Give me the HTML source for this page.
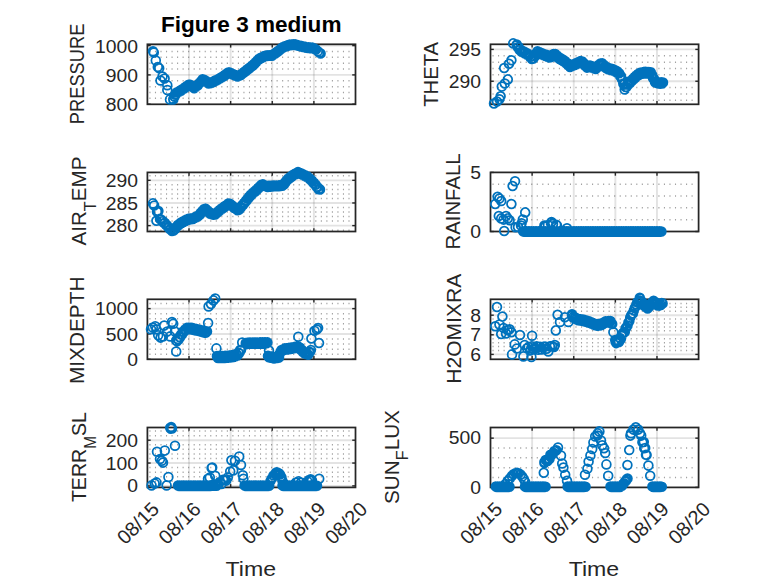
<!DOCTYPE html>
<html><head><meta charset="utf-8"><style>
html,body{margin:0;padding:0;background:#fff;}
body{width:778px;height:583px;overflow:hidden;}
svg{display:block;font-family:"Liberation Sans",sans-serif;}
</style></head><body>
<svg width="778" height="583" viewBox="0 0 778 583">
<rect width="778" height="583" fill="#fff"/>
<line x1="149.40" y1="98.35" x2="352.00" y2="98.35" stroke="#a2a2a2" stroke-width="1.5" stroke-dasharray="1.1 4.429"/>
<line x1="149.40" y1="92.49" x2="352.00" y2="92.49" stroke="#a2a2a2" stroke-width="1.5" stroke-dasharray="1.1 4.429"/>
<line x1="149.40" y1="86.63" x2="352.00" y2="86.63" stroke="#a2a2a2" stroke-width="1.5" stroke-dasharray="1.1 4.429"/>
<line x1="149.40" y1="80.76" x2="352.00" y2="80.76" stroke="#a2a2a2" stroke-width="1.5" stroke-dasharray="1.1 4.429"/>
<line x1="149.40" y1="69.04" x2="352.00" y2="69.04" stroke="#a2a2a2" stroke-width="1.5" stroke-dasharray="1.1 4.429"/>
<line x1="149.40" y1="63.18" x2="352.00" y2="63.18" stroke="#a2a2a2" stroke-width="1.5" stroke-dasharray="1.1 4.429"/>
<line x1="149.40" y1="57.31" x2="352.00" y2="57.31" stroke="#a2a2a2" stroke-width="1.5" stroke-dasharray="1.1 4.429"/>
<line x1="149.40" y1="51.45" x2="352.00" y2="51.45" stroke="#a2a2a2" stroke-width="1.5" stroke-dasharray="1.1 4.429"/>
<line x1="147.40" y1="74.90" x2="355.50" y2="74.90" stroke="#262626" stroke-opacity="0.13" stroke-width="1.9"/>
<line x1="147.40" y1="45.59" x2="355.50" y2="45.59" stroke="#262626" stroke-opacity="0.13" stroke-width="1.9"/>
<line x1="189.02" y1="44.30" x2="189.02" y2="104.30" stroke="#262626" stroke-opacity="0.13" stroke-width="1.9"/>
<line x1="230.64" y1="44.30" x2="230.64" y2="104.30" stroke="#262626" stroke-opacity="0.13" stroke-width="1.9"/>
<line x1="272.26" y1="44.30" x2="272.26" y2="104.30" stroke="#262626" stroke-opacity="0.13" stroke-width="1.9"/>
<line x1="313.88" y1="44.30" x2="313.88" y2="104.30" stroke="#262626" stroke-opacity="0.13" stroke-width="1.9"/>
<line x1="492.50" y1="100.35" x2="695.10" y2="100.35" stroke="#a2a2a2" stroke-width="1.5" stroke-dasharray="1.1 4.429"/>
<line x1="492.50" y1="93.98" x2="695.10" y2="93.98" stroke="#a2a2a2" stroke-width="1.5" stroke-dasharray="1.1 4.429"/>
<line x1="492.50" y1="87.61" x2="695.10" y2="87.61" stroke="#a2a2a2" stroke-width="1.5" stroke-dasharray="1.1 4.429"/>
<line x1="492.50" y1="74.87" x2="695.10" y2="74.87" stroke="#a2a2a2" stroke-width="1.5" stroke-dasharray="1.1 4.429"/>
<line x1="492.50" y1="68.50" x2="695.10" y2="68.50" stroke="#a2a2a2" stroke-width="1.5" stroke-dasharray="1.1 4.429"/>
<line x1="492.50" y1="62.13" x2="695.10" y2="62.13" stroke="#a2a2a2" stroke-width="1.5" stroke-dasharray="1.1 4.429"/>
<line x1="492.50" y1="55.76" x2="695.10" y2="55.76" stroke="#a2a2a2" stroke-width="1.5" stroke-dasharray="1.1 4.429"/>
<line x1="490.50" y1="81.24" x2="698.60" y2="81.24" stroke="#262626" stroke-opacity="0.13" stroke-width="1.9"/>
<line x1="490.50" y1="49.40" x2="698.60" y2="49.40" stroke="#262626" stroke-opacity="0.13" stroke-width="1.9"/>
<line x1="532.12" y1="44.30" x2="532.12" y2="104.30" stroke="#262626" stroke-opacity="0.13" stroke-width="1.9"/>
<line x1="573.74" y1="44.30" x2="573.74" y2="104.30" stroke="#262626" stroke-opacity="0.13" stroke-width="1.9"/>
<line x1="615.36" y1="44.30" x2="615.36" y2="104.30" stroke="#262626" stroke-opacity="0.13" stroke-width="1.9"/>
<line x1="656.98" y1="44.30" x2="656.98" y2="104.30" stroke="#262626" stroke-opacity="0.13" stroke-width="1.9"/>
<line x1="149.40" y1="230.14" x2="352.00" y2="230.14" stroke="#a2a2a2" stroke-width="1.5" stroke-dasharray="1.1 4.429"/>
<line x1="149.40" y1="221.08" x2="352.00" y2="221.08" stroke="#a2a2a2" stroke-width="1.5" stroke-dasharray="1.1 4.429"/>
<line x1="149.40" y1="216.56" x2="352.00" y2="216.56" stroke="#a2a2a2" stroke-width="1.5" stroke-dasharray="1.1 4.429"/>
<line x1="149.40" y1="212.03" x2="352.00" y2="212.03" stroke="#a2a2a2" stroke-width="1.5" stroke-dasharray="1.1 4.429"/>
<line x1="149.40" y1="207.50" x2="352.00" y2="207.50" stroke="#a2a2a2" stroke-width="1.5" stroke-dasharray="1.1 4.429"/>
<line x1="149.40" y1="198.44" x2="352.00" y2="198.44" stroke="#a2a2a2" stroke-width="1.5" stroke-dasharray="1.1 4.429"/>
<line x1="149.40" y1="193.91" x2="352.00" y2="193.91" stroke="#a2a2a2" stroke-width="1.5" stroke-dasharray="1.1 4.429"/>
<line x1="149.40" y1="189.38" x2="352.00" y2="189.38" stroke="#a2a2a2" stroke-width="1.5" stroke-dasharray="1.1 4.429"/>
<line x1="149.40" y1="184.85" x2="352.00" y2="184.85" stroke="#a2a2a2" stroke-width="1.5" stroke-dasharray="1.1 4.429"/>
<line x1="149.40" y1="175.80" x2="352.00" y2="175.80" stroke="#a2a2a2" stroke-width="1.5" stroke-dasharray="1.1 4.429"/>
<line x1="147.40" y1="225.61" x2="355.50" y2="225.61" stroke="#262626" stroke-opacity="0.13" stroke-width="1.9"/>
<line x1="147.40" y1="202.97" x2="355.50" y2="202.97" stroke="#262626" stroke-opacity="0.13" stroke-width="1.9"/>
<line x1="147.40" y1="180.33" x2="355.50" y2="180.33" stroke="#262626" stroke-opacity="0.13" stroke-width="1.9"/>
<line x1="189.02" y1="172.40" x2="189.02" y2="231.50" stroke="#262626" stroke-opacity="0.13" stroke-width="1.9"/>
<line x1="230.64" y1="172.40" x2="230.64" y2="231.50" stroke="#262626" stroke-opacity="0.13" stroke-width="1.9"/>
<line x1="272.26" y1="172.40" x2="272.26" y2="231.50" stroke="#262626" stroke-opacity="0.13" stroke-width="1.9"/>
<line x1="313.88" y1="172.40" x2="313.88" y2="231.50" stroke="#262626" stroke-opacity="0.13" stroke-width="1.9"/>
<line x1="492.50" y1="219.68" x2="695.10" y2="219.68" stroke="#a2a2a2" stroke-width="1.5" stroke-dasharray="1.1 4.429"/>
<line x1="492.50" y1="207.86" x2="695.10" y2="207.86" stroke="#a2a2a2" stroke-width="1.5" stroke-dasharray="1.1 4.429"/>
<line x1="492.50" y1="196.04" x2="695.10" y2="196.04" stroke="#a2a2a2" stroke-width="1.5" stroke-dasharray="1.1 4.429"/>
<line x1="492.50" y1="184.22" x2="695.10" y2="184.22" stroke="#a2a2a2" stroke-width="1.5" stroke-dasharray="1.1 4.429"/>
<line x1="532.12" y1="172.40" x2="532.12" y2="231.50" stroke="#262626" stroke-opacity="0.13" stroke-width="1.9"/>
<line x1="573.74" y1="172.40" x2="573.74" y2="231.50" stroke="#262626" stroke-opacity="0.13" stroke-width="1.9"/>
<line x1="615.36" y1="172.40" x2="615.36" y2="231.50" stroke="#262626" stroke-opacity="0.13" stroke-width="1.9"/>
<line x1="656.98" y1="172.40" x2="656.98" y2="231.50" stroke="#262626" stroke-opacity="0.13" stroke-width="1.9"/>
<line x1="149.40" y1="354.23" x2="352.00" y2="354.23" stroke="#a2a2a2" stroke-width="1.5" stroke-dasharray="1.1 4.429"/>
<line x1="149.40" y1="349.16" x2="352.00" y2="349.16" stroke="#a2a2a2" stroke-width="1.5" stroke-dasharray="1.1 4.429"/>
<line x1="149.40" y1="344.10" x2="352.00" y2="344.10" stroke="#a2a2a2" stroke-width="1.5" stroke-dasharray="1.1 4.429"/>
<line x1="149.40" y1="339.03" x2="352.00" y2="339.03" stroke="#a2a2a2" stroke-width="1.5" stroke-dasharray="1.1 4.429"/>
<line x1="149.40" y1="328.89" x2="352.00" y2="328.89" stroke="#a2a2a2" stroke-width="1.5" stroke-dasharray="1.1 4.429"/>
<line x1="149.40" y1="323.83" x2="352.00" y2="323.83" stroke="#a2a2a2" stroke-width="1.5" stroke-dasharray="1.1 4.429"/>
<line x1="149.40" y1="318.76" x2="352.00" y2="318.76" stroke="#a2a2a2" stroke-width="1.5" stroke-dasharray="1.1 4.429"/>
<line x1="149.40" y1="313.69" x2="352.00" y2="313.69" stroke="#a2a2a2" stroke-width="1.5" stroke-dasharray="1.1 4.429"/>
<line x1="149.40" y1="303.56" x2="352.00" y2="303.56" stroke="#a2a2a2" stroke-width="1.5" stroke-dasharray="1.1 4.429"/>
<line x1="147.40" y1="333.96" x2="355.50" y2="333.96" stroke="#262626" stroke-opacity="0.13" stroke-width="1.9"/>
<line x1="147.40" y1="308.62" x2="355.50" y2="308.62" stroke="#262626" stroke-opacity="0.13" stroke-width="1.9"/>
<line x1="189.02" y1="299.30" x2="189.02" y2="359.30" stroke="#262626" stroke-opacity="0.13" stroke-width="1.9"/>
<line x1="230.64" y1="299.30" x2="230.64" y2="359.30" stroke="#262626" stroke-opacity="0.13" stroke-width="1.9"/>
<line x1="272.26" y1="299.30" x2="272.26" y2="359.30" stroke="#262626" stroke-opacity="0.13" stroke-width="1.9"/>
<line x1="313.88" y1="299.30" x2="313.88" y2="359.30" stroke="#262626" stroke-opacity="0.13" stroke-width="1.9"/>
<line x1="492.50" y1="350.48" x2="695.10" y2="350.48" stroke="#a2a2a2" stroke-width="1.5" stroke-dasharray="1.1 4.429"/>
<line x1="492.50" y1="346.55" x2="695.10" y2="346.55" stroke="#a2a2a2" stroke-width="1.5" stroke-dasharray="1.1 4.429"/>
<line x1="492.50" y1="342.63" x2="695.10" y2="342.63" stroke="#a2a2a2" stroke-width="1.5" stroke-dasharray="1.1 4.429"/>
<line x1="492.50" y1="338.71" x2="695.10" y2="338.71" stroke="#a2a2a2" stroke-width="1.5" stroke-dasharray="1.1 4.429"/>
<line x1="492.50" y1="330.87" x2="695.10" y2="330.87" stroke="#a2a2a2" stroke-width="1.5" stroke-dasharray="1.1 4.429"/>
<line x1="492.50" y1="326.95" x2="695.10" y2="326.95" stroke="#a2a2a2" stroke-width="1.5" stroke-dasharray="1.1 4.429"/>
<line x1="492.50" y1="323.03" x2="695.10" y2="323.03" stroke="#a2a2a2" stroke-width="1.5" stroke-dasharray="1.1 4.429"/>
<line x1="492.50" y1="319.10" x2="695.10" y2="319.10" stroke="#a2a2a2" stroke-width="1.5" stroke-dasharray="1.1 4.429"/>
<line x1="492.50" y1="311.26" x2="695.10" y2="311.26" stroke="#a2a2a2" stroke-width="1.5" stroke-dasharray="1.1 4.429"/>
<line x1="492.50" y1="307.34" x2="695.10" y2="307.34" stroke="#a2a2a2" stroke-width="1.5" stroke-dasharray="1.1 4.429"/>
<line x1="492.50" y1="303.42" x2="695.10" y2="303.42" stroke="#a2a2a2" stroke-width="1.5" stroke-dasharray="1.1 4.429"/>
<line x1="490.50" y1="354.40" x2="698.60" y2="354.40" stroke="#262626" stroke-opacity="0.13" stroke-width="1.9"/>
<line x1="490.50" y1="334.79" x2="698.60" y2="334.79" stroke="#262626" stroke-opacity="0.13" stroke-width="1.9"/>
<line x1="490.50" y1="315.18" x2="698.60" y2="315.18" stroke="#262626" stroke-opacity="0.13" stroke-width="1.9"/>
<line x1="532.12" y1="299.30" x2="532.12" y2="359.30" stroke="#262626" stroke-opacity="0.13" stroke-width="1.9"/>
<line x1="573.74" y1="299.30" x2="573.74" y2="359.30" stroke="#262626" stroke-opacity="0.13" stroke-width="1.9"/>
<line x1="615.36" y1="299.30" x2="615.36" y2="359.30" stroke="#262626" stroke-opacity="0.13" stroke-width="1.9"/>
<line x1="656.98" y1="299.30" x2="656.98" y2="359.30" stroke="#262626" stroke-opacity="0.13" stroke-width="1.9"/>
<line x1="149.40" y1="481.32" x2="352.00" y2="481.32" stroke="#a2a2a2" stroke-width="1.5" stroke-dasharray="1.1 4.429"/>
<line x1="149.40" y1="476.75" x2="352.00" y2="476.75" stroke="#a2a2a2" stroke-width="1.5" stroke-dasharray="1.1 4.429"/>
<line x1="149.40" y1="472.19" x2="352.00" y2="472.19" stroke="#a2a2a2" stroke-width="1.5" stroke-dasharray="1.1 4.429"/>
<line x1="149.40" y1="467.62" x2="352.00" y2="467.62" stroke="#a2a2a2" stroke-width="1.5" stroke-dasharray="1.1 4.429"/>
<line x1="149.40" y1="458.48" x2="352.00" y2="458.48" stroke="#a2a2a2" stroke-width="1.5" stroke-dasharray="1.1 4.429"/>
<line x1="149.40" y1="453.91" x2="352.00" y2="453.91" stroke="#a2a2a2" stroke-width="1.5" stroke-dasharray="1.1 4.429"/>
<line x1="149.40" y1="449.34" x2="352.00" y2="449.34" stroke="#a2a2a2" stroke-width="1.5" stroke-dasharray="1.1 4.429"/>
<line x1="149.40" y1="444.77" x2="352.00" y2="444.77" stroke="#a2a2a2" stroke-width="1.5" stroke-dasharray="1.1 4.429"/>
<line x1="149.40" y1="435.63" x2="352.00" y2="435.63" stroke="#a2a2a2" stroke-width="1.5" stroke-dasharray="1.1 4.429"/>
<line x1="149.40" y1="431.06" x2="352.00" y2="431.06" stroke="#a2a2a2" stroke-width="1.5" stroke-dasharray="1.1 4.429"/>
<line x1="147.40" y1="485.89" x2="355.50" y2="485.89" stroke="#262626" stroke-opacity="0.13" stroke-width="1.9"/>
<line x1="147.40" y1="463.05" x2="355.50" y2="463.05" stroke="#262626" stroke-opacity="0.13" stroke-width="1.9"/>
<line x1="147.40" y1="440.20" x2="355.50" y2="440.20" stroke="#262626" stroke-opacity="0.13" stroke-width="1.9"/>
<line x1="189.02" y1="427.50" x2="189.02" y2="487.40" stroke="#262626" stroke-opacity="0.13" stroke-width="1.9"/>
<line x1="230.64" y1="427.50" x2="230.64" y2="487.40" stroke="#262626" stroke-opacity="0.13" stroke-width="1.9"/>
<line x1="272.26" y1="427.50" x2="272.26" y2="487.40" stroke="#262626" stroke-opacity="0.13" stroke-width="1.9"/>
<line x1="313.88" y1="427.50" x2="313.88" y2="487.40" stroke="#262626" stroke-opacity="0.13" stroke-width="1.9"/>
<line x1="492.50" y1="477.55" x2="695.10" y2="477.55" stroke="#a2a2a2" stroke-width="1.5" stroke-dasharray="1.1 4.429"/>
<line x1="492.50" y1="467.70" x2="695.10" y2="467.70" stroke="#a2a2a2" stroke-width="1.5" stroke-dasharray="1.1 4.429"/>
<line x1="492.50" y1="457.84" x2="695.10" y2="457.84" stroke="#a2a2a2" stroke-width="1.5" stroke-dasharray="1.1 4.429"/>
<line x1="492.50" y1="447.99" x2="695.10" y2="447.99" stroke="#a2a2a2" stroke-width="1.5" stroke-dasharray="1.1 4.429"/>
<line x1="490.50" y1="438.14" x2="698.60" y2="438.14" stroke="#262626" stroke-opacity="0.13" stroke-width="1.9"/>
<line x1="532.12" y1="427.50" x2="532.12" y2="487.40" stroke="#262626" stroke-opacity="0.13" stroke-width="1.9"/>
<line x1="573.74" y1="427.50" x2="573.74" y2="487.40" stroke="#262626" stroke-opacity="0.13" stroke-width="1.9"/>
<line x1="615.36" y1="427.50" x2="615.36" y2="487.40" stroke="#262626" stroke-opacity="0.13" stroke-width="1.9"/>
<line x1="656.98" y1="427.50" x2="656.98" y2="487.40" stroke="#262626" stroke-opacity="0.13" stroke-width="1.9"/>
<rect x="147.40" y="44.30" width="208.10" height="60.00" fill="none" stroke="#262626" stroke-width="1.75"/>
<line x1="147.40" y1="104.21" x2="150.70" y2="104.21" stroke="#262626" stroke-width="1.4"/>
<line x1="355.50" y1="104.21" x2="352.20" y2="104.21" stroke="#262626" stroke-width="1.4"/>
<line x1="147.40" y1="74.90" x2="150.70" y2="74.90" stroke="#262626" stroke-width="1.4"/>
<line x1="355.50" y1="74.90" x2="352.20" y2="74.90" stroke="#262626" stroke-width="1.4"/>
<line x1="147.40" y1="45.59" x2="150.70" y2="45.59" stroke="#262626" stroke-width="1.4"/>
<line x1="355.50" y1="45.59" x2="352.20" y2="45.59" stroke="#262626" stroke-width="1.4"/>
<line x1="189.02" y1="44.30" x2="189.02" y2="47.60" stroke="#262626" stroke-width="1.4"/>
<line x1="189.02" y1="104.30" x2="189.02" y2="101.00" stroke="#262626" stroke-width="1.4"/>
<line x1="230.64" y1="44.30" x2="230.64" y2="47.60" stroke="#262626" stroke-width="1.4"/>
<line x1="230.64" y1="104.30" x2="230.64" y2="101.00" stroke="#262626" stroke-width="1.4"/>
<line x1="272.26" y1="44.30" x2="272.26" y2="47.60" stroke="#262626" stroke-width="1.4"/>
<line x1="272.26" y1="104.30" x2="272.26" y2="101.00" stroke="#262626" stroke-width="1.4"/>
<line x1="313.88" y1="44.30" x2="313.88" y2="47.60" stroke="#262626" stroke-width="1.4"/>
<line x1="313.88" y1="104.30" x2="313.88" y2="101.00" stroke="#262626" stroke-width="1.4"/>
<rect x="490.50" y="44.30" width="208.10" height="60.00" fill="none" stroke="#262626" stroke-width="1.75"/>
<line x1="490.50" y1="81.24" x2="493.80" y2="81.24" stroke="#262626" stroke-width="1.4"/>
<line x1="698.60" y1="81.24" x2="695.30" y2="81.24" stroke="#262626" stroke-width="1.4"/>
<line x1="490.50" y1="49.40" x2="493.80" y2="49.40" stroke="#262626" stroke-width="1.4"/>
<line x1="698.60" y1="49.40" x2="695.30" y2="49.40" stroke="#262626" stroke-width="1.4"/>
<line x1="532.12" y1="44.30" x2="532.12" y2="47.60" stroke="#262626" stroke-width="1.4"/>
<line x1="532.12" y1="104.30" x2="532.12" y2="101.00" stroke="#262626" stroke-width="1.4"/>
<line x1="573.74" y1="44.30" x2="573.74" y2="47.60" stroke="#262626" stroke-width="1.4"/>
<line x1="573.74" y1="104.30" x2="573.74" y2="101.00" stroke="#262626" stroke-width="1.4"/>
<line x1="615.36" y1="44.30" x2="615.36" y2="47.60" stroke="#262626" stroke-width="1.4"/>
<line x1="615.36" y1="104.30" x2="615.36" y2="101.00" stroke="#262626" stroke-width="1.4"/>
<line x1="656.98" y1="44.30" x2="656.98" y2="47.60" stroke="#262626" stroke-width="1.4"/>
<line x1="656.98" y1="104.30" x2="656.98" y2="101.00" stroke="#262626" stroke-width="1.4"/>
<rect x="147.40" y="172.40" width="208.10" height="59.10" fill="none" stroke="#262626" stroke-width="1.75"/>
<line x1="147.40" y1="225.61" x2="150.70" y2="225.61" stroke="#262626" stroke-width="1.4"/>
<line x1="355.50" y1="225.61" x2="352.20" y2="225.61" stroke="#262626" stroke-width="1.4"/>
<line x1="147.40" y1="202.97" x2="150.70" y2="202.97" stroke="#262626" stroke-width="1.4"/>
<line x1="355.50" y1="202.97" x2="352.20" y2="202.97" stroke="#262626" stroke-width="1.4"/>
<line x1="147.40" y1="180.33" x2="150.70" y2="180.33" stroke="#262626" stroke-width="1.4"/>
<line x1="355.50" y1="180.33" x2="352.20" y2="180.33" stroke="#262626" stroke-width="1.4"/>
<line x1="189.02" y1="172.40" x2="189.02" y2="175.70" stroke="#262626" stroke-width="1.4"/>
<line x1="189.02" y1="231.50" x2="189.02" y2="228.20" stroke="#262626" stroke-width="1.4"/>
<line x1="230.64" y1="172.40" x2="230.64" y2="175.70" stroke="#262626" stroke-width="1.4"/>
<line x1="230.64" y1="231.50" x2="230.64" y2="228.20" stroke="#262626" stroke-width="1.4"/>
<line x1="272.26" y1="172.40" x2="272.26" y2="175.70" stroke="#262626" stroke-width="1.4"/>
<line x1="272.26" y1="231.50" x2="272.26" y2="228.20" stroke="#262626" stroke-width="1.4"/>
<line x1="313.88" y1="172.40" x2="313.88" y2="175.70" stroke="#262626" stroke-width="1.4"/>
<line x1="313.88" y1="231.50" x2="313.88" y2="228.20" stroke="#262626" stroke-width="1.4"/>
<rect x="490.50" y="172.40" width="208.10" height="59.10" fill="none" stroke="#262626" stroke-width="1.75"/>
<line x1="490.50" y1="231.50" x2="493.80" y2="231.50" stroke="#262626" stroke-width="1.4"/>
<line x1="698.60" y1="231.50" x2="695.30" y2="231.50" stroke="#262626" stroke-width="1.4"/>
<line x1="490.50" y1="172.40" x2="493.80" y2="172.40" stroke="#262626" stroke-width="1.4"/>
<line x1="698.60" y1="172.40" x2="695.30" y2="172.40" stroke="#262626" stroke-width="1.4"/>
<line x1="532.12" y1="172.40" x2="532.12" y2="175.70" stroke="#262626" stroke-width="1.4"/>
<line x1="532.12" y1="231.50" x2="532.12" y2="228.20" stroke="#262626" stroke-width="1.4"/>
<line x1="573.74" y1="172.40" x2="573.74" y2="175.70" stroke="#262626" stroke-width="1.4"/>
<line x1="573.74" y1="231.50" x2="573.74" y2="228.20" stroke="#262626" stroke-width="1.4"/>
<line x1="615.36" y1="172.40" x2="615.36" y2="175.70" stroke="#262626" stroke-width="1.4"/>
<line x1="615.36" y1="231.50" x2="615.36" y2="228.20" stroke="#262626" stroke-width="1.4"/>
<line x1="656.98" y1="172.40" x2="656.98" y2="175.70" stroke="#262626" stroke-width="1.4"/>
<line x1="656.98" y1="231.50" x2="656.98" y2="228.20" stroke="#262626" stroke-width="1.4"/>
<rect x="147.40" y="299.30" width="208.10" height="60.00" fill="none" stroke="#262626" stroke-width="1.75"/>
<line x1="147.40" y1="359.30" x2="150.70" y2="359.30" stroke="#262626" stroke-width="1.4"/>
<line x1="355.50" y1="359.30" x2="352.20" y2="359.30" stroke="#262626" stroke-width="1.4"/>
<line x1="147.40" y1="333.96" x2="150.70" y2="333.96" stroke="#262626" stroke-width="1.4"/>
<line x1="355.50" y1="333.96" x2="352.20" y2="333.96" stroke="#262626" stroke-width="1.4"/>
<line x1="147.40" y1="308.62" x2="150.70" y2="308.62" stroke="#262626" stroke-width="1.4"/>
<line x1="355.50" y1="308.62" x2="352.20" y2="308.62" stroke="#262626" stroke-width="1.4"/>
<line x1="189.02" y1="299.30" x2="189.02" y2="302.60" stroke="#262626" stroke-width="1.4"/>
<line x1="189.02" y1="359.30" x2="189.02" y2="356.00" stroke="#262626" stroke-width="1.4"/>
<line x1="230.64" y1="299.30" x2="230.64" y2="302.60" stroke="#262626" stroke-width="1.4"/>
<line x1="230.64" y1="359.30" x2="230.64" y2="356.00" stroke="#262626" stroke-width="1.4"/>
<line x1="272.26" y1="299.30" x2="272.26" y2="302.60" stroke="#262626" stroke-width="1.4"/>
<line x1="272.26" y1="359.30" x2="272.26" y2="356.00" stroke="#262626" stroke-width="1.4"/>
<line x1="313.88" y1="299.30" x2="313.88" y2="302.60" stroke="#262626" stroke-width="1.4"/>
<line x1="313.88" y1="359.30" x2="313.88" y2="356.00" stroke="#262626" stroke-width="1.4"/>
<rect x="490.50" y="299.30" width="208.10" height="60.00" fill="none" stroke="#262626" stroke-width="1.75"/>
<line x1="490.50" y1="354.40" x2="493.80" y2="354.40" stroke="#262626" stroke-width="1.4"/>
<line x1="698.60" y1="354.40" x2="695.30" y2="354.40" stroke="#262626" stroke-width="1.4"/>
<line x1="490.50" y1="334.79" x2="493.80" y2="334.79" stroke="#262626" stroke-width="1.4"/>
<line x1="698.60" y1="334.79" x2="695.30" y2="334.79" stroke="#262626" stroke-width="1.4"/>
<line x1="490.50" y1="315.18" x2="493.80" y2="315.18" stroke="#262626" stroke-width="1.4"/>
<line x1="698.60" y1="315.18" x2="695.30" y2="315.18" stroke="#262626" stroke-width="1.4"/>
<line x1="532.12" y1="299.30" x2="532.12" y2="302.60" stroke="#262626" stroke-width="1.4"/>
<line x1="532.12" y1="359.30" x2="532.12" y2="356.00" stroke="#262626" stroke-width="1.4"/>
<line x1="573.74" y1="299.30" x2="573.74" y2="302.60" stroke="#262626" stroke-width="1.4"/>
<line x1="573.74" y1="359.30" x2="573.74" y2="356.00" stroke="#262626" stroke-width="1.4"/>
<line x1="615.36" y1="299.30" x2="615.36" y2="302.60" stroke="#262626" stroke-width="1.4"/>
<line x1="615.36" y1="359.30" x2="615.36" y2="356.00" stroke="#262626" stroke-width="1.4"/>
<line x1="656.98" y1="299.30" x2="656.98" y2="302.60" stroke="#262626" stroke-width="1.4"/>
<line x1="656.98" y1="359.30" x2="656.98" y2="356.00" stroke="#262626" stroke-width="1.4"/>
<rect x="147.40" y="427.50" width="208.10" height="59.90" fill="none" stroke="#262626" stroke-width="1.75"/>
<line x1="147.40" y1="485.89" x2="150.70" y2="485.89" stroke="#262626" stroke-width="1.4"/>
<line x1="355.50" y1="485.89" x2="352.20" y2="485.89" stroke="#262626" stroke-width="1.4"/>
<line x1="147.40" y1="463.05" x2="150.70" y2="463.05" stroke="#262626" stroke-width="1.4"/>
<line x1="355.50" y1="463.05" x2="352.20" y2="463.05" stroke="#262626" stroke-width="1.4"/>
<line x1="147.40" y1="440.20" x2="150.70" y2="440.20" stroke="#262626" stroke-width="1.4"/>
<line x1="355.50" y1="440.20" x2="352.20" y2="440.20" stroke="#262626" stroke-width="1.4"/>
<line x1="189.02" y1="427.50" x2="189.02" y2="430.80" stroke="#262626" stroke-width="1.4"/>
<line x1="189.02" y1="487.40" x2="189.02" y2="484.10" stroke="#262626" stroke-width="1.4"/>
<line x1="230.64" y1="427.50" x2="230.64" y2="430.80" stroke="#262626" stroke-width="1.4"/>
<line x1="230.64" y1="487.40" x2="230.64" y2="484.10" stroke="#262626" stroke-width="1.4"/>
<line x1="272.26" y1="427.50" x2="272.26" y2="430.80" stroke="#262626" stroke-width="1.4"/>
<line x1="272.26" y1="487.40" x2="272.26" y2="484.10" stroke="#262626" stroke-width="1.4"/>
<line x1="313.88" y1="427.50" x2="313.88" y2="430.80" stroke="#262626" stroke-width="1.4"/>
<line x1="313.88" y1="487.40" x2="313.88" y2="484.10" stroke="#262626" stroke-width="1.4"/>
<rect x="490.50" y="427.50" width="208.10" height="59.90" fill="none" stroke="#262626" stroke-width="1.75"/>
<line x1="490.50" y1="487.40" x2="493.80" y2="487.40" stroke="#262626" stroke-width="1.4"/>
<line x1="698.60" y1="487.40" x2="695.30" y2="487.40" stroke="#262626" stroke-width="1.4"/>
<line x1="490.50" y1="438.14" x2="493.80" y2="438.14" stroke="#262626" stroke-width="1.4"/>
<line x1="698.60" y1="438.14" x2="695.30" y2="438.14" stroke="#262626" stroke-width="1.4"/>
<line x1="532.12" y1="427.50" x2="532.12" y2="430.80" stroke="#262626" stroke-width="1.4"/>
<line x1="532.12" y1="487.40" x2="532.12" y2="484.10" stroke="#262626" stroke-width="1.4"/>
<line x1="573.74" y1="427.50" x2="573.74" y2="430.80" stroke="#262626" stroke-width="1.4"/>
<line x1="573.74" y1="487.40" x2="573.74" y2="484.10" stroke="#262626" stroke-width="1.4"/>
<line x1="615.36" y1="427.50" x2="615.36" y2="430.80" stroke="#262626" stroke-width="1.4"/>
<line x1="615.36" y1="487.40" x2="615.36" y2="484.10" stroke="#262626" stroke-width="1.4"/>
<line x1="656.98" y1="427.50" x2="656.98" y2="430.80" stroke="#262626" stroke-width="1.4"/>
<line x1="656.98" y1="487.40" x2="656.98" y2="484.10" stroke="#262626" stroke-width="1.4"/>
<g id="data" fill="none" stroke="#0072bd" stroke-width="1.75">
<path d="M157.4 51.2a4.4 4.4 0 1 0 -8.8 0a4.4 4.4 0 1 0 8.8 0M158.2 52.6a4.4 4.4 0 1 0 -8.8 0a4.4 4.4 0 1 0 8.8 0M160.2 60.5a4.4 4.4 0 1 0 -8.8 0a4.4 4.4 0 1 0 8.8 0M162.2 67.0a4.4 4.4 0 1 0 -8.8 0a4.4 4.4 0 1 0 8.8 0M163.6 68.3a4.4 4.4 0 1 0 -8.8 0a4.4 4.4 0 1 0 8.8 0M166.9 76.4a4.4 4.4 0 1 0 -8.8 0a4.4 4.4 0 1 0 8.8 0M164.9 80.5a4.4 4.4 0 1 0 -8.8 0a4.4 4.4 0 1 0 8.8 0M169.0 78.5a4.4 4.4 0 1 0 -8.8 0a4.4 4.4 0 1 0 8.8 0M171.7 85.2a4.4 4.4 0 1 0 -8.8 0a4.4 4.4 0 1 0 8.8 0M171.7 90.0a4.4 4.4 0 1 0 -8.8 0a4.4 4.4 0 1 0 8.8 0M174.4 99.4a4.4 4.4 0 1 0 -8.8 0a4.4 4.4 0 1 0 8.8 0M177.7 99.4a4.4 4.4 0 1 0 -8.8 0a4.4 4.4 0 1 0 8.8 0M177.7 99.1a4.4 4.4 0 1 0 -8.8 0a4.4 4.4 0 1 0 8.8 0M178.9 96.7a4.4 4.4 0 1 0 -8.8 0a4.4 4.4 0 1 0 8.8 0M179.7 94.8a4.4 4.4 0 1 0 -8.8 0a4.4 4.4 0 1 0 8.8 0M180.6 94.1a4.4 4.4 0 1 0 -8.8 0a4.4 4.4 0 1 0 8.8 0M181.4 92.2a4.4 4.4 0 1 0 -8.8 0a4.4 4.4 0 1 0 8.8 0M182.2 92.4a4.4 4.4 0 1 0 -8.8 0a4.4 4.4 0 1 0 8.8 0M183.0 91.4a4.4 4.4 0 1 0 -8.8 0a4.4 4.4 0 1 0 8.8 0M183.8 91.5a4.4 4.4 0 1 0 -8.8 0a4.4 4.4 0 1 0 8.8 0M184.6 90.5a4.4 4.4 0 1 0 -8.8 0a4.4 4.4 0 1 0 8.8 0M185.4 90.7a4.4 4.4 0 1 0 -8.8 0a4.4 4.4 0 1 0 8.8 0M186.2 89.5a4.4 4.4 0 1 0 -8.8 0a4.4 4.4 0 1 0 8.8 0M187.0 89.5a4.4 4.4 0 1 0 -8.8 0a4.4 4.4 0 1 0 8.8 0M187.8 88.4a4.4 4.4 0 1 0 -8.8 0a4.4 4.4 0 1 0 8.8 0M188.6 88.4a4.4 4.4 0 1 0 -8.8 0a4.4 4.4 0 1 0 8.8 0M189.4 87.2a4.4 4.4 0 1 0 -8.8 0a4.4 4.4 0 1 0 8.8 0M190.3 87.2a4.4 4.4 0 1 0 -8.8 0a4.4 4.4 0 1 0 8.8 0M191.2 86.0a4.4 4.4 0 1 0 -8.8 0a4.4 4.4 0 1 0 8.8 0M192.0 85.9a4.4 4.4 0 1 0 -8.8 0a4.4 4.4 0 1 0 8.8 0M192.9 84.7a4.4 4.4 0 1 0 -8.8 0a4.4 4.4 0 1 0 8.8 0M193.8 84.7a4.4 4.4 0 1 0 -8.8 0a4.4 4.4 0 1 0 8.8 0M194.6 84.7a4.4 4.4 0 1 0 -8.8 0a4.4 4.4 0 1 0 8.8 0M195.4 85.9a4.4 4.4 0 1 0 -8.8 0a4.4 4.4 0 1 0 8.8 0M196.2 85.9a4.4 4.4 0 1 0 -8.8 0a4.4 4.4 0 1 0 8.8 0M197.0 87.1a4.4 4.4 0 1 0 -8.8 0a4.4 4.4 0 1 0 8.8 0M197.8 87.1a4.4 4.4 0 1 0 -8.8 0a4.4 4.4 0 1 0 8.8 0M198.6 88.3a4.4 4.4 0 1 0 -8.8 0a4.4 4.4 0 1 0 8.8 0M199.5 87.0a4.4 4.4 0 1 0 -8.8 0a4.4 4.4 0 1 0 8.8 0M200.5 86.8a4.4 4.4 0 1 0 -8.8 0a4.4 4.4 0 1 0 8.8 0M201.5 85.5a4.4 4.4 0 1 0 -8.8 0a4.4 4.4 0 1 0 8.8 0M202.4 85.3a4.4 4.4 0 1 0 -8.8 0a4.4 4.4 0 1 0 8.8 0M203.3 83.6a4.4 4.4 0 1 0 -8.8 0a4.4 4.4 0 1 0 8.8 0M204.2 83.1a4.4 4.4 0 1 0 -8.8 0a4.4 4.4 0 1 0 8.8 0M205.2 81.5a4.4 4.4 0 1 0 -8.8 0a4.4 4.4 0 1 0 8.8 0M206.1 81.0a4.4 4.4 0 1 0 -8.8 0a4.4 4.4 0 1 0 8.8 0M207.0 79.3a4.4 4.4 0 1 0 -8.8 0a4.4 4.4 0 1 0 8.8 0M207.8 80.2a4.4 4.4 0 1 0 -8.8 0a4.4 4.4 0 1 0 8.8 0M208.6 79.8a4.4 4.4 0 1 0 -8.8 0a4.4 4.4 0 1 0 8.8 0M209.4 80.7a4.4 4.4 0 1 0 -8.8 0a4.4 4.4 0 1 0 8.8 0M210.3 80.8a4.4 4.4 0 1 0 -8.8 0a4.4 4.4 0 1 0 8.8 0M211.2 82.1a4.4 4.4 0 1 0 -8.8 0a4.4 4.4 0 1 0 8.8 0M212.1 82.2a4.4 4.4 0 1 0 -8.8 0a4.4 4.4 0 1 0 8.8 0M213.0 83.5a4.4 4.4 0 1 0 -8.8 0a4.4 4.4 0 1 0 8.8 0M213.8 82.8a4.4 4.4 0 1 0 -8.8 0a4.4 4.4 0 1 0 8.8 0M214.6 83.2a4.4 4.4 0 1 0 -8.8 0a4.4 4.4 0 1 0 8.8 0M215.4 82.5a4.4 4.4 0 1 0 -8.8 0a4.4 4.4 0 1 0 8.8 0M216.3 82.7a4.4 4.4 0 1 0 -8.8 0a4.4 4.4 0 1 0 8.8 0M217.1 81.7a4.4 4.4 0 1 0 -8.8 0a4.4 4.4 0 1 0 8.8 0M218.0 81.9a4.4 4.4 0 1 0 -8.8 0a4.4 4.4 0 1 0 8.8 0M218.8 80.9a4.4 4.4 0 1 0 -8.8 0a4.4 4.4 0 1 0 8.8 0M219.7 81.1a4.4 4.4 0 1 0 -8.8 0a4.4 4.4 0 1 0 8.8 0M220.5 80.1a4.4 4.4 0 1 0 -8.8 0a4.4 4.4 0 1 0 8.8 0M221.4 80.3a4.4 4.4 0 1 0 -8.8 0a4.4 4.4 0 1 0 8.8 0M222.3 79.2a4.4 4.4 0 1 0 -8.8 0a4.4 4.4 0 1 0 8.8 0M223.1 79.3a4.4 4.4 0 1 0 -8.8 0a4.4 4.4 0 1 0 8.8 0M224.0 78.2a4.4 4.4 0 1 0 -8.8 0a4.4 4.4 0 1 0 8.8 0M224.8 78.3a4.4 4.4 0 1 0 -8.8 0a4.4 4.4 0 1 0 8.8 0M225.7 77.2a4.4 4.4 0 1 0 -8.8 0a4.4 4.4 0 1 0 8.8 0M226.5 77.3a4.4 4.4 0 1 0 -8.8 0a4.4 4.4 0 1 0 8.8 0M227.4 76.2a4.4 4.4 0 1 0 -8.8 0a4.4 4.4 0 1 0 8.8 0M228.3 76.2a4.4 4.4 0 1 0 -8.8 0a4.4 4.4 0 1 0 8.8 0M229.1 75.0a4.4 4.4 0 1 0 -8.8 0a4.4 4.4 0 1 0 8.8 0M230.0 75.0a4.4 4.4 0 1 0 -8.8 0a4.4 4.4 0 1 0 8.8 0M230.8 73.8a4.4 4.4 0 1 0 -8.8 0a4.4 4.4 0 1 0 8.8 0M231.7 73.8a4.4 4.4 0 1 0 -8.8 0a4.4 4.4 0 1 0 8.8 0M232.5 72.6a4.4 4.4 0 1 0 -8.8 0a4.4 4.4 0 1 0 8.8 0M233.4 72.6a4.4 4.4 0 1 0 -8.8 0a4.4 4.4 0 1 0 8.8 0M234.2 72.4a4.4 4.4 0 1 0 -8.8 0a4.4 4.4 0 1 0 8.8 0M235.0 73.4a4.4 4.4 0 1 0 -8.8 0a4.4 4.4 0 1 0 8.8 0M235.8 73.2a4.4 4.4 0 1 0 -8.8 0a4.4 4.4 0 1 0 8.8 0M236.6 74.2a4.4 4.4 0 1 0 -8.8 0a4.4 4.4 0 1 0 8.8 0M237.4 74.0a4.4 4.4 0 1 0 -8.8 0a4.4 4.4 0 1 0 8.8 0M238.2 75.0a4.4 4.4 0 1 0 -8.8 0a4.4 4.4 0 1 0 8.8 0M239.1 74.8a4.4 4.4 0 1 0 -8.8 0a4.4 4.4 0 1 0 8.8 0M240.0 75.8a4.4 4.4 0 1 0 -8.8 0a4.4 4.4 0 1 0 8.8 0M240.9 75.5a4.4 4.4 0 1 0 -8.8 0a4.4 4.4 0 1 0 8.8 0M241.8 76.5a4.4 4.4 0 1 0 -8.8 0a4.4 4.4 0 1 0 8.8 0M242.7 75.5a4.4 4.4 0 1 0 -8.8 0a4.4 4.4 0 1 0 8.8 0M243.6 75.8a4.4 4.4 0 1 0 -8.8 0a4.4 4.4 0 1 0 8.8 0M244.5 74.8a4.4 4.4 0 1 0 -8.8 0a4.4 4.4 0 1 0 8.8 0M245.4 75.0a4.4 4.4 0 1 0 -8.8 0a4.4 4.4 0 1 0 8.8 0M246.3 73.7a4.4 4.4 0 1 0 -8.8 0a4.4 4.4 0 1 0 8.8 0M247.1 73.6a4.4 4.4 0 1 0 -8.8 0a4.4 4.4 0 1 0 8.8 0M248.0 72.3a4.4 4.4 0 1 0 -8.8 0a4.4 4.4 0 1 0 8.8 0M248.8 72.3a4.4 4.4 0 1 0 -8.8 0a4.4 4.4 0 1 0 8.8 0M249.7 71.0a4.4 4.4 0 1 0 -8.8 0a4.4 4.4 0 1 0 8.8 0M250.5 70.9a4.4 4.4 0 1 0 -8.8 0a4.4 4.4 0 1 0 8.8 0M251.4 69.6a4.4 4.4 0 1 0 -8.8 0a4.4 4.4 0 1 0 8.8 0M252.3 69.5a4.4 4.4 0 1 0 -8.8 0a4.4 4.4 0 1 0 8.8 0M253.1 68.3a4.4 4.4 0 1 0 -8.8 0a4.4 4.4 0 1 0 8.8 0M254.0 68.2a4.4 4.4 0 1 0 -8.8 0a4.4 4.4 0 1 0 8.8 0M254.8 66.9a4.4 4.4 0 1 0 -8.8 0a4.4 4.4 0 1 0 8.8 0M255.7 66.8a4.4 4.4 0 1 0 -8.8 0a4.4 4.4 0 1 0 8.8 0M256.5 65.6a4.4 4.4 0 1 0 -8.8 0a4.4 4.4 0 1 0 8.8 0M257.4 65.5a4.4 4.4 0 1 0 -8.8 0a4.4 4.4 0 1 0 8.8 0M258.3 64.0a4.4 4.4 0 1 0 -8.8 0a4.4 4.4 0 1 0 8.8 0M259.1 63.7a4.4 4.4 0 1 0 -8.8 0a4.4 4.4 0 1 0 8.8 0M260.0 62.2a4.4 4.4 0 1 0 -8.8 0a4.4 4.4 0 1 0 8.8 0M260.8 62.0a4.4 4.4 0 1 0 -8.8 0a4.4 4.4 0 1 0 8.8 0M261.7 60.5a4.4 4.4 0 1 0 -8.8 0a4.4 4.4 0 1 0 8.8 0M262.5 60.2a4.4 4.4 0 1 0 -8.8 0a4.4 4.4 0 1 0 8.8 0M263.4 58.7a4.4 4.4 0 1 0 -8.8 0a4.4 4.4 0 1 0 8.8 0M264.3 58.9a4.4 4.4 0 1 0 -8.8 0a4.4 4.4 0 1 0 8.8 0M265.1 57.8a4.4 4.4 0 1 0 -8.8 0a4.4 4.4 0 1 0 8.8 0M266.0 58.0a4.4 4.4 0 1 0 -8.8 0a4.4 4.4 0 1 0 8.8 0M266.8 57.0a4.4 4.4 0 1 0 -8.8 0a4.4 4.4 0 1 0 8.8 0M267.7 57.2a4.4 4.4 0 1 0 -8.8 0a4.4 4.4 0 1 0 8.8 0M268.5 56.1a4.4 4.4 0 1 0 -8.8 0a4.4 4.4 0 1 0 8.8 0M269.4 56.3a4.4 4.4 0 1 0 -8.8 0a4.4 4.4 0 1 0 8.8 0M270.4 55.5a4.4 4.4 0 1 0 -8.8 0a4.4 4.4 0 1 0 8.8 0M271.4 56.0a4.4 4.4 0 1 0 -8.8 0a4.4 4.4 0 1 0 8.8 0M272.4 55.2a4.4 4.4 0 1 0 -8.8 0a4.4 4.4 0 1 0 8.8 0M273.2 55.8a4.4 4.4 0 1 0 -8.8 0a4.4 4.4 0 1 0 8.8 0M274.0 55.2a4.4 4.4 0 1 0 -8.8 0a4.4 4.4 0 1 0 8.8 0M274.8 55.8a4.4 4.4 0 1 0 -8.8 0a4.4 4.4 0 1 0 8.8 0M275.6 55.2a4.4 4.4 0 1 0 -8.8 0a4.4 4.4 0 1 0 8.8 0M276.4 55.8a4.4 4.4 0 1 0 -8.8 0a4.4 4.4 0 1 0 8.8 0M277.2 54.6a4.4 4.4 0 1 0 -8.8 0a4.4 4.4 0 1 0 8.8 0M278.1 54.6a4.4 4.4 0 1 0 -8.8 0a4.4 4.4 0 1 0 8.8 0M278.9 53.5a4.4 4.4 0 1 0 -8.8 0a4.4 4.4 0 1 0 8.8 0M279.7 53.5a4.4 4.4 0 1 0 -8.8 0a4.4 4.4 0 1 0 8.8 0M280.6 52.3a4.4 4.4 0 1 0 -8.8 0a4.4 4.4 0 1 0 8.8 0M281.4 52.3a4.4 4.4 0 1 0 -8.8 0a4.4 4.4 0 1 0 8.8 0M282.3 51.0a4.4 4.4 0 1 0 -8.8 0a4.4 4.4 0 1 0 8.8 0M283.1 51.0a4.4 4.4 0 1 0 -8.8 0a4.4 4.4 0 1 0 8.8 0M284.0 49.7a4.4 4.4 0 1 0 -8.8 0a4.4 4.4 0 1 0 8.8 0M284.8 49.6a4.4 4.4 0 1 0 -8.8 0a4.4 4.4 0 1 0 8.8 0M285.7 48.3a4.4 4.4 0 1 0 -8.8 0a4.4 4.4 0 1 0 8.8 0M286.5 48.3a4.4 4.4 0 1 0 -8.8 0a4.4 4.4 0 1 0 8.8 0M287.4 47.0a4.4 4.4 0 1 0 -8.8 0a4.4 4.4 0 1 0 8.8 0M288.3 47.3a4.4 4.4 0 1 0 -8.8 0a4.4 4.4 0 1 0 8.8 0M289.1 46.3a4.4 4.4 0 1 0 -8.8 0a4.4 4.4 0 1 0 8.8 0M290.0 46.6a4.4 4.4 0 1 0 -8.8 0a4.4 4.4 0 1 0 8.8 0M290.8 45.7a4.4 4.4 0 1 0 -8.8 0a4.4 4.4 0 1 0 8.8 0M291.7 46.0a4.4 4.4 0 1 0 -8.8 0a4.4 4.4 0 1 0 8.8 0M292.5 45.0a4.4 4.4 0 1 0 -8.8 0a4.4 4.4 0 1 0 8.8 0M293.4 45.3a4.4 4.4 0 1 0 -8.8 0a4.4 4.4 0 1 0 8.8 0M294.3 44.6a4.4 4.4 0 1 0 -8.8 0a4.4 4.4 0 1 0 8.8 0M295.1 45.2a4.4 4.4 0 1 0 -8.8 0a4.4 4.4 0 1 0 8.8 0M296.0 44.5a4.4 4.4 0 1 0 -8.8 0a4.4 4.4 0 1 0 8.8 0M296.8 45.1a4.4 4.4 0 1 0 -8.8 0a4.4 4.4 0 1 0 8.8 0M297.7 44.4a4.4 4.4 0 1 0 -8.8 0a4.4 4.4 0 1 0 8.8 0M298.5 45.0a4.4 4.4 0 1 0 -8.8 0a4.4 4.4 0 1 0 8.8 0M299.4 44.3a4.4 4.4 0 1 0 -8.8 0a4.4 4.4 0 1 0 8.8 0M300.3 45.1a4.4 4.4 0 1 0 -8.8 0a4.4 4.4 0 1 0 8.8 0M301.1 44.8a4.4 4.4 0 1 0 -8.8 0a4.4 4.4 0 1 0 8.8 0M302.0 45.6a4.4 4.4 0 1 0 -8.8 0a4.4 4.4 0 1 0 8.8 0M302.8 45.2a4.4 4.4 0 1 0 -8.8 0a4.4 4.4 0 1 0 8.8 0M303.7 46.0a4.4 4.4 0 1 0 -8.8 0a4.4 4.4 0 1 0 8.8 0M304.5 45.7a4.4 4.4 0 1 0 -8.8 0a4.4 4.4 0 1 0 8.8 0M305.4 46.5a4.4 4.4 0 1 0 -8.8 0a4.4 4.4 0 1 0 8.8 0M306.3 46.1a4.4 4.4 0 1 0 -8.8 0a4.4 4.4 0 1 0 8.8 0M307.1 46.9a4.4 4.4 0 1 0 -8.8 0a4.4 4.4 0 1 0 8.8 0M308.0 46.5a4.4 4.4 0 1 0 -8.8 0a4.4 4.4 0 1 0 8.8 0M308.8 47.3a4.4 4.4 0 1 0 -8.8 0a4.4 4.4 0 1 0 8.8 0M309.7 46.9a4.4 4.4 0 1 0 -8.8 0a4.4 4.4 0 1 0 8.8 0M310.5 47.7a4.4 4.4 0 1 0 -8.8 0a4.4 4.4 0 1 0 8.8 0M311.4 47.3a4.4 4.4 0 1 0 -8.8 0a4.4 4.4 0 1 0 8.8 0M312.3 48.0a4.4 4.4 0 1 0 -8.8 0a4.4 4.4 0 1 0 8.8 0M313.1 47.4a4.4 4.4 0 1 0 -8.8 0a4.4 4.4 0 1 0 8.8 0M314.0 48.1a4.4 4.4 0 1 0 -8.8 0a4.4 4.4 0 1 0 8.8 0M314.8 47.5a4.4 4.4 0 1 0 -8.8 0a4.4 4.4 0 1 0 8.8 0M315.7 48.2a4.4 4.4 0 1 0 -8.8 0a4.4 4.4 0 1 0 8.8 0M316.5 47.6a4.4 4.4 0 1 0 -8.8 0a4.4 4.4 0 1 0 8.8 0M317.4 48.3a4.4 4.4 0 1 0 -8.8 0a4.4 4.4 0 1 0 8.8 0M318.4 48.2a4.4 4.4 0 1 0 -8.8 0a4.4 4.4 0 1 0 8.8 0M319.4 49.3a4.4 4.4 0 1 0 -8.8 0a4.4 4.4 0 1 0 8.8 0M320.4 49.5a4.4 4.4 0 1 0 -8.8 0a4.4 4.4 0 1 0 8.8 0M322.2 51.3a4.4 4.4 0 1 0 -8.8 0a4.4 4.4 0 1 0 8.8 0M323.6 52.4a4.4 4.4 0 1 0 -8.8 0a4.4 4.4 0 1 0 8.8 0M325.0 53.4a4.4 4.4 0 1 0 -8.8 0a4.4 4.4 0 1 0 8.8 0"/>
<path d="M498.4 103.4a4.4 4.4 0 1 0 -8.8 0a4.4 4.4 0 1 0 8.8 0M501.4 101.6a4.4 4.4 0 1 0 -8.8 0a4.4 4.4 0 1 0 8.8 0M503.8 99.2a4.4 4.4 0 1 0 -8.8 0a4.4 4.4 0 1 0 8.8 0M505.0 96.2a4.4 4.4 0 1 0 -8.8 0a4.4 4.4 0 1 0 8.8 0M506.2 86.6a4.4 4.4 0 1 0 -8.8 0a4.4 4.4 0 1 0 8.8 0M509.2 83.6a4.4 4.4 0 1 0 -8.8 0a4.4 4.4 0 1 0 8.8 0M512.2 79.4a4.4 4.4 0 1 0 -8.8 0a4.4 4.4 0 1 0 8.8 0M508.6 68.0a4.4 4.4 0 1 0 -8.8 0a4.4 4.4 0 1 0 8.8 0M513.4 63.8a4.4 4.4 0 1 0 -8.8 0a4.4 4.4 0 1 0 8.8 0M515.8 60.2a4.4 4.4 0 1 0 -8.8 0a4.4 4.4 0 1 0 8.8 0M517.6 43.4a4.4 4.4 0 1 0 -8.8 0a4.4 4.4 0 1 0 8.8 0M521.2 45.2a4.4 4.4 0 1 0 -8.8 0a4.4 4.4 0 1 0 8.8 0M521.2 44.5a4.4 4.4 0 1 0 -8.8 0a4.4 4.4 0 1 0 8.8 0M522.1 47.2a4.4 4.4 0 1 0 -8.8 0a4.4 4.4 0 1 0 8.8 0M523.0 47.1a4.4 4.4 0 1 0 -8.8 0a4.4 4.4 0 1 0 8.8 0M524.0 49.9a4.4 4.4 0 1 0 -8.8 0a4.4 4.4 0 1 0 8.8 0M524.9 49.8a4.4 4.4 0 1 0 -8.8 0a4.4 4.4 0 1 0 8.8 0M525.8 51.7a4.4 4.4 0 1 0 -8.8 0a4.4 4.4 0 1 0 8.8 0M526.7 50.7a4.4 4.4 0 1 0 -8.8 0a4.4 4.4 0 1 0 8.8 0M527.6 52.6a4.4 4.4 0 1 0 -8.8 0a4.4 4.4 0 1 0 8.8 0M528.4 51.6a4.4 4.4 0 1 0 -8.8 0a4.4 4.4 0 1 0 8.8 0M529.3 53.5a4.4 4.4 0 1 0 -8.8 0a4.4 4.4 0 1 0 8.8 0M530.2 52.5a4.4 4.4 0 1 0 -8.8 0a4.4 4.4 0 1 0 8.8 0M531.1 54.4a4.4 4.4 0 1 0 -8.8 0a4.4 4.4 0 1 0 8.8 0M532.0 53.4a4.4 4.4 0 1 0 -8.8 0a4.4 4.4 0 1 0 8.8 0M532.8 55.6a4.4 4.4 0 1 0 -8.8 0a4.4 4.4 0 1 0 8.8 0M533.7 55.1a4.4 4.4 0 1 0 -8.8 0a4.4 4.4 0 1 0 8.8 0M534.5 57.3a4.4 4.4 0 1 0 -8.8 0a4.4 4.4 0 1 0 8.8 0M535.3 56.7a4.4 4.4 0 1 0 -8.8 0a4.4 4.4 0 1 0 8.8 0M536.2 59.0a4.4 4.4 0 1 0 -8.8 0a4.4 4.4 0 1 0 8.8 0M537.0 58.4a4.4 4.4 0 1 0 -8.8 0a4.4 4.4 0 1 0 8.8 0M537.8 58.6a4.4 4.4 0 1 0 -8.8 0a4.4 4.4 0 1 0 8.8 0M538.6 56.0a4.4 4.4 0 1 0 -8.8 0a4.4 4.4 0 1 0 8.8 0M539.4 56.2a4.4 4.4 0 1 0 -8.8 0a4.4 4.4 0 1 0 8.8 0M540.3 53.7a4.4 4.4 0 1 0 -8.8 0a4.4 4.4 0 1 0 8.8 0M541.1 53.9a4.4 4.4 0 1 0 -8.8 0a4.4 4.4 0 1 0 8.8 0M541.9 51.3a4.4 4.4 0 1 0 -8.8 0a4.4 4.4 0 1 0 8.8 0M542.8 53.1a4.4 4.4 0 1 0 -8.8 0a4.4 4.4 0 1 0 8.8 0M543.7 52.0a4.4 4.4 0 1 0 -8.8 0a4.4 4.4 0 1 0 8.8 0M544.6 53.8a4.4 4.4 0 1 0 -8.8 0a4.4 4.4 0 1 0 8.8 0M545.4 52.8a4.4 4.4 0 1 0 -8.8 0a4.4 4.4 0 1 0 8.8 0M546.3 54.5a4.4 4.4 0 1 0 -8.8 0a4.4 4.4 0 1 0 8.8 0M547.2 53.5a4.4 4.4 0 1 0 -8.8 0a4.4 4.4 0 1 0 8.8 0M548.1 55.2a4.4 4.4 0 1 0 -8.8 0a4.4 4.4 0 1 0 8.8 0M549.0 54.2a4.4 4.4 0 1 0 -8.8 0a4.4 4.4 0 1 0 8.8 0M549.9 56.0a4.4 4.4 0 1 0 -8.8 0a4.4 4.4 0 1 0 8.8 0M550.9 54.9a4.4 4.4 0 1 0 -8.8 0a4.4 4.4 0 1 0 8.8 0M551.8 56.7a4.4 4.4 0 1 0 -8.8 0a4.4 4.4 0 1 0 8.8 0M552.7 55.6a4.4 4.4 0 1 0 -8.8 0a4.4 4.4 0 1 0 8.8 0M553.7 57.4a4.4 4.4 0 1 0 -8.8 0a4.4 4.4 0 1 0 8.8 0M554.6 56.3a4.4 4.4 0 1 0 -8.8 0a4.4 4.4 0 1 0 8.8 0M555.5 57.1a4.4 4.4 0 1 0 -8.8 0a4.4 4.4 0 1 0 8.8 0M556.3 55.1a4.4 4.4 0 1 0 -8.8 0a4.4 4.4 0 1 0 8.8 0M557.2 56.0a4.4 4.4 0 1 0 -8.8 0a4.4 4.4 0 1 0 8.8 0M558.0 54.0a4.4 4.4 0 1 0 -8.8 0a4.4 4.4 0 1 0 8.8 0M558.9 54.8a4.4 4.4 0 1 0 -8.8 0a4.4 4.4 0 1 0 8.8 0M559.7 54.1a4.4 4.4 0 1 0 -8.8 0a4.4 4.4 0 1 0 8.8 0M560.6 56.2a4.4 4.4 0 1 0 -8.8 0a4.4 4.4 0 1 0 8.8 0M561.4 55.6a4.4 4.4 0 1 0 -8.8 0a4.4 4.4 0 1 0 8.8 0M562.3 57.7a4.4 4.4 0 1 0 -8.8 0a4.4 4.4 0 1 0 8.8 0M563.1 57.0a4.4 4.4 0 1 0 -8.8 0a4.4 4.4 0 1 0 8.8 0M563.9 58.9a4.4 4.4 0 1 0 -8.8 0a4.4 4.4 0 1 0 8.8 0M564.7 58.0a4.4 4.4 0 1 0 -8.8 0a4.4 4.4 0 1 0 8.8 0M565.5 59.9a4.4 4.4 0 1 0 -8.8 0a4.4 4.4 0 1 0 8.8 0M566.4 59.0a4.4 4.4 0 1 0 -8.8 0a4.4 4.4 0 1 0 8.8 0M567.2 60.9a4.4 4.4 0 1 0 -8.8 0a4.4 4.4 0 1 0 8.8 0M568.0 60.0a4.4 4.4 0 1 0 -8.8 0a4.4 4.4 0 1 0 8.8 0M568.8 61.9a4.4 4.4 0 1 0 -8.8 0a4.4 4.4 0 1 0 8.8 0M569.7 61.3a4.4 4.4 0 1 0 -8.8 0a4.4 4.4 0 1 0 8.8 0M570.7 63.6a4.4 4.4 0 1 0 -8.8 0a4.4 4.4 0 1 0 8.8 0M571.6 63.0a4.4 4.4 0 1 0 -8.8 0a4.4 4.4 0 1 0 8.8 0M572.5 65.2a4.4 4.4 0 1 0 -8.8 0a4.4 4.4 0 1 0 8.8 0M573.5 64.7a4.4 4.4 0 1 0 -8.8 0a4.4 4.4 0 1 0 8.8 0M574.4 66.9a4.4 4.4 0 1 0 -8.8 0a4.4 4.4 0 1 0 8.8 0M575.2 65.2a4.4 4.4 0 1 0 -8.8 0a4.4 4.4 0 1 0 8.8 0M576.0 66.3a4.4 4.4 0 1 0 -8.8 0a4.4 4.4 0 1 0 8.8 0M576.8 64.6a4.4 4.4 0 1 0 -8.8 0a4.4 4.4 0 1 0 8.8 0M577.7 65.6a4.4 4.4 0 1 0 -8.8 0a4.4 4.4 0 1 0 8.8 0M578.5 63.9a4.4 4.4 0 1 0 -8.8 0a4.4 4.4 0 1 0 8.8 0M579.3 65.0a4.4 4.4 0 1 0 -8.8 0a4.4 4.4 0 1 0 8.8 0M580.1 63.3a4.4 4.4 0 1 0 -8.8 0a4.4 4.4 0 1 0 8.8 0M580.9 64.3a4.4 4.4 0 1 0 -8.8 0a4.4 4.4 0 1 0 8.8 0M581.7 62.5a4.4 4.4 0 1 0 -8.8 0a4.4 4.4 0 1 0 8.8 0M582.5 63.5a4.4 4.4 0 1 0 -8.8 0a4.4 4.4 0 1 0 8.8 0M583.4 61.7a4.4 4.4 0 1 0 -8.8 0a4.4 4.4 0 1 0 8.8 0M584.2 62.7a4.4 4.4 0 1 0 -8.8 0a4.4 4.4 0 1 0 8.8 0M585.0 60.9a4.4 4.4 0 1 0 -8.8 0a4.4 4.4 0 1 0 8.8 0M585.8 61.9a4.4 4.4 0 1 0 -8.8 0a4.4 4.4 0 1 0 8.8 0M586.7 61.5a4.4 4.4 0 1 0 -8.8 0a4.4 4.4 0 1 0 8.8 0M587.7 63.8a4.4 4.4 0 1 0 -8.8 0a4.4 4.4 0 1 0 8.8 0M588.6 63.4a4.4 4.4 0 1 0 -8.8 0a4.4 4.4 0 1 0 8.8 0M589.5 65.7a4.4 4.4 0 1 0 -8.8 0a4.4 4.4 0 1 0 8.8 0M590.5 65.2a4.4 4.4 0 1 0 -8.8 0a4.4 4.4 0 1 0 8.8 0M591.4 67.6a4.4 4.4 0 1 0 -8.8 0a4.4 4.4 0 1 0 8.8 0M592.4 66.0a4.4 4.4 0 1 0 -8.8 0a4.4 4.4 0 1 0 8.8 0M593.4 67.1a4.4 4.4 0 1 0 -8.8 0a4.4 4.4 0 1 0 8.8 0M594.4 65.5a4.4 4.4 0 1 0 -8.8 0a4.4 4.4 0 1 0 8.8 0M595.2 67.2a4.4 4.4 0 1 0 -8.8 0a4.4 4.4 0 1 0 8.8 0M596.0 66.1a4.4 4.4 0 1 0 -8.8 0a4.4 4.4 0 1 0 8.8 0M596.8 67.8a4.4 4.4 0 1 0 -8.8 0a4.4 4.4 0 1 0 8.8 0M597.7 66.7a4.4 4.4 0 1 0 -8.8 0a4.4 4.4 0 1 0 8.8 0M598.5 68.4a4.4 4.4 0 1 0 -8.8 0a4.4 4.4 0 1 0 8.8 0M599.3 67.3a4.4 4.4 0 1 0 -8.8 0a4.4 4.4 0 1 0 8.8 0M600.1 69.0a4.4 4.4 0 1 0 -8.8 0a4.4 4.4 0 1 0 8.8 0M601.0 66.8a4.4 4.4 0 1 0 -8.8 0a4.4 4.4 0 1 0 8.8 0M602.0 67.3a4.4 4.4 0 1 0 -8.8 0a4.4 4.4 0 1 0 8.8 0M602.9 65.1a4.4 4.4 0 1 0 -8.8 0a4.4 4.4 0 1 0 8.8 0M603.8 65.7a4.4 4.4 0 1 0 -8.8 0a4.4 4.4 0 1 0 8.8 0M604.8 63.4a4.4 4.4 0 1 0 -8.8 0a4.4 4.4 0 1 0 8.8 0M605.7 64.0a4.4 4.4 0 1 0 -8.8 0a4.4 4.4 0 1 0 8.8 0M606.5 63.3a4.4 4.4 0 1 0 -8.8 0a4.4 4.4 0 1 0 8.8 0M607.3 65.4a4.4 4.4 0 1 0 -8.8 0a4.4 4.4 0 1 0 8.8 0M608.1 64.7a4.4 4.4 0 1 0 -8.8 0a4.4 4.4 0 1 0 8.8 0M609.0 66.9a4.4 4.4 0 1 0 -8.8 0a4.4 4.4 0 1 0 8.8 0M609.8 66.2a4.4 4.4 0 1 0 -8.8 0a4.4 4.4 0 1 0 8.8 0M610.6 68.3a4.4 4.4 0 1 0 -8.8 0a4.4 4.4 0 1 0 8.8 0M611.4 67.6a4.4 4.4 0 1 0 -8.8 0a4.4 4.4 0 1 0 8.8 0M612.3 69.2a4.4 4.4 0 1 0 -8.8 0a4.4 4.4 0 1 0 8.8 0M613.3 68.1a4.4 4.4 0 1 0 -8.8 0a4.4 4.4 0 1 0 8.8 0M614.2 69.7a4.4 4.4 0 1 0 -8.8 0a4.4 4.4 0 1 0 8.8 0M615.1 68.5a4.4 4.4 0 1 0 -8.8 0a4.4 4.4 0 1 0 8.8 0M616.1 70.2a4.4 4.4 0 1 0 -8.8 0a4.4 4.4 0 1 0 8.8 0M617.0 69.0a4.4 4.4 0 1 0 -8.8 0a4.4 4.4 0 1 0 8.8 0M617.8 70.8a4.4 4.4 0 1 0 -8.8 0a4.4 4.4 0 1 0 8.8 0M618.6 69.8a4.4 4.4 0 1 0 -8.8 0a4.4 4.4 0 1 0 8.8 0M619.4 71.6a4.4 4.4 0 1 0 -8.8 0a4.4 4.4 0 1 0 8.8 0M620.3 70.6a4.4 4.4 0 1 0 -8.8 0a4.4 4.4 0 1 0 8.8 0M621.1 72.4a4.4 4.4 0 1 0 -8.8 0a4.4 4.4 0 1 0 8.8 0M621.9 71.4a4.4 4.4 0 1 0 -8.8 0a4.4 4.4 0 1 0 8.8 0M622.7 73.2a4.4 4.4 0 1 0 -8.8 0a4.4 4.4 0 1 0 8.8 0M623.6 73.2a4.4 4.4 0 1 0 -8.8 0a4.4 4.4 0 1 0 8.8 0M624.4 76.0a4.4 4.4 0 1 0 -8.8 0a4.4 4.4 0 1 0 8.8 0M625.3 76.1a4.4 4.4 0 1 0 -8.8 0a4.4 4.4 0 1 0 8.8 0M626.2 78.9a4.4 4.4 0 1 0 -8.8 0a4.4 4.4 0 1 0 8.8 0M626.9 79.9a4.4 4.4 0 1 0 -8.8 0a4.4 4.4 0 1 0 8.8 0M627.7 83.6a4.4 4.4 0 1 0 -8.8 0a4.4 4.4 0 1 0 8.8 0M628.4 84.6a4.4 4.4 0 1 0 -8.8 0a4.4 4.4 0 1 0 8.8 0M629.1 89.5a4.4 4.4 0 1 0 -8.8 0a4.4 4.4 0 1 0 8.8 0M630.0 86.9a4.4 4.4 0 1 0 -8.8 0a4.4 4.4 0 1 0 8.8 0M630.9 87.1a4.4 4.4 0 1 0 -8.8 0a4.4 4.4 0 1 0 8.8 0M631.7 84.5a4.4 4.4 0 1 0 -8.8 0a4.4 4.4 0 1 0 8.8 0M632.6 84.7a4.4 4.4 0 1 0 -8.8 0a4.4 4.4 0 1 0 8.8 0M633.5 82.4a4.4 4.4 0 1 0 -8.8 0a4.4 4.4 0 1 0 8.8 0M634.5 82.9a4.4 4.4 0 1 0 -8.8 0a4.4 4.4 0 1 0 8.8 0M635.4 80.5a4.4 4.4 0 1 0 -8.8 0a4.4 4.4 0 1 0 8.8 0M636.3 81.0a4.4 4.4 0 1 0 -8.8 0a4.4 4.4 0 1 0 8.8 0M637.3 78.7a4.4 4.4 0 1 0 -8.8 0a4.4 4.4 0 1 0 8.8 0M638.2 79.2a4.4 4.4 0 1 0 -8.8 0a4.4 4.4 0 1 0 8.8 0M639.0 77.0a4.4 4.4 0 1 0 -8.8 0a4.4 4.4 0 1 0 8.8 0M639.8 77.7a4.4 4.4 0 1 0 -8.8 0a4.4 4.4 0 1 0 8.8 0M640.6 75.5a4.4 4.4 0 1 0 -8.8 0a4.4 4.4 0 1 0 8.8 0M641.4 76.2a4.4 4.4 0 1 0 -8.8 0a4.4 4.4 0 1 0 8.8 0M642.4 74.1a4.4 4.4 0 1 0 -8.8 0a4.4 4.4 0 1 0 8.8 0M643.4 74.9a4.4 4.4 0 1 0 -8.8 0a4.4 4.4 0 1 0 8.8 0M644.4 72.8a4.4 4.4 0 1 0 -8.8 0a4.4 4.4 0 1 0 8.8 0M645.3 74.0a4.4 4.4 0 1 0 -8.8 0a4.4 4.4 0 1 0 8.8 0M646.1 72.5a4.4 4.4 0 1 0 -8.8 0a4.4 4.4 0 1 0 8.8 0M647.0 73.7a4.4 4.4 0 1 0 -8.8 0a4.4 4.4 0 1 0 8.8 0M647.9 72.1a4.4 4.4 0 1 0 -8.8 0a4.4 4.4 0 1 0 8.8 0M648.7 73.4a4.4 4.4 0 1 0 -8.8 0a4.4 4.4 0 1 0 8.8 0M649.6 71.8a4.4 4.4 0 1 0 -8.8 0a4.4 4.4 0 1 0 8.8 0M650.5 73.3a4.4 4.4 0 1 0 -8.8 0a4.4 4.4 0 1 0 8.8 0M651.5 72.0a4.4 4.4 0 1 0 -8.8 0a4.4 4.4 0 1 0 8.8 0M652.4 73.5a4.4 4.4 0 1 0 -8.8 0a4.4 4.4 0 1 0 8.8 0M653.3 72.1a4.4 4.4 0 1 0 -8.8 0a4.4 4.4 0 1 0 8.8 0M654.3 73.6a4.4 4.4 0 1 0 -8.8 0a4.4 4.4 0 1 0 8.8 0M655.2 72.3a4.4 4.4 0 1 0 -8.8 0a4.4 4.4 0 1 0 8.8 0M655.9 75.2a4.4 4.4 0 1 0 -8.8 0a4.4 4.4 0 1 0 8.8 0M656.7 75.3a4.4 4.4 0 1 0 -8.8 0a4.4 4.4 0 1 0 8.8 0M657.4 78.2a4.4 4.4 0 1 0 -8.8 0a4.4 4.4 0 1 0 8.8 0M658.4 78.8a4.4 4.4 0 1 0 -8.8 0a4.4 4.4 0 1 0 8.8 0M659.4 82.2a4.4 4.4 0 1 0 -8.8 0a4.4 4.4 0 1 0 8.8 0M660.3 81.2a4.4 4.4 0 1 0 -8.8 0a4.4 4.4 0 1 0 8.8 0M661.1 82.9a4.4 4.4 0 1 0 -8.8 0a4.4 4.4 0 1 0 8.8 0M662.0 81.9a4.4 4.4 0 1 0 -8.8 0a4.4 4.4 0 1 0 8.8 0M662.8 83.6a4.4 4.4 0 1 0 -8.8 0a4.4 4.4 0 1 0 8.8 0M663.7 82.6a4.4 4.4 0 1 0 -8.8 0a4.4 4.4 0 1 0 8.8 0M664.6 83.8a4.4 4.4 0 1 0 -8.8 0a4.4 4.4 0 1 0 8.8 0M665.5 82.2a4.4 4.4 0 1 0 -8.8 0a4.4 4.4 0 1 0 8.8 0M666.5 83.4a4.4 4.4 0 1 0 -8.8 0a4.4 4.4 0 1 0 8.8 0M667.4 82.5a4.4 4.4 0 1 0 -8.8 0a4.4 4.4 0 1 0 8.8 0"/>
<path d="M157.4 203.4a4.4 4.4 0 1 0 -8.8 0a4.4 4.4 0 1 0 8.8 0M158.6 205.5a4.4 4.4 0 1 0 -8.8 0a4.4 4.4 0 1 0 8.8 0M161.4 211.8a4.4 4.4 0 1 0 -8.8 0a4.4 4.4 0 1 0 8.8 0M162.8 211.1a4.4 4.4 0 1 0 -8.8 0a4.4 4.4 0 1 0 8.8 0M160.8 220.8a4.4 4.4 0 1 0 -8.8 0a4.4 4.4 0 1 0 8.8 0M164.4 218.9a4.4 4.4 0 1 0 -8.8 0a4.4 4.4 0 1 0 8.8 0M165.4 219.6a4.4 4.4 0 1 0 -8.8 0a4.4 4.4 0 1 0 8.8 0M166.4 221.2a4.4 4.4 0 1 0 -8.8 0a4.4 4.4 0 1 0 8.8 0M167.4 221.1a4.4 4.4 0 1 0 -8.8 0a4.4 4.4 0 1 0 8.8 0M168.4 222.9a4.4 4.4 0 1 0 -8.8 0a4.4 4.4 0 1 0 8.8 0M169.4 223.1a4.4 4.4 0 1 0 -8.8 0a4.4 4.4 0 1 0 8.8 0M170.4 224.9a4.4 4.4 0 1 0 -8.8 0a4.4 4.4 0 1 0 8.8 0M171.4 225.3a4.4 4.4 0 1 0 -8.8 0a4.4 4.4 0 1 0 8.8 0M172.4 227.2a4.4 4.4 0 1 0 -8.8 0a4.4 4.4 0 1 0 8.8 0M173.4 227.6a4.4 4.4 0 1 0 -8.8 0a4.4 4.4 0 1 0 8.8 0M174.4 229.2a4.4 4.4 0 1 0 -8.8 0a4.4 4.4 0 1 0 8.8 0M175.4 229.3a4.4 4.4 0 1 0 -8.8 0a4.4 4.4 0 1 0 8.8 0M176.4 230.9a4.4 4.4 0 1 0 -8.8 0a4.4 4.4 0 1 0 8.8 0M177.2 229.9a4.4 4.4 0 1 0 -8.8 0a4.4 4.4 0 1 0 8.8 0M178.1 230.6a4.4 4.4 0 1 0 -8.8 0a4.4 4.4 0 1 0 8.8 0M178.9 229.6a4.4 4.4 0 1 0 -8.8 0a4.4 4.4 0 1 0 8.8 0M179.7 229.1a4.4 4.4 0 1 0 -8.8 0a4.4 4.4 0 1 0 8.8 0M180.6 226.9a4.4 4.4 0 1 0 -8.8 0a4.4 4.4 0 1 0 8.8 0M181.4 226.4a4.4 4.4 0 1 0 -8.8 0a4.4 4.4 0 1 0 8.8 0M182.2 225.0a4.4 4.4 0 1 0 -8.8 0a4.4 4.4 0 1 0 8.8 0M183.0 225.2a4.4 4.4 0 1 0 -8.8 0a4.4 4.4 0 1 0 8.8 0M183.8 223.8a4.4 4.4 0 1 0 -8.8 0a4.4 4.4 0 1 0 8.8 0M184.6 224.0a4.4 4.4 0 1 0 -8.8 0a4.4 4.4 0 1 0 8.8 0M185.4 222.6a4.4 4.4 0 1 0 -8.8 0a4.4 4.4 0 1 0 8.8 0M186.3 222.9a4.4 4.4 0 1 0 -8.8 0a4.4 4.4 0 1 0 8.8 0M187.2 221.6a4.4 4.4 0 1 0 -8.8 0a4.4 4.4 0 1 0 8.8 0M188.1 221.9a4.4 4.4 0 1 0 -8.8 0a4.4 4.4 0 1 0 8.8 0M189.1 220.6a4.4 4.4 0 1 0 -8.8 0a4.4 4.4 0 1 0 8.8 0M190.0 220.9a4.4 4.4 0 1 0 -8.8 0a4.4 4.4 0 1 0 8.8 0M190.9 219.6a4.4 4.4 0 1 0 -8.8 0a4.4 4.4 0 1 0 8.8 0M191.8 219.9a4.4 4.4 0 1 0 -8.8 0a4.4 4.4 0 1 0 8.8 0M192.7 218.9a4.4 4.4 0 1 0 -8.8 0a4.4 4.4 0 1 0 8.8 0M193.7 219.6a4.4 4.4 0 1 0 -8.8 0a4.4 4.4 0 1 0 8.8 0M194.6 218.6a4.4 4.4 0 1 0 -8.8 0a4.4 4.4 0 1 0 8.8 0M195.5 219.2a4.4 4.4 0 1 0 -8.8 0a4.4 4.4 0 1 0 8.8 0M196.5 218.3a4.4 4.4 0 1 0 -8.8 0a4.4 4.4 0 1 0 8.8 0M197.4 218.9a4.4 4.4 0 1 0 -8.8 0a4.4 4.4 0 1 0 8.8 0M198.3 217.7a4.4 4.4 0 1 0 -8.8 0a4.4 4.4 0 1 0 8.8 0M199.1 218.0a4.4 4.4 0 1 0 -8.8 0a4.4 4.4 0 1 0 8.8 0M200.0 216.8a4.4 4.4 0 1 0 -8.8 0a4.4 4.4 0 1 0 8.8 0M200.8 217.2a4.4 4.4 0 1 0 -8.8 0a4.4 4.4 0 1 0 8.8 0M201.7 216.0a4.4 4.4 0 1 0 -8.8 0a4.4 4.4 0 1 0 8.8 0M202.5 216.3a4.4 4.4 0 1 0 -8.8 0a4.4 4.4 0 1 0 8.8 0M203.4 215.1a4.4 4.4 0 1 0 -8.8 0a4.4 4.4 0 1 0 8.8 0M204.3 214.7a4.4 4.4 0 1 0 -8.8 0a4.4 4.4 0 1 0 8.8 0M205.1 212.8a4.4 4.4 0 1 0 -8.8 0a4.4 4.4 0 1 0 8.8 0M206.0 212.4a4.4 4.4 0 1 0 -8.8 0a4.4 4.4 0 1 0 8.8 0M206.9 210.7a4.4 4.4 0 1 0 -8.8 0a4.4 4.4 0 1 0 8.8 0M207.8 210.7a4.4 4.4 0 1 0 -8.8 0a4.4 4.4 0 1 0 8.8 0M208.6 209.0a4.4 4.4 0 1 0 -8.8 0a4.4 4.4 0 1 0 8.8 0M209.5 208.9a4.4 4.4 0 1 0 -8.8 0a4.4 4.4 0 1 0 8.8 0M210.3 208.9a4.4 4.4 0 1 0 -8.8 0a4.4 4.4 0 1 0 8.8 0M211.2 210.5a4.4 4.4 0 1 0 -8.8 0a4.4 4.4 0 1 0 8.8 0M212.0 210.5a4.4 4.4 0 1 0 -8.8 0a4.4 4.4 0 1 0 8.8 0M212.8 212.1a4.4 4.4 0 1 0 -8.8 0a4.4 4.4 0 1 0 8.8 0M213.7 212.1a4.4 4.4 0 1 0 -8.8 0a4.4 4.4 0 1 0 8.8 0M214.5 213.7a4.4 4.4 0 1 0 -8.8 0a4.4 4.4 0 1 0 8.8 0M215.3 213.2a4.4 4.4 0 1 0 -8.8 0a4.4 4.4 0 1 0 8.8 0M216.2 214.3a4.4 4.4 0 1 0 -8.8 0a4.4 4.4 0 1 0 8.8 0M217.0 213.7a4.4 4.4 0 1 0 -8.8 0a4.4 4.4 0 1 0 8.8 0M217.9 214.8a4.4 4.4 0 1 0 -8.8 0a4.4 4.4 0 1 0 8.8 0M218.7 214.3a4.4 4.4 0 1 0 -8.8 0a4.4 4.4 0 1 0 8.8 0M219.6 214.4a4.4 4.4 0 1 0 -8.8 0a4.4 4.4 0 1 0 8.8 0M220.5 212.9a4.4 4.4 0 1 0 -8.8 0a4.4 4.4 0 1 0 8.8 0M221.4 213.0a4.4 4.4 0 1 0 -8.8 0a4.4 4.4 0 1 0 8.8 0M222.3 211.4a4.4 4.4 0 1 0 -8.8 0a4.4 4.4 0 1 0 8.8 0M223.1 211.5a4.4 4.4 0 1 0 -8.8 0a4.4 4.4 0 1 0 8.8 0M224.0 210.0a4.4 4.4 0 1 0 -8.8 0a4.4 4.4 0 1 0 8.8 0M224.9 210.1a4.4 4.4 0 1 0 -8.8 0a4.4 4.4 0 1 0 8.8 0M225.8 208.6a4.4 4.4 0 1 0 -8.8 0a4.4 4.4 0 1 0 8.8 0M226.7 208.8a4.4 4.4 0 1 0 -8.8 0a4.4 4.4 0 1 0 8.8 0M227.5 207.4a4.4 4.4 0 1 0 -8.8 0a4.4 4.4 0 1 0 8.8 0M228.4 207.5a4.4 4.4 0 1 0 -8.8 0a4.4 4.4 0 1 0 8.8 0M229.3 206.1a4.4 4.4 0 1 0 -8.8 0a4.4 4.4 0 1 0 8.8 0M230.1 206.3a4.4 4.4 0 1 0 -8.8 0a4.4 4.4 0 1 0 8.8 0M231.0 204.9a4.4 4.4 0 1 0 -8.8 0a4.4 4.4 0 1 0 8.8 0M231.9 205.0a4.4 4.4 0 1 0 -8.8 0a4.4 4.4 0 1 0 8.8 0M232.7 203.6a4.4 4.4 0 1 0 -8.8 0a4.4 4.4 0 1 0 8.8 0M233.6 203.8a4.4 4.4 0 1 0 -8.8 0a4.4 4.4 0 1 0 8.8 0M234.4 203.7a4.4 4.4 0 1 0 -8.8 0a4.4 4.4 0 1 0 8.8 0M235.2 205.2a4.4 4.4 0 1 0 -8.8 0a4.4 4.4 0 1 0 8.8 0M236.0 205.1a4.4 4.4 0 1 0 -8.8 0a4.4 4.4 0 1 0 8.8 0M236.9 206.6a4.4 4.4 0 1 0 -8.8 0a4.4 4.4 0 1 0 8.8 0M237.7 206.5a4.4 4.4 0 1 0 -8.8 0a4.4 4.4 0 1 0 8.8 0M238.5 208.0a4.4 4.4 0 1 0 -8.8 0a4.4 4.4 0 1 0 8.8 0M239.4 207.8a4.4 4.4 0 1 0 -8.8 0a4.4 4.4 0 1 0 8.8 0M240.2 209.1a4.4 4.4 0 1 0 -8.8 0a4.4 4.4 0 1 0 8.8 0M241.1 208.9a4.4 4.4 0 1 0 -8.8 0a4.4 4.4 0 1 0 8.8 0M241.9 210.2a4.4 4.4 0 1 0 -8.8 0a4.4 4.4 0 1 0 8.8 0M242.8 210.0a4.4 4.4 0 1 0 -8.8 0a4.4 4.4 0 1 0 8.8 0M243.7 209.6a4.4 4.4 0 1 0 -8.8 0a4.4 4.4 0 1 0 8.8 0M244.7 207.7a4.4 4.4 0 1 0 -8.8 0a4.4 4.4 0 1 0 8.8 0M245.6 207.3a4.4 4.4 0 1 0 -8.8 0a4.4 4.4 0 1 0 8.8 0M246.5 205.3a4.4 4.4 0 1 0 -8.8 0a4.4 4.4 0 1 0 8.8 0M247.5 205.0a4.4 4.4 0 1 0 -8.8 0a4.4 4.4 0 1 0 8.8 0M248.4 203.0a4.4 4.4 0 1 0 -8.8 0a4.4 4.4 0 1 0 8.8 0M249.2 202.8a4.4 4.4 0 1 0 -8.8 0a4.4 4.4 0 1 0 8.8 0M250.1 200.9a4.4 4.4 0 1 0 -8.8 0a4.4 4.4 0 1 0 8.8 0M250.9 200.7a4.4 4.4 0 1 0 -8.8 0a4.4 4.4 0 1 0 8.8 0M251.8 198.8a4.4 4.4 0 1 0 -8.8 0a4.4 4.4 0 1 0 8.8 0M252.6 198.6a4.4 4.4 0 1 0 -8.8 0a4.4 4.4 0 1 0 8.8 0M253.4 196.8a4.4 4.4 0 1 0 -8.8 0a4.4 4.4 0 1 0 8.8 0M254.3 196.5a4.4 4.4 0 1 0 -8.8 0a4.4 4.4 0 1 0 8.8 0M255.1 194.7a4.4 4.4 0 1 0 -8.8 0a4.4 4.4 0 1 0 8.8 0M256.0 194.7a4.4 4.4 0 1 0 -8.8 0a4.4 4.4 0 1 0 8.8 0M257.0 193.1a4.4 4.4 0 1 0 -8.8 0a4.4 4.4 0 1 0 8.8 0M257.9 193.0a4.4 4.4 0 1 0 -8.8 0a4.4 4.4 0 1 0 8.8 0M258.8 191.4a4.4 4.4 0 1 0 -8.8 0a4.4 4.4 0 1 0 8.8 0M259.8 191.4a4.4 4.4 0 1 0 -8.8 0a4.4 4.4 0 1 0 8.8 0M260.7 189.8a4.4 4.4 0 1 0 -8.8 0a4.4 4.4 0 1 0 8.8 0M261.5 189.8a4.4 4.4 0 1 0 -8.8 0a4.4 4.4 0 1 0 8.8 0M262.3 188.2a4.4 4.4 0 1 0 -8.8 0a4.4 4.4 0 1 0 8.8 0M263.1 188.2a4.4 4.4 0 1 0 -8.8 0a4.4 4.4 0 1 0 8.8 0M264.0 186.5a4.4 4.4 0 1 0 -8.8 0a4.4 4.4 0 1 0 8.8 0M264.8 186.5a4.4 4.4 0 1 0 -8.8 0a4.4 4.4 0 1 0 8.8 0M265.6 184.9a4.4 4.4 0 1 0 -8.8 0a4.4 4.4 0 1 0 8.8 0M266.4 184.9a4.4 4.4 0 1 0 -8.8 0a4.4 4.4 0 1 0 8.8 0M267.3 184.4a4.4 4.4 0 1 0 -8.8 0a4.4 4.4 0 1 0 8.8 0M268.3 185.6a4.4 4.4 0 1 0 -8.8 0a4.4 4.4 0 1 0 8.8 0M269.2 185.2a4.4 4.4 0 1 0 -8.8 0a4.4 4.4 0 1 0 8.8 0M270.1 186.3a4.4 4.4 0 1 0 -8.8 0a4.4 4.4 0 1 0 8.8 0M271.1 185.8a4.4 4.4 0 1 0 -8.8 0a4.4 4.4 0 1 0 8.8 0M272.0 187.0a4.4 4.4 0 1 0 -8.8 0a4.4 4.4 0 1 0 8.8 0M272.8 186.1a4.4 4.4 0 1 0 -8.8 0a4.4 4.4 0 1 0 8.8 0M273.6 186.8a4.4 4.4 0 1 0 -8.8 0a4.4 4.4 0 1 0 8.8 0M274.4 185.9a4.4 4.4 0 1 0 -8.8 0a4.4 4.4 0 1 0 8.8 0M275.3 186.6a4.4 4.4 0 1 0 -8.8 0a4.4 4.4 0 1 0 8.8 0M276.1 185.7a4.4 4.4 0 1 0 -8.8 0a4.4 4.4 0 1 0 8.8 0M276.9 186.4a4.4 4.4 0 1 0 -8.8 0a4.4 4.4 0 1 0 8.8 0M277.7 185.5a4.4 4.4 0 1 0 -8.8 0a4.4 4.4 0 1 0 8.8 0M278.5 186.3a4.4 4.4 0 1 0 -8.8 0a4.4 4.4 0 1 0 8.8 0M279.3 185.5a4.4 4.4 0 1 0 -8.8 0a4.4 4.4 0 1 0 8.8 0M280.1 186.3a4.4 4.4 0 1 0 -8.8 0a4.4 4.4 0 1 0 8.8 0M281.0 185.5a4.4 4.4 0 1 0 -8.8 0a4.4 4.4 0 1 0 8.8 0M281.8 186.3a4.4 4.4 0 1 0 -8.8 0a4.4 4.4 0 1 0 8.8 0M282.6 185.5a4.4 4.4 0 1 0 -8.8 0a4.4 4.4 0 1 0 8.8 0M283.4 186.3a4.4 4.4 0 1 0 -8.8 0a4.4 4.4 0 1 0 8.8 0M284.2 185.4a4.4 4.4 0 1 0 -8.8 0a4.4 4.4 0 1 0 8.8 0M285.1 186.0a4.4 4.4 0 1 0 -8.8 0a4.4 4.4 0 1 0 8.8 0M285.9 185.1a4.4 4.4 0 1 0 -8.8 0a4.4 4.4 0 1 0 8.8 0M286.8 185.7a4.4 4.4 0 1 0 -8.8 0a4.4 4.4 0 1 0 8.8 0M287.6 184.8a4.4 4.4 0 1 0 -8.8 0a4.4 4.4 0 1 0 8.8 0M288.4 184.5a4.4 4.4 0 1 0 -8.8 0a4.4 4.4 0 1 0 8.8 0M289.3 182.6a4.4 4.4 0 1 0 -8.8 0a4.4 4.4 0 1 0 8.8 0M290.1 182.2a4.4 4.4 0 1 0 -8.8 0a4.4 4.4 0 1 0 8.8 0M291.0 180.3a4.4 4.4 0 1 0 -8.8 0a4.4 4.4 0 1 0 8.8 0M291.8 180.0a4.4 4.4 0 1 0 -8.8 0a4.4 4.4 0 1 0 8.8 0M292.6 178.6a4.4 4.4 0 1 0 -8.8 0a4.4 4.4 0 1 0 8.8 0M293.4 178.7a4.4 4.4 0 1 0 -8.8 0a4.4 4.4 0 1 0 8.8 0M294.2 177.3a4.4 4.4 0 1 0 -8.8 0a4.4 4.4 0 1 0 8.8 0M295.1 177.5a4.4 4.4 0 1 0 -8.8 0a4.4 4.4 0 1 0 8.8 0M295.9 176.1a4.4 4.4 0 1 0 -8.8 0a4.4 4.4 0 1 0 8.8 0M296.7 176.2a4.4 4.4 0 1 0 -8.8 0a4.4 4.4 0 1 0 8.8 0M297.5 174.8a4.4 4.4 0 1 0 -8.8 0a4.4 4.4 0 1 0 8.8 0M298.3 175.1a4.4 4.4 0 1 0 -8.8 0a4.4 4.4 0 1 0 8.8 0M299.1 173.9a4.4 4.4 0 1 0 -8.8 0a4.4 4.4 0 1 0 8.8 0M299.9 174.2a4.4 4.4 0 1 0 -8.8 0a4.4 4.4 0 1 0 8.8 0M300.8 172.9a4.4 4.4 0 1 0 -8.8 0a4.4 4.4 0 1 0 8.8 0M301.6 173.3a4.4 4.4 0 1 0 -8.8 0a4.4 4.4 0 1 0 8.8 0M302.4 172.0a4.4 4.4 0 1 0 -8.8 0a4.4 4.4 0 1 0 8.8 0M303.3 173.2a4.4 4.4 0 1 0 -8.8 0a4.4 4.4 0 1 0 8.8 0M304.2 172.8a4.4 4.4 0 1 0 -8.8 0a4.4 4.4 0 1 0 8.8 0M305.1 174.0a4.4 4.4 0 1 0 -8.8 0a4.4 4.4 0 1 0 8.8 0M306.0 173.6a4.4 4.4 0 1 0 -8.8 0a4.4 4.4 0 1 0 8.8 0M306.9 174.8a4.4 4.4 0 1 0 -8.8 0a4.4 4.4 0 1 0 8.8 0M307.9 174.5a4.4 4.4 0 1 0 -8.8 0a4.4 4.4 0 1 0 8.8 0M308.8 175.8a4.4 4.4 0 1 0 -8.8 0a4.4 4.4 0 1 0 8.8 0M309.7 175.4a4.4 4.4 0 1 0 -8.8 0a4.4 4.4 0 1 0 8.8 0M310.7 176.7a4.4 4.4 0 1 0 -8.8 0a4.4 4.4 0 1 0 8.8 0M311.6 176.3a4.4 4.4 0 1 0 -8.8 0a4.4 4.4 0 1 0 8.8 0M312.5 177.8a4.4 4.4 0 1 0 -8.8 0a4.4 4.4 0 1 0 8.8 0M313.3 177.7a4.4 4.4 0 1 0 -8.8 0a4.4 4.4 0 1 0 8.8 0M314.2 179.3a4.4 4.4 0 1 0 -8.8 0a4.4 4.4 0 1 0 8.8 0M315.0 179.2a4.4 4.4 0 1 0 -8.8 0a4.4 4.4 0 1 0 8.8 0M315.9 180.7a4.4 4.4 0 1 0 -8.8 0a4.4 4.4 0 1 0 8.8 0M316.7 180.9a4.4 4.4 0 1 0 -8.8 0a4.4 4.4 0 1 0 8.8 0M317.6 182.7a4.4 4.4 0 1 0 -8.8 0a4.4 4.4 0 1 0 8.8 0M318.4 182.8a4.4 4.4 0 1 0 -8.8 0a4.4 4.4 0 1 0 8.8 0M319.3 184.6a4.4 4.4 0 1 0 -8.8 0a4.4 4.4 0 1 0 8.8 0M320.1 184.8a4.4 4.4 0 1 0 -8.8 0a4.4 4.4 0 1 0 8.8 0M321.0 186.8a4.4 4.4 0 1 0 -8.8 0a4.4 4.4 0 1 0 8.8 0M322.0 187.2a4.4 4.4 0 1 0 -8.8 0a4.4 4.4 0 1 0 8.8 0M322.9 189.2a4.4 4.4 0 1 0 -8.8 0a4.4 4.4 0 1 0 8.8 0M323.6 188.8a4.4 4.4 0 1 0 -8.8 0a4.4 4.4 0 1 0 8.8 0M324.4 189.5a4.4 4.4 0 1 0 -8.8 0a4.4 4.4 0 1 0 8.8 0"/>
<path d="M499.6 204.0a4.4 4.4 0 1 0 -8.8 0a4.4 4.4 0 1 0 8.8 0M502.0 196.8a4.4 4.4 0 1 0 -8.8 0a4.4 4.4 0 1 0 8.8 0M503.8 198.6a4.4 4.4 0 1 0 -8.8 0a4.4 4.4 0 1 0 8.8 0M505.6 201.0a4.4 4.4 0 1 0 -8.8 0a4.4 4.4 0 1 0 8.8 0M503.2 216.0a4.4 4.4 0 1 0 -8.8 0a4.4 4.4 0 1 0 8.8 0M505.6 218.4a4.4 4.4 0 1 0 -8.8 0a4.4 4.4 0 1 0 8.8 0M508.0 219.6a4.4 4.4 0 1 0 -8.8 0a4.4 4.4 0 1 0 8.8 0M510.4 216.0a4.4 4.4 0 1 0 -8.8 0a4.4 4.4 0 1 0 8.8 0M512.2 218.4a4.4 4.4 0 1 0 -8.8 0a4.4 4.4 0 1 0 8.8 0M514.0 220.2a4.4 4.4 0 1 0 -8.8 0a4.4 4.4 0 1 0 8.8 0M508.6 231.0a4.4 4.4 0 1 0 -8.8 0a4.4 4.4 0 1 0 8.8 0M515.8 204.0a4.4 4.4 0 1 0 -8.8 0a4.4 4.4 0 1 0 8.8 0M517.0 186.0a4.4 4.4 0 1 0 -8.8 0a4.4 4.4 0 1 0 8.8 0M519.4 181.2a4.4 4.4 0 1 0 -8.8 0a4.4 4.4 0 1 0 8.8 0M526.0 223.2a4.4 4.4 0 1 0 -8.8 0a4.4 4.4 0 1 0 8.8 0M527.2 219.6a4.4 4.4 0 1 0 -8.8 0a4.4 4.4 0 1 0 8.8 0M529.6 212.4a4.4 4.4 0 1 0 -8.8 0a4.4 4.4 0 1 0 8.8 0M549.8 226.5a4.4 4.4 0 1 0 -8.8 0a4.4 4.4 0 1 0 8.8 0M555.2 222.9a4.4 4.4 0 1 0 -8.8 0a4.4 4.4 0 1 0 8.8 0M560.6 224.7a4.4 4.4 0 1 0 -8.8 0a4.4 4.4 0 1 0 8.8 0M571.4 228.3a4.4 4.4 0 1 0 -8.8 0a4.4 4.4 0 1 0 8.8 0M552.4 225.0a4.4 4.4 0 1 0 -8.8 0a4.4 4.4 0 1 0 8.8 0M557.4 224.0a4.4 4.4 0 1 0 -8.8 0a4.4 4.4 0 1 0 8.8 0M520.0 227.3a4.4 4.4 0 1 0 -8.8 0a4.4 4.4 0 1 0 8.8 0M522.4 227.0a4.4 4.4 0 1 0 -8.8 0a4.4 4.4 0 1 0 8.8 0M525.4 225.5a4.4 4.4 0 1 0 -8.8 0a4.4 4.4 0 1 0 8.8 0M548.8 225.5a4.4 4.4 0 1 0 -8.8 0a4.4 4.4 0 1 0 8.8 0M555.9 222.0a4.4 4.4 0 1 0 -8.8 0a4.4 4.4 0 1 0 8.8 0M561.4 225.5a4.4 4.4 0 1 0 -8.8 0a4.4 4.4 0 1 0 8.8 0M527.4 231.3a4.4 4.4 0 1 0 -8.8 0a4.4 4.4 0 1 0 8.8 0M528.3 231.7a4.4 4.4 0 1 0 -8.8 0a4.4 4.4 0 1 0 8.8 0M529.1 231.3a4.4 4.4 0 1 0 -8.8 0a4.4 4.4 0 1 0 8.8 0M530.0 231.7a4.4 4.4 0 1 0 -8.8 0a4.4 4.4 0 1 0 8.8 0M530.9 231.3a4.4 4.4 0 1 0 -8.8 0a4.4 4.4 0 1 0 8.8 0M531.7 231.7a4.4 4.4 0 1 0 -8.8 0a4.4 4.4 0 1 0 8.8 0M532.6 231.3a4.4 4.4 0 1 0 -8.8 0a4.4 4.4 0 1 0 8.8 0M533.5 231.7a4.4 4.4 0 1 0 -8.8 0a4.4 4.4 0 1 0 8.8 0M534.3 231.3a4.4 4.4 0 1 0 -8.8 0a4.4 4.4 0 1 0 8.8 0M535.2 231.7a4.4 4.4 0 1 0 -8.8 0a4.4 4.4 0 1 0 8.8 0M536.0 231.3a4.4 4.4 0 1 0 -8.8 0a4.4 4.4 0 1 0 8.8 0M536.9 231.7a4.4 4.4 0 1 0 -8.8 0a4.4 4.4 0 1 0 8.8 0M537.8 231.3a4.4 4.4 0 1 0 -8.8 0a4.4 4.4 0 1 0 8.8 0M538.6 231.7a4.4 4.4 0 1 0 -8.8 0a4.4 4.4 0 1 0 8.8 0M539.5 231.3a4.4 4.4 0 1 0 -8.8 0a4.4 4.4 0 1 0 8.8 0M540.4 231.7a4.4 4.4 0 1 0 -8.8 0a4.4 4.4 0 1 0 8.8 0M541.2 231.3a4.4 4.4 0 1 0 -8.8 0a4.4 4.4 0 1 0 8.8 0M542.1 231.7a4.4 4.4 0 1 0 -8.8 0a4.4 4.4 0 1 0 8.8 0M543.0 231.3a4.4 4.4 0 1 0 -8.8 0a4.4 4.4 0 1 0 8.8 0M543.8 231.7a4.4 4.4 0 1 0 -8.8 0a4.4 4.4 0 1 0 8.8 0M544.7 231.3a4.4 4.4 0 1 0 -8.8 0a4.4 4.4 0 1 0 8.8 0M545.6 231.7a4.4 4.4 0 1 0 -8.8 0a4.4 4.4 0 1 0 8.8 0M546.4 231.3a4.4 4.4 0 1 0 -8.8 0a4.4 4.4 0 1 0 8.8 0M547.3 231.7a4.4 4.4 0 1 0 -8.8 0a4.4 4.4 0 1 0 8.8 0M548.2 231.3a4.4 4.4 0 1 0 -8.8 0a4.4 4.4 0 1 0 8.8 0M549.0 231.7a4.4 4.4 0 1 0 -8.8 0a4.4 4.4 0 1 0 8.8 0M549.9 231.3a4.4 4.4 0 1 0 -8.8 0a4.4 4.4 0 1 0 8.8 0M550.8 231.7a4.4 4.4 0 1 0 -8.8 0a4.4 4.4 0 1 0 8.8 0M551.6 231.3a4.4 4.4 0 1 0 -8.8 0a4.4 4.4 0 1 0 8.8 0M552.5 231.7a4.4 4.4 0 1 0 -8.8 0a4.4 4.4 0 1 0 8.8 0M553.4 231.3a4.4 4.4 0 1 0 -8.8 0a4.4 4.4 0 1 0 8.8 0M554.2 231.7a4.4 4.4 0 1 0 -8.8 0a4.4 4.4 0 1 0 8.8 0M555.1 231.3a4.4 4.4 0 1 0 -8.8 0a4.4 4.4 0 1 0 8.8 0M555.9 231.7a4.4 4.4 0 1 0 -8.8 0a4.4 4.4 0 1 0 8.8 0M556.8 231.3a4.4 4.4 0 1 0 -8.8 0a4.4 4.4 0 1 0 8.8 0M557.7 231.7a4.4 4.4 0 1 0 -8.8 0a4.4 4.4 0 1 0 8.8 0M558.5 231.3a4.4 4.4 0 1 0 -8.8 0a4.4 4.4 0 1 0 8.8 0M559.4 231.7a4.4 4.4 0 1 0 -8.8 0a4.4 4.4 0 1 0 8.8 0M560.3 231.3a4.4 4.4 0 1 0 -8.8 0a4.4 4.4 0 1 0 8.8 0M561.1 231.7a4.4 4.4 0 1 0 -8.8 0a4.4 4.4 0 1 0 8.8 0M562.0 231.3a4.4 4.4 0 1 0 -8.8 0a4.4 4.4 0 1 0 8.8 0M562.9 231.7a4.4 4.4 0 1 0 -8.8 0a4.4 4.4 0 1 0 8.8 0M563.7 231.3a4.4 4.4 0 1 0 -8.8 0a4.4 4.4 0 1 0 8.8 0M564.6 231.7a4.4 4.4 0 1 0 -8.8 0a4.4 4.4 0 1 0 8.8 0M565.5 231.3a4.4 4.4 0 1 0 -8.8 0a4.4 4.4 0 1 0 8.8 0M566.3 231.7a4.4 4.4 0 1 0 -8.8 0a4.4 4.4 0 1 0 8.8 0M567.2 231.3a4.4 4.4 0 1 0 -8.8 0a4.4 4.4 0 1 0 8.8 0M568.1 231.7a4.4 4.4 0 1 0 -8.8 0a4.4 4.4 0 1 0 8.8 0M568.9 231.3a4.4 4.4 0 1 0 -8.8 0a4.4 4.4 0 1 0 8.8 0M569.8 231.7a4.4 4.4 0 1 0 -8.8 0a4.4 4.4 0 1 0 8.8 0M570.6 231.3a4.4 4.4 0 1 0 -8.8 0a4.4 4.4 0 1 0 8.8 0M571.5 231.7a4.4 4.4 0 1 0 -8.8 0a4.4 4.4 0 1 0 8.8 0M572.4 231.3a4.4 4.4 0 1 0 -8.8 0a4.4 4.4 0 1 0 8.8 0M573.2 231.7a4.4 4.4 0 1 0 -8.8 0a4.4 4.4 0 1 0 8.8 0M574.1 231.3a4.4 4.4 0 1 0 -8.8 0a4.4 4.4 0 1 0 8.8 0M575.0 231.7a4.4 4.4 0 1 0 -8.8 0a4.4 4.4 0 1 0 8.8 0M575.8 231.3a4.4 4.4 0 1 0 -8.8 0a4.4 4.4 0 1 0 8.8 0M576.7 231.7a4.4 4.4 0 1 0 -8.8 0a4.4 4.4 0 1 0 8.8 0M577.6 231.3a4.4 4.4 0 1 0 -8.8 0a4.4 4.4 0 1 0 8.8 0M578.4 231.7a4.4 4.4 0 1 0 -8.8 0a4.4 4.4 0 1 0 8.8 0M579.3 231.3a4.4 4.4 0 1 0 -8.8 0a4.4 4.4 0 1 0 8.8 0M580.2 231.7a4.4 4.4 0 1 0 -8.8 0a4.4 4.4 0 1 0 8.8 0M581.0 231.3a4.4 4.4 0 1 0 -8.8 0a4.4 4.4 0 1 0 8.8 0M581.9 231.7a4.4 4.4 0 1 0 -8.8 0a4.4 4.4 0 1 0 8.8 0M582.8 231.3a4.4 4.4 0 1 0 -8.8 0a4.4 4.4 0 1 0 8.8 0M583.6 231.7a4.4 4.4 0 1 0 -8.8 0a4.4 4.4 0 1 0 8.8 0M584.5 231.3a4.4 4.4 0 1 0 -8.8 0a4.4 4.4 0 1 0 8.8 0M585.4 231.7a4.4 4.4 0 1 0 -8.8 0a4.4 4.4 0 1 0 8.8 0M586.2 231.3a4.4 4.4 0 1 0 -8.8 0a4.4 4.4 0 1 0 8.8 0M587.1 231.7a4.4 4.4 0 1 0 -8.8 0a4.4 4.4 0 1 0 8.8 0M587.9 231.3a4.4 4.4 0 1 0 -8.8 0a4.4 4.4 0 1 0 8.8 0M588.8 231.7a4.4 4.4 0 1 0 -8.8 0a4.4 4.4 0 1 0 8.8 0M589.7 231.3a4.4 4.4 0 1 0 -8.8 0a4.4 4.4 0 1 0 8.8 0M590.5 231.7a4.4 4.4 0 1 0 -8.8 0a4.4 4.4 0 1 0 8.8 0M591.4 231.3a4.4 4.4 0 1 0 -8.8 0a4.4 4.4 0 1 0 8.8 0M592.3 231.7a4.4 4.4 0 1 0 -8.8 0a4.4 4.4 0 1 0 8.8 0M593.1 231.3a4.4 4.4 0 1 0 -8.8 0a4.4 4.4 0 1 0 8.8 0M594.0 231.7a4.4 4.4 0 1 0 -8.8 0a4.4 4.4 0 1 0 8.8 0M594.9 231.3a4.4 4.4 0 1 0 -8.8 0a4.4 4.4 0 1 0 8.8 0M595.7 231.7a4.4 4.4 0 1 0 -8.8 0a4.4 4.4 0 1 0 8.8 0M596.6 231.3a4.4 4.4 0 1 0 -8.8 0a4.4 4.4 0 1 0 8.8 0M597.5 231.7a4.4 4.4 0 1 0 -8.8 0a4.4 4.4 0 1 0 8.8 0M598.3 231.3a4.4 4.4 0 1 0 -8.8 0a4.4 4.4 0 1 0 8.8 0M599.2 231.7a4.4 4.4 0 1 0 -8.8 0a4.4 4.4 0 1 0 8.8 0M600.1 231.3a4.4 4.4 0 1 0 -8.8 0a4.4 4.4 0 1 0 8.8 0M600.9 231.7a4.4 4.4 0 1 0 -8.8 0a4.4 4.4 0 1 0 8.8 0M601.8 231.3a4.4 4.4 0 1 0 -8.8 0a4.4 4.4 0 1 0 8.8 0M602.7 231.7a4.4 4.4 0 1 0 -8.8 0a4.4 4.4 0 1 0 8.8 0M603.5 231.3a4.4 4.4 0 1 0 -8.8 0a4.4 4.4 0 1 0 8.8 0M604.4 231.7a4.4 4.4 0 1 0 -8.8 0a4.4 4.4 0 1 0 8.8 0M605.2 231.3a4.4 4.4 0 1 0 -8.8 0a4.4 4.4 0 1 0 8.8 0M606.1 231.7a4.4 4.4 0 1 0 -8.8 0a4.4 4.4 0 1 0 8.8 0M607.0 231.3a4.4 4.4 0 1 0 -8.8 0a4.4 4.4 0 1 0 8.8 0M607.8 231.7a4.4 4.4 0 1 0 -8.8 0a4.4 4.4 0 1 0 8.8 0M608.7 231.3a4.4 4.4 0 1 0 -8.8 0a4.4 4.4 0 1 0 8.8 0M609.6 231.7a4.4 4.4 0 1 0 -8.8 0a4.4 4.4 0 1 0 8.8 0M610.4 231.3a4.4 4.4 0 1 0 -8.8 0a4.4 4.4 0 1 0 8.8 0M611.3 231.7a4.4 4.4 0 1 0 -8.8 0a4.4 4.4 0 1 0 8.8 0M612.2 231.3a4.4 4.4 0 1 0 -8.8 0a4.4 4.4 0 1 0 8.8 0M613.0 231.7a4.4 4.4 0 1 0 -8.8 0a4.4 4.4 0 1 0 8.8 0M613.9 231.3a4.4 4.4 0 1 0 -8.8 0a4.4 4.4 0 1 0 8.8 0M614.8 231.7a4.4 4.4 0 1 0 -8.8 0a4.4 4.4 0 1 0 8.8 0M615.6 231.3a4.4 4.4 0 1 0 -8.8 0a4.4 4.4 0 1 0 8.8 0M616.5 231.7a4.4 4.4 0 1 0 -8.8 0a4.4 4.4 0 1 0 8.8 0M617.4 231.3a4.4 4.4 0 1 0 -8.8 0a4.4 4.4 0 1 0 8.8 0M618.2 231.7a4.4 4.4 0 1 0 -8.8 0a4.4 4.4 0 1 0 8.8 0M619.1 231.3a4.4 4.4 0 1 0 -8.8 0a4.4 4.4 0 1 0 8.8 0M620.0 231.7a4.4 4.4 0 1 0 -8.8 0a4.4 4.4 0 1 0 8.8 0M620.8 231.3a4.4 4.4 0 1 0 -8.8 0a4.4 4.4 0 1 0 8.8 0M621.7 231.7a4.4 4.4 0 1 0 -8.8 0a4.4 4.4 0 1 0 8.8 0M622.5 231.3a4.4 4.4 0 1 0 -8.8 0a4.4 4.4 0 1 0 8.8 0M623.4 231.7a4.4 4.4 0 1 0 -8.8 0a4.4 4.4 0 1 0 8.8 0M624.3 231.3a4.4 4.4 0 1 0 -8.8 0a4.4 4.4 0 1 0 8.8 0M625.1 231.7a4.4 4.4 0 1 0 -8.8 0a4.4 4.4 0 1 0 8.8 0M626.0 231.3a4.4 4.4 0 1 0 -8.8 0a4.4 4.4 0 1 0 8.8 0M626.9 231.7a4.4 4.4 0 1 0 -8.8 0a4.4 4.4 0 1 0 8.8 0M627.7 231.3a4.4 4.4 0 1 0 -8.8 0a4.4 4.4 0 1 0 8.8 0M628.6 231.7a4.4 4.4 0 1 0 -8.8 0a4.4 4.4 0 1 0 8.8 0M629.5 231.3a4.4 4.4 0 1 0 -8.8 0a4.4 4.4 0 1 0 8.8 0M630.3 231.7a4.4 4.4 0 1 0 -8.8 0a4.4 4.4 0 1 0 8.8 0M631.2 231.3a4.4 4.4 0 1 0 -8.8 0a4.4 4.4 0 1 0 8.8 0M632.1 231.7a4.4 4.4 0 1 0 -8.8 0a4.4 4.4 0 1 0 8.8 0M632.9 231.3a4.4 4.4 0 1 0 -8.8 0a4.4 4.4 0 1 0 8.8 0M633.8 231.7a4.4 4.4 0 1 0 -8.8 0a4.4 4.4 0 1 0 8.8 0M634.7 231.3a4.4 4.4 0 1 0 -8.8 0a4.4 4.4 0 1 0 8.8 0M635.5 231.7a4.4 4.4 0 1 0 -8.8 0a4.4 4.4 0 1 0 8.8 0M636.4 231.3a4.4 4.4 0 1 0 -8.8 0a4.4 4.4 0 1 0 8.8 0M637.3 231.7a4.4 4.4 0 1 0 -8.8 0a4.4 4.4 0 1 0 8.8 0M638.1 231.3a4.4 4.4 0 1 0 -8.8 0a4.4 4.4 0 1 0 8.8 0M639.0 231.7a4.4 4.4 0 1 0 -8.8 0a4.4 4.4 0 1 0 8.8 0M639.9 231.3a4.4 4.4 0 1 0 -8.8 0a4.4 4.4 0 1 0 8.8 0M640.7 231.7a4.4 4.4 0 1 0 -8.8 0a4.4 4.4 0 1 0 8.8 0M641.6 231.3a4.4 4.4 0 1 0 -8.8 0a4.4 4.4 0 1 0 8.8 0M642.4 231.7a4.4 4.4 0 1 0 -8.8 0a4.4 4.4 0 1 0 8.8 0M643.3 231.3a4.4 4.4 0 1 0 -8.8 0a4.4 4.4 0 1 0 8.8 0M644.2 231.7a4.4 4.4 0 1 0 -8.8 0a4.4 4.4 0 1 0 8.8 0M645.0 231.3a4.4 4.4 0 1 0 -8.8 0a4.4 4.4 0 1 0 8.8 0M645.9 231.7a4.4 4.4 0 1 0 -8.8 0a4.4 4.4 0 1 0 8.8 0M646.8 231.3a4.4 4.4 0 1 0 -8.8 0a4.4 4.4 0 1 0 8.8 0M647.6 231.7a4.4 4.4 0 1 0 -8.8 0a4.4 4.4 0 1 0 8.8 0M648.5 231.3a4.4 4.4 0 1 0 -8.8 0a4.4 4.4 0 1 0 8.8 0M649.4 231.7a4.4 4.4 0 1 0 -8.8 0a4.4 4.4 0 1 0 8.8 0M650.2 231.3a4.4 4.4 0 1 0 -8.8 0a4.4 4.4 0 1 0 8.8 0M651.1 231.7a4.4 4.4 0 1 0 -8.8 0a4.4 4.4 0 1 0 8.8 0M652.0 231.3a4.4 4.4 0 1 0 -8.8 0a4.4 4.4 0 1 0 8.8 0M652.8 231.7a4.4 4.4 0 1 0 -8.8 0a4.4 4.4 0 1 0 8.8 0M653.7 231.3a4.4 4.4 0 1 0 -8.8 0a4.4 4.4 0 1 0 8.8 0M654.6 231.7a4.4 4.4 0 1 0 -8.8 0a4.4 4.4 0 1 0 8.8 0M655.4 231.3a4.4 4.4 0 1 0 -8.8 0a4.4 4.4 0 1 0 8.8 0M656.3 231.7a4.4 4.4 0 1 0 -8.8 0a4.4 4.4 0 1 0 8.8 0M657.1 231.3a4.4 4.4 0 1 0 -8.8 0a4.4 4.4 0 1 0 8.8 0M658.0 231.7a4.4 4.4 0 1 0 -8.8 0a4.4 4.4 0 1 0 8.8 0M658.9 231.3a4.4 4.4 0 1 0 -8.8 0a4.4 4.4 0 1 0 8.8 0M659.7 231.7a4.4 4.4 0 1 0 -8.8 0a4.4 4.4 0 1 0 8.8 0M660.6 231.3a4.4 4.4 0 1 0 -8.8 0a4.4 4.4 0 1 0 8.8 0M661.5 231.7a4.4 4.4 0 1 0 -8.8 0a4.4 4.4 0 1 0 8.8 0M662.3 231.3a4.4 4.4 0 1 0 -8.8 0a4.4 4.4 0 1 0 8.8 0M663.2 231.7a4.4 4.4 0 1 0 -8.8 0a4.4 4.4 0 1 0 8.8 0M664.1 231.3a4.4 4.4 0 1 0 -8.8 0a4.4 4.4 0 1 0 8.8 0M664.9 231.7a4.4 4.4 0 1 0 -8.8 0a4.4 4.4 0 1 0 8.8 0M665.8 231.5a4.4 4.4 0 1 0 -8.8 0a4.4 4.4 0 1 0 8.8 0"/>
<path d="M155.4 329.2a4.4 4.4 0 1 0 -8.8 0a4.4 4.4 0 1 0 8.8 0M157.2 327.4a4.4 4.4 0 1 0 -8.8 0a4.4 4.4 0 1 0 8.8 0M159.6 326.2a4.4 4.4 0 1 0 -8.8 0a4.4 4.4 0 1 0 8.8 0M160.8 329.2a4.4 4.4 0 1 0 -8.8 0a4.4 4.4 0 1 0 8.8 0M162.6 335.2a4.4 4.4 0 1 0 -8.8 0a4.4 4.4 0 1 0 8.8 0M165.0 337.6a4.4 4.4 0 1 0 -8.8 0a4.4 4.4 0 1 0 8.8 0M167.4 336.4a4.4 4.4 0 1 0 -8.8 0a4.4 4.4 0 1 0 8.8 0M168.6 325.6a4.4 4.4 0 1 0 -8.8 0a4.4 4.4 0 1 0 8.8 0M171.6 331.6a4.4 4.4 0 1 0 -8.8 0a4.4 4.4 0 1 0 8.8 0M174.6 336.4a4.4 4.4 0 1 0 -8.8 0a4.4 4.4 0 1 0 8.8 0M176.4 322.0a4.4 4.4 0 1 0 -8.8 0a4.4 4.4 0 1 0 8.8 0M177.6 323.8a4.4 4.4 0 1 0 -8.8 0a4.4 4.4 0 1 0 8.8 0M179.4 331.6a4.4 4.4 0 1 0 -8.8 0a4.4 4.4 0 1 0 8.8 0M180.6 351.4a4.4 4.4 0 1 0 -8.8 0a4.4 4.4 0 1 0 8.8 0M180.6 340.4a4.4 4.4 0 1 0 -8.8 0a4.4 4.4 0 1 0 8.8 0M181.4 341.3a4.4 4.4 0 1 0 -8.8 0a4.4 4.4 0 1 0 8.8 0M182.1 338.9a4.4 4.4 0 1 0 -8.8 0a4.4 4.4 0 1 0 8.8 0M182.9 339.8a4.4 4.4 0 1 0 -8.8 0a4.4 4.4 0 1 0 8.8 0M183.7 336.9a4.4 4.4 0 1 0 -8.8 0a4.4 4.4 0 1 0 8.8 0M184.6 337.3a4.4 4.4 0 1 0 -8.8 0a4.4 4.4 0 1 0 8.8 0M185.4 334.4a4.4 4.4 0 1 0 -8.8 0a4.4 4.4 0 1 0 8.8 0M186.4 334.6a4.4 4.4 0 1 0 -8.8 0a4.4 4.4 0 1 0 8.8 0M187.4 331.6a4.4 4.4 0 1 0 -8.8 0a4.4 4.4 0 1 0 8.8 0M188.4 331.8a4.4 4.4 0 1 0 -8.8 0a4.4 4.4 0 1 0 8.8 0M189.4 329.4a4.4 4.4 0 1 0 -8.8 0a4.4 4.4 0 1 0 8.8 0M190.4 330.1a4.4 4.4 0 1 0 -8.8 0a4.4 4.4 0 1 0 8.8 0M191.4 327.7a4.4 4.4 0 1 0 -8.8 0a4.4 4.4 0 1 0 8.8 0M192.2 329.3a4.4 4.4 0 1 0 -8.8 0a4.4 4.4 0 1 0 8.8 0M193.0 327.7a4.4 4.4 0 1 0 -8.8 0a4.4 4.4 0 1 0 8.8 0M193.8 329.3a4.4 4.4 0 1 0 -8.8 0a4.4 4.4 0 1 0 8.8 0M194.6 327.7a4.4 4.4 0 1 0 -8.8 0a4.4 4.4 0 1 0 8.8 0M195.4 329.3a4.4 4.4 0 1 0 -8.8 0a4.4 4.4 0 1 0 8.8 0M196.2 327.9a4.4 4.4 0 1 0 -8.8 0a4.4 4.4 0 1 0 8.8 0M197.0 329.7a4.4 4.4 0 1 0 -8.8 0a4.4 4.4 0 1 0 8.8 0M197.8 328.3a4.4 4.4 0 1 0 -8.8 0a4.4 4.4 0 1 0 8.8 0M198.6 330.1a4.4 4.4 0 1 0 -8.8 0a4.4 4.4 0 1 0 8.8 0M199.4 328.7a4.4 4.4 0 1 0 -8.8 0a4.4 4.4 0 1 0 8.8 0M200.2 330.5a4.4 4.4 0 1 0 -8.8 0a4.4 4.4 0 1 0 8.8 0M201.1 329.0a4.4 4.4 0 1 0 -8.8 0a4.4 4.4 0 1 0 8.8 0M201.9 330.8a4.4 4.4 0 1 0 -8.8 0a4.4 4.4 0 1 0 8.8 0M202.7 329.4a4.4 4.4 0 1 0 -8.8 0a4.4 4.4 0 1 0 8.8 0M203.6 331.1a4.4 4.4 0 1 0 -8.8 0a4.4 4.4 0 1 0 8.8 0M204.4 329.7a4.4 4.4 0 1 0 -8.8 0a4.4 4.4 0 1 0 8.8 0M205.2 331.6a4.4 4.4 0 1 0 -8.8 0a4.4 4.4 0 1 0 8.8 0M206.1 330.2a4.4 4.4 0 1 0 -8.8 0a4.4 4.4 0 1 0 8.8 0M206.9 332.1a4.4 4.4 0 1 0 -8.8 0a4.4 4.4 0 1 0 8.8 0M207.7 330.7a4.4 4.4 0 1 0 -8.8 0a4.4 4.4 0 1 0 8.8 0M208.6 332.6a4.4 4.4 0 1 0 -8.8 0a4.4 4.4 0 1 0 8.8 0M209.4 331.2a4.4 4.4 0 1 0 -8.8 0a4.4 4.4 0 1 0 8.8 0M210.4 332.6a4.4 4.4 0 1 0 -8.8 0a4.4 4.4 0 1 0 8.8 0M211.4 331.5a4.4 4.4 0 1 0 -8.8 0a4.4 4.4 0 1 0 8.8 0M212.5 323.0a4.4 4.4 0 1 0 -8.8 0a4.4 4.4 0 1 0 8.8 0M213.0 306.4a4.4 4.4 0 1 0 -8.8 0a4.4 4.4 0 1 0 8.8 0M215.4 304.0a4.4 4.4 0 1 0 -8.8 0a4.4 4.4 0 1 0 8.8 0M217.8 300.4a4.4 4.4 0 1 0 -8.8 0a4.4 4.4 0 1 0 8.8 0M219.6 298.6a4.4 4.4 0 1 0 -8.8 0a4.4 4.4 0 1 0 8.8 0M220.8 348.4a4.4 4.4 0 1 0 -8.8 0a4.4 4.4 0 1 0 8.8 0M221.4 356.5a4.4 4.4 0 1 0 -8.8 0a4.4 4.4 0 1 0 8.8 0M221.4 356.0a4.4 4.4 0 1 0 -8.8 0a4.4 4.4 0 1 0 8.8 0M222.3 358.0a4.4 4.4 0 1 0 -8.8 0a4.4 4.4 0 1 0 8.8 0M223.2 356.0a4.4 4.4 0 1 0 -8.8 0a4.4 4.4 0 1 0 8.8 0M224.1 358.0a4.4 4.4 0 1 0 -8.8 0a4.4 4.4 0 1 0 8.8 0M225.0 356.0a4.4 4.4 0 1 0 -8.8 0a4.4 4.4 0 1 0 8.8 0M225.8 358.0a4.4 4.4 0 1 0 -8.8 0a4.4 4.4 0 1 0 8.8 0M226.7 356.0a4.4 4.4 0 1 0 -8.8 0a4.4 4.4 0 1 0 8.8 0M227.6 358.0a4.4 4.4 0 1 0 -8.8 0a4.4 4.4 0 1 0 8.8 0M228.5 356.0a4.4 4.4 0 1 0 -8.8 0a4.4 4.4 0 1 0 8.8 0M229.4 358.0a4.4 4.4 0 1 0 -8.8 0a4.4 4.4 0 1 0 8.8 0M230.3 355.9a4.4 4.4 0 1 0 -8.8 0a4.4 4.4 0 1 0 8.8 0M231.2 357.8a4.4 4.4 0 1 0 -8.8 0a4.4 4.4 0 1 0 8.8 0M232.0 355.7a4.4 4.4 0 1 0 -8.8 0a4.4 4.4 0 1 0 8.8 0M232.9 357.6a4.4 4.4 0 1 0 -8.8 0a4.4 4.4 0 1 0 8.8 0M233.8 355.5a4.4 4.4 0 1 0 -8.8 0a4.4 4.4 0 1 0 8.8 0M234.7 357.4a4.4 4.4 0 1 0 -8.8 0a4.4 4.4 0 1 0 8.8 0M235.6 355.3a4.4 4.4 0 1 0 -8.8 0a4.4 4.4 0 1 0 8.8 0M236.4 357.2a4.4 4.4 0 1 0 -8.8 0a4.4 4.4 0 1 0 8.8 0M237.3 355.1a4.4 4.4 0 1 0 -8.8 0a4.4 4.4 0 1 0 8.8 0M238.2 357.0a4.4 4.4 0 1 0 -8.8 0a4.4 4.4 0 1 0 8.8 0M239.1 354.6a4.4 4.4 0 1 0 -8.8 0a4.4 4.4 0 1 0 8.8 0M240.0 356.2a4.4 4.4 0 1 0 -8.8 0a4.4 4.4 0 1 0 8.8 0M240.9 353.9a4.4 4.4 0 1 0 -8.8 0a4.4 4.4 0 1 0 8.8 0M241.8 355.5a4.4 4.4 0 1 0 -8.8 0a4.4 4.4 0 1 0 8.8 0M242.7 352.4a4.4 4.4 0 1 0 -8.8 0a4.4 4.4 0 1 0 8.8 0M243.6 353.2a4.4 4.4 0 1 0 -8.8 0a4.4 4.4 0 1 0 8.8 0M244.5 350.1a4.4 4.4 0 1 0 -8.8 0a4.4 4.4 0 1 0 8.8 0M245.4 350.0a4.4 4.4 0 1 0 -8.8 0a4.4 4.4 0 1 0 8.8 0M246.6 342.4a4.4 4.4 0 1 0 -8.8 0a4.4 4.4 0 1 0 8.8 0M250.2 343.6a4.4 4.4 0 1 0 -8.8 0a4.4 4.4 0 1 0 8.8 0M250.2 343.0a4.4 4.4 0 1 0 -8.8 0a4.4 4.4 0 1 0 8.8 0M251.0 344.1a4.4 4.4 0 1 0 -8.8 0a4.4 4.4 0 1 0 8.8 0M251.9 342.8a4.4 4.4 0 1 0 -8.8 0a4.4 4.4 0 1 0 8.8 0M252.7 343.8a4.4 4.4 0 1 0 -8.8 0a4.4 4.4 0 1 0 8.8 0M253.6 342.5a4.4 4.4 0 1 0 -8.8 0a4.4 4.4 0 1 0 8.8 0M254.4 343.6a4.4 4.4 0 1 0 -8.8 0a4.4 4.4 0 1 0 8.8 0M255.2 342.4a4.4 4.4 0 1 0 -8.8 0a4.4 4.4 0 1 0 8.8 0M256.1 343.6a4.4 4.4 0 1 0 -8.8 0a4.4 4.4 0 1 0 8.8 0M256.9 342.4a4.4 4.4 0 1 0 -8.8 0a4.4 4.4 0 1 0 8.8 0M257.7 343.6a4.4 4.4 0 1 0 -8.8 0a4.4 4.4 0 1 0 8.8 0M258.6 342.4a4.4 4.4 0 1 0 -8.8 0a4.4 4.4 0 1 0 8.8 0M259.4 343.6a4.4 4.4 0 1 0 -8.8 0a4.4 4.4 0 1 0 8.8 0M260.2 342.4a4.4 4.4 0 1 0 -8.8 0a4.4 4.4 0 1 0 8.8 0M261.1 343.6a4.4 4.4 0 1 0 -8.8 0a4.4 4.4 0 1 0 8.8 0M261.9 342.4a4.4 4.4 0 1 0 -8.8 0a4.4 4.4 0 1 0 8.8 0M262.7 343.6a4.4 4.4 0 1 0 -8.8 0a4.4 4.4 0 1 0 8.8 0M263.6 342.4a4.4 4.4 0 1 0 -8.8 0a4.4 4.4 0 1 0 8.8 0M264.4 343.6a4.4 4.4 0 1 0 -8.8 0a4.4 4.4 0 1 0 8.8 0M265.2 342.4a4.4 4.4 0 1 0 -8.8 0a4.4 4.4 0 1 0 8.8 0M266.1 343.6a4.4 4.4 0 1 0 -8.8 0a4.4 4.4 0 1 0 8.8 0M266.9 342.4a4.4 4.4 0 1 0 -8.8 0a4.4 4.4 0 1 0 8.8 0M267.7 343.6a4.4 4.4 0 1 0 -8.8 0a4.4 4.4 0 1 0 8.8 0M268.6 342.4a4.4 4.4 0 1 0 -8.8 0a4.4 4.4 0 1 0 8.8 0M269.4 343.6a4.4 4.4 0 1 0 -8.8 0a4.4 4.4 0 1 0 8.8 0M270.2 342.2a4.4 4.4 0 1 0 -8.8 0a4.4 4.4 0 1 0 8.8 0M271.0 343.2a4.4 4.4 0 1 0 -8.8 0a4.4 4.4 0 1 0 8.8 0M271.8 342.4a4.4 4.4 0 1 0 -8.8 0a4.4 4.4 0 1 0 8.8 0M273.4 350.6a4.4 4.4 0 1 0 -8.8 0a4.4 4.4 0 1 0 8.8 0M272.4 355.9a4.4 4.4 0 1 0 -8.8 0a4.4 4.4 0 1 0 8.8 0M273.3 357.3a4.4 4.4 0 1 0 -8.8 0a4.4 4.4 0 1 0 8.8 0M274.1 356.3a4.4 4.4 0 1 0 -8.8 0a4.4 4.4 0 1 0 8.8 0M275.0 357.7a4.4 4.4 0 1 0 -8.8 0a4.4 4.4 0 1 0 8.8 0M275.8 356.6a4.4 4.4 0 1 0 -8.8 0a4.4 4.4 0 1 0 8.8 0M276.7 358.0a4.4 4.4 0 1 0 -8.8 0a4.4 4.4 0 1 0 8.8 0M277.5 357.0a4.4 4.4 0 1 0 -8.8 0a4.4 4.4 0 1 0 8.8 0M278.4 358.4a4.4 4.4 0 1 0 -8.8 0a4.4 4.4 0 1 0 8.8 0M279.2 357.1a4.4 4.4 0 1 0 -8.8 0a4.4 4.4 0 1 0 8.8 0M280.1 358.1a4.4 4.4 0 1 0 -8.8 0a4.4 4.4 0 1 0 8.8 0M280.9 356.8a4.4 4.4 0 1 0 -8.8 0a4.4 4.4 0 1 0 8.8 0M281.7 357.9a4.4 4.4 0 1 0 -8.8 0a4.4 4.4 0 1 0 8.8 0M282.6 356.5a4.4 4.4 0 1 0 -8.8 0a4.4 4.4 0 1 0 8.8 0M283.4 357.6a4.4 4.4 0 1 0 -8.8 0a4.4 4.4 0 1 0 8.8 0M284.2 353.4a4.4 4.4 0 1 0 -8.8 0a4.4 4.4 0 1 0 8.8 0M285.0 351.6a4.4 4.4 0 1 0 -8.8 0a4.4 4.4 0 1 0 8.8 0M285.9 350.0a4.4 4.4 0 1 0 -8.8 0a4.4 4.4 0 1 0 8.8 0M286.8 350.8a4.4 4.4 0 1 0 -8.8 0a4.4 4.4 0 1 0 8.8 0M287.6 349.2a4.4 4.4 0 1 0 -8.8 0a4.4 4.4 0 1 0 8.8 0M288.5 350.0a4.4 4.4 0 1 0 -8.8 0a4.4 4.4 0 1 0 8.8 0M289.4 348.4a4.4 4.4 0 1 0 -8.8 0a4.4 4.4 0 1 0 8.8 0M290.2 349.5a4.4 4.4 0 1 0 -8.8 0a4.4 4.4 0 1 0 8.8 0M291.1 348.2a4.4 4.4 0 1 0 -8.8 0a4.4 4.4 0 1 0 8.8 0M291.9 349.4a4.4 4.4 0 1 0 -8.8 0a4.4 4.4 0 1 0 8.8 0M292.7 348.1a4.4 4.4 0 1 0 -8.8 0a4.4 4.4 0 1 0 8.8 0M293.6 349.2a4.4 4.4 0 1 0 -8.8 0a4.4 4.4 0 1 0 8.8 0M294.4 347.9a4.4 4.4 0 1 0 -8.8 0a4.4 4.4 0 1 0 8.8 0M295.2 348.9a4.4 4.4 0 1 0 -8.8 0a4.4 4.4 0 1 0 8.8 0M296.1 347.6a4.4 4.4 0 1 0 -8.8 0a4.4 4.4 0 1 0 8.8 0M296.9 348.6a4.4 4.4 0 1 0 -8.8 0a4.4 4.4 0 1 0 8.8 0M297.7 347.2a4.4 4.4 0 1 0 -8.8 0a4.4 4.4 0 1 0 8.8 0M298.6 348.3a4.4 4.4 0 1 0 -8.8 0a4.4 4.4 0 1 0 8.8 0M299.4 346.9a4.4 4.4 0 1 0 -8.8 0a4.4 4.4 0 1 0 8.8 0M300.2 348.0a4.4 4.4 0 1 0 -8.8 0a4.4 4.4 0 1 0 8.8 0M301.0 346.7a4.4 4.4 0 1 0 -8.8 0a4.4 4.4 0 1 0 8.8 0M301.8 347.8a4.4 4.4 0 1 0 -8.8 0a4.4 4.4 0 1 0 8.8 0M302.6 346.5a4.4 4.4 0 1 0 -8.8 0a4.4 4.4 0 1 0 8.8 0M303.4 347.6a4.4 4.4 0 1 0 -8.8 0a4.4 4.4 0 1 0 8.8 0M304.3 347.5a4.4 4.4 0 1 0 -8.8 0a4.4 4.4 0 1 0 8.8 0M305.3 349.9a4.4 4.4 0 1 0 -8.8 0a4.4 4.4 0 1 0 8.8 0M306.2 349.8a4.4 4.4 0 1 0 -8.8 0a4.4 4.4 0 1 0 8.8 0M307.2 352.1a4.4 4.4 0 1 0 -8.8 0a4.4 4.4 0 1 0 8.8 0M308.1 351.6a4.4 4.4 0 1 0 -8.8 0a4.4 4.4 0 1 0 8.8 0M309.0 353.4a4.4 4.4 0 1 0 -8.8 0a4.4 4.4 0 1 0 8.8 0M309.9 352.9a4.4 4.4 0 1 0 -8.8 0a4.4 4.4 0 1 0 8.8 0M310.8 354.3a4.4 4.4 0 1 0 -8.8 0a4.4 4.4 0 1 0 8.8 0M311.7 353.4a4.4 4.4 0 1 0 -8.8 0a4.4 4.4 0 1 0 8.8 0M312.6 354.8a4.4 4.4 0 1 0 -8.8 0a4.4 4.4 0 1 0 8.8 0M313.5 352.2a4.4 4.4 0 1 0 -8.8 0a4.4 4.4 0 1 0 8.8 0M314.4 352.0a4.4 4.4 0 1 0 -8.8 0a4.4 4.4 0 1 0 8.8 0M315.3 350.0a4.4 4.4 0 1 0 -8.8 0a4.4 4.4 0 1 0 8.8 0M302.7 336.7a4.4 4.4 0 1 0 -8.8 0a4.4 4.4 0 1 0 8.8 0M315.8 338.5a4.4 4.4 0 1 0 -8.8 0a4.4 4.4 0 1 0 8.8 0M323.4 343.0a4.4 4.4 0 1 0 -8.8 0a4.4 4.4 0 1 0 8.8 0M318.9 330.8a4.4 4.4 0 1 0 -8.8 0a4.4 4.4 0 1 0 8.8 0M321.2 329.5a4.4 4.4 0 1 0 -8.8 0a4.4 4.4 0 1 0 8.8 0M322.5 328.1a4.4 4.4 0 1 0 -8.8 0a4.4 4.4 0 1 0 8.8 0"/>
<path d="M501.4 307.0a4.4 4.4 0 1 0 -8.8 0a4.4 4.4 0 1 0 8.8 0M506.8 316.6a4.4 4.4 0 1 0 -8.8 0a4.4 4.4 0 1 0 8.8 0M499.6 326.2a4.4 4.4 0 1 0 -8.8 0a4.4 4.4 0 1 0 8.8 0M503.8 324.4a4.4 4.4 0 1 0 -8.8 0a4.4 4.4 0 1 0 8.8 0M508.0 328.0a4.4 4.4 0 1 0 -8.8 0a4.4 4.4 0 1 0 8.8 0M505.6 334.0a4.4 4.4 0 1 0 -8.8 0a4.4 4.4 0 1 0 8.8 0M510.4 333.4a4.4 4.4 0 1 0 -8.8 0a4.4 4.4 0 1 0 8.8 0M514.0 329.2a4.4 4.4 0 1 0 -8.8 0a4.4 4.4 0 1 0 8.8 0M515.8 332.2a4.4 4.4 0 1 0 -8.8 0a4.4 4.4 0 1 0 8.8 0M511.9 330.0a4.4 4.4 0 1 0 -8.8 0a4.4 4.4 0 1 0 8.8 0M524.4 335.0a4.4 4.4 0 1 0 -8.8 0a4.4 4.4 0 1 0 8.8 0M536.5 335.7a4.4 4.4 0 1 0 -8.8 0a4.4 4.4 0 1 0 8.8 0M519.1 344.4a4.4 4.4 0 1 0 -8.8 0a4.4 4.4 0 1 0 8.8 0M516.4 354.4a4.4 4.4 0 1 0 -8.8 0a4.4 4.4 0 1 0 8.8 0M529.1 345.0a4.4 4.4 0 1 0 -8.8 0a4.4 4.4 0 1 0 8.8 0M527.8 356.4a4.4 4.4 0 1 0 -8.8 0a4.4 4.4 0 1 0 8.8 0M535.8 357.0a4.4 4.4 0 1 0 -8.8 0a4.4 4.4 0 1 0 8.8 0M559.2 345.0a4.4 4.4 0 1 0 -8.8 0a4.4 4.4 0 1 0 8.8 0M521.2 348.4a4.4 4.4 0 1 0 -8.8 0a4.4 4.4 0 1 0 8.8 0M531.4 348.3a4.4 4.4 0 1 0 -8.8 0a4.4 4.4 0 1 0 8.8 0M533.0 347.0a4.4 4.4 0 1 0 -8.8 0a4.4 4.4 0 1 0 8.8 0M534.6 350.4a4.4 4.4 0 1 0 -8.8 0a4.4 4.4 0 1 0 8.8 0M536.2 346.2a4.4 4.4 0 1 0 -8.8 0a4.4 4.4 0 1 0 8.8 0M537.8 349.4a4.4 4.4 0 1 0 -8.8 0a4.4 4.4 0 1 0 8.8 0M539.4 348.1a4.4 4.4 0 1 0 -8.8 0a4.4 4.4 0 1 0 8.8 0M541.1 346.2a4.4 4.4 0 1 0 -8.8 0a4.4 4.4 0 1 0 8.8 0M542.7 349.7a4.4 4.4 0 1 0 -8.8 0a4.4 4.4 0 1 0 8.8 0M544.4 346.8a4.4 4.4 0 1 0 -8.8 0a4.4 4.4 0 1 0 8.8 0M546.1 349.4a4.4 4.4 0 1 0 -8.8 0a4.4 4.4 0 1 0 8.8 0M547.7 346.7a4.4 4.4 0 1 0 -8.8 0a4.4 4.4 0 1 0 8.8 0M549.4 346.6a4.4 4.4 0 1 0 -8.8 0a4.4 4.4 0 1 0 8.8 0M551.1 348.8a4.4 4.4 0 1 0 -8.8 0a4.4 4.4 0 1 0 8.8 0M552.7 351.5a4.4 4.4 0 1 0 -8.8 0a4.4 4.4 0 1 0 8.8 0M554.4 346.4a4.4 4.4 0 1 0 -8.8 0a4.4 4.4 0 1 0 8.8 0M556.4 346.1a4.4 4.4 0 1 0 -8.8 0a4.4 4.4 0 1 0 8.8 0M558.4 347.0a4.4 4.4 0 1 0 -8.8 0a4.4 4.4 0 1 0 8.8 0M560.2 330.4a4.4 4.4 0 1 0 -8.8 0a4.4 4.4 0 1 0 8.8 0M562.0 314.8a4.4 4.4 0 1 0 -8.8 0a4.4 4.4 0 1 0 8.8 0M564.4 322.0a4.4 4.4 0 1 0 -8.8 0a4.4 4.4 0 1 0 8.8 0M569.2 317.2a4.4 4.4 0 1 0 -8.8 0a4.4 4.4 0 1 0 8.8 0M572.8 322.0a4.4 4.4 0 1 0 -8.8 0a4.4 4.4 0 1 0 8.8 0M576.4 314.2a4.4 4.4 0 1 0 -8.8 0a4.4 4.4 0 1 0 8.8 0M576.4 315.8a4.4 4.4 0 1 0 -8.8 0a4.4 4.4 0 1 0 8.8 0M577.3 317.6a4.4 4.4 0 1 0 -8.8 0a4.4 4.4 0 1 0 8.8 0M578.1 316.7a4.4 4.4 0 1 0 -8.8 0a4.4 4.4 0 1 0 8.8 0M579.0 318.5a4.4 4.4 0 1 0 -8.8 0a4.4 4.4 0 1 0 8.8 0M579.8 317.5a4.4 4.4 0 1 0 -8.8 0a4.4 4.4 0 1 0 8.8 0M580.7 319.3a4.4 4.4 0 1 0 -8.8 0a4.4 4.4 0 1 0 8.8 0M581.5 318.4a4.4 4.4 0 1 0 -8.8 0a4.4 4.4 0 1 0 8.8 0M582.4 320.2a4.4 4.4 0 1 0 -8.8 0a4.4 4.4 0 1 0 8.8 0M583.3 318.9a4.4 4.4 0 1 0 -8.8 0a4.4 4.4 0 1 0 8.8 0M584.1 320.5a4.4 4.4 0 1 0 -8.8 0a4.4 4.4 0 1 0 8.8 0M585.0 319.2a4.4 4.4 0 1 0 -8.8 0a4.4 4.4 0 1 0 8.8 0M585.8 320.8a4.4 4.4 0 1 0 -8.8 0a4.4 4.4 0 1 0 8.8 0M586.7 319.5a4.4 4.4 0 1 0 -8.8 0a4.4 4.4 0 1 0 8.8 0M587.5 321.1a4.4 4.4 0 1 0 -8.8 0a4.4 4.4 0 1 0 8.8 0M588.4 319.8a4.4 4.4 0 1 0 -8.8 0a4.4 4.4 0 1 0 8.8 0M589.3 321.5a4.4 4.4 0 1 0 -8.8 0a4.4 4.4 0 1 0 8.8 0M590.1 320.3a4.4 4.4 0 1 0 -8.8 0a4.4 4.4 0 1 0 8.8 0M591.0 322.0a4.4 4.4 0 1 0 -8.8 0a4.4 4.4 0 1 0 8.8 0M591.8 320.8a4.4 4.4 0 1 0 -8.8 0a4.4 4.4 0 1 0 8.8 0M592.7 322.5a4.4 4.4 0 1 0 -8.8 0a4.4 4.4 0 1 0 8.8 0M593.5 321.3a4.4 4.4 0 1 0 -8.8 0a4.4 4.4 0 1 0 8.8 0M594.4 323.0a4.4 4.4 0 1 0 -8.8 0a4.4 4.4 0 1 0 8.8 0M595.3 322.0a4.4 4.4 0 1 0 -8.8 0a4.4 4.4 0 1 0 8.8 0M596.1 323.8a4.4 4.4 0 1 0 -8.8 0a4.4 4.4 0 1 0 8.8 0M597.0 322.8a4.4 4.4 0 1 0 -8.8 0a4.4 4.4 0 1 0 8.8 0M597.8 324.5a4.4 4.4 0 1 0 -8.8 0a4.4 4.4 0 1 0 8.8 0M598.7 323.5a4.4 4.4 0 1 0 -8.8 0a4.4 4.4 0 1 0 8.8 0M599.5 325.3a4.4 4.4 0 1 0 -8.8 0a4.4 4.4 0 1 0 8.8 0M600.4 324.3a4.4 4.4 0 1 0 -8.8 0a4.4 4.4 0 1 0 8.8 0M601.2 325.6a4.4 4.4 0 1 0 -8.8 0a4.4 4.4 0 1 0 8.8 0M602.0 324.2a4.4 4.4 0 1 0 -8.8 0a4.4 4.4 0 1 0 8.8 0M602.8 325.6a4.4 4.4 0 1 0 -8.8 0a4.4 4.4 0 1 0 8.8 0M603.6 324.1a4.4 4.4 0 1 0 -8.8 0a4.4 4.4 0 1 0 8.8 0M604.4 325.4a4.4 4.4 0 1 0 -8.8 0a4.4 4.4 0 1 0 8.8 0M605.2 324.0a4.4 4.4 0 1 0 -8.8 0a4.4 4.4 0 1 0 8.8 0M606.0 324.9a4.4 4.4 0 1 0 -8.8 0a4.4 4.4 0 1 0 8.8 0M606.8 323.1a4.4 4.4 0 1 0 -8.8 0a4.4 4.4 0 1 0 8.8 0M607.6 324.1a4.4 4.4 0 1 0 -8.8 0a4.4 4.4 0 1 0 8.8 0M608.4 322.2a4.4 4.4 0 1 0 -8.8 0a4.4 4.4 0 1 0 8.8 0M609.2 323.1a4.4 4.4 0 1 0 -8.8 0a4.4 4.4 0 1 0 8.8 0M610.0 321.3a4.4 4.4 0 1 0 -8.8 0a4.4 4.4 0 1 0 8.8 0M610.8 322.6a4.4 4.4 0 1 0 -8.8 0a4.4 4.4 0 1 0 8.8 0M611.6 321.2a4.4 4.4 0 1 0 -8.8 0a4.4 4.4 0 1 0 8.8 0M612.4 322.5a4.4 4.4 0 1 0 -8.8 0a4.4 4.4 0 1 0 8.8 0M613.2 321.0a4.4 4.4 0 1 0 -8.8 0a4.4 4.4 0 1 0 8.8 0M614.0 322.4a4.4 4.4 0 1 0 -8.8 0a4.4 4.4 0 1 0 8.8 0M614.8 320.9a4.4 4.4 0 1 0 -8.8 0a4.4 4.4 0 1 0 8.8 0M615.7 323.5a4.4 4.4 0 1 0 -8.8 0a4.4 4.4 0 1 0 8.8 0M616.6 324.0a4.4 4.4 0 1 0 -8.8 0a4.4 4.4 0 1 0 8.8 0M617.8 332.2a4.4 4.4 0 1 0 -8.8 0a4.4 4.4 0 1 0 8.8 0M619.6 340.0a4.4 4.4 0 1 0 -8.8 0a4.4 4.4 0 1 0 8.8 0M619.9 341.4a4.4 4.4 0 1 0 -8.8 0a4.4 4.4 0 1 0 8.8 0M620.6 343.1a4.4 4.4 0 1 0 -8.8 0a4.4 4.4 0 1 0 8.8 0M621.4 342.6a4.4 4.4 0 1 0 -8.8 0a4.4 4.4 0 1 0 8.8 0M622.4 341.1a4.4 4.4 0 1 0 -8.8 0a4.4 4.4 0 1 0 8.8 0M623.4 342.0a4.4 4.4 0 1 0 -8.8 0a4.4 4.4 0 1 0 8.8 0M624.4 338.0a4.4 4.4 0 1 0 -8.8 0a4.4 4.4 0 1 0 8.8 0M625.2 339.3a4.4 4.4 0 1 0 -8.8 0a4.4 4.4 0 1 0 8.8 0M626.0 336.1a4.4 4.4 0 1 0 -8.8 0a4.4 4.4 0 1 0 8.8 0M626.8 334.3a4.4 4.4 0 1 0 -8.8 0a4.4 4.4 0 1 0 8.8 0M627.6 332.7a4.4 4.4 0 1 0 -8.8 0a4.4 4.4 0 1 0 8.8 0M628.4 331.9a4.4 4.4 0 1 0 -8.8 0a4.4 4.4 0 1 0 8.8 0M629.2 332.0a4.4 4.4 0 1 0 -8.8 0a4.4 4.4 0 1 0 8.8 0M630.1 328.0a4.4 4.4 0 1 0 -8.8 0a4.4 4.4 0 1 0 8.8 0M631.0 327.3a4.4 4.4 0 1 0 -8.8 0a4.4 4.4 0 1 0 8.8 0M631.9 325.4a4.4 4.4 0 1 0 -8.8 0a4.4 4.4 0 1 0 8.8 0M632.8 322.6a4.4 4.4 0 1 0 -8.8 0a4.4 4.4 0 1 0 8.8 0M633.7 321.2a4.4 4.4 0 1 0 -8.8 0a4.4 4.4 0 1 0 8.8 0M634.6 317.6a4.4 4.4 0 1 0 -8.8 0a4.4 4.4 0 1 0 8.8 0M635.5 315.6a4.4 4.4 0 1 0 -8.8 0a4.4 4.4 0 1 0 8.8 0M636.4 314.1a4.4 4.4 0 1 0 -8.8 0a4.4 4.4 0 1 0 8.8 0M637.3 313.4a4.4 4.4 0 1 0 -8.8 0a4.4 4.4 0 1 0 8.8 0M638.2 310.4a4.4 4.4 0 1 0 -8.8 0a4.4 4.4 0 1 0 8.8 0M639.1 307.9a4.4 4.4 0 1 0 -8.8 0a4.4 4.4 0 1 0 8.8 0M640.0 306.7a4.4 4.4 0 1 0 -8.8 0a4.4 4.4 0 1 0 8.8 0M640.8 304.5a4.4 4.4 0 1 0 -8.8 0a4.4 4.4 0 1 0 8.8 0M641.6 302.2a4.4 4.4 0 1 0 -8.8 0a4.4 4.4 0 1 0 8.8 0M642.4 301.9a4.4 4.4 0 1 0 -8.8 0a4.4 4.4 0 1 0 8.8 0M643.3 300.4a4.4 4.4 0 1 0 -8.8 0a4.4 4.4 0 1 0 8.8 0M644.2 298.6a4.4 4.4 0 1 0 -8.8 0a4.4 4.4 0 1 0 8.8 0M644.2 297.8a4.4 4.4 0 1 0 -8.8 0a4.4 4.4 0 1 0 8.8 0M645.2 301.2a4.4 4.4 0 1 0 -8.8 0a4.4 4.4 0 1 0 8.8 0M646.2 301.4a4.4 4.4 0 1 0 -8.8 0a4.4 4.4 0 1 0 8.8 0M647.2 304.8a4.4 4.4 0 1 0 -8.8 0a4.4 4.4 0 1 0 8.8 0M648.0 303.8a4.4 4.4 0 1 0 -8.8 0a4.4 4.4 0 1 0 8.8 0M648.8 306.0a4.4 4.4 0 1 0 -8.8 0a4.4 4.4 0 1 0 8.8 0M649.6 305.0a4.4 4.4 0 1 0 -8.8 0a4.4 4.4 0 1 0 8.8 0M650.4 307.2a4.4 4.4 0 1 0 -8.8 0a4.4 4.4 0 1 0 8.8 0M651.2 306.2a4.4 4.4 0 1 0 -8.8 0a4.4 4.4 0 1 0 8.8 0M652.0 308.4a4.4 4.4 0 1 0 -8.8 0a4.4 4.4 0 1 0 8.8 0M652.9 305.9a4.4 4.4 0 1 0 -8.8 0a4.4 4.4 0 1 0 8.8 0M653.7 306.7a4.4 4.4 0 1 0 -8.8 0a4.4 4.4 0 1 0 8.8 0M654.6 304.2a4.4 4.4 0 1 0 -8.8 0a4.4 4.4 0 1 0 8.8 0M655.4 305.0a4.4 4.4 0 1 0 -8.8 0a4.4 4.4 0 1 0 8.8 0M656.3 302.5a4.4 4.4 0 1 0 -8.8 0a4.4 4.4 0 1 0 8.8 0M657.1 303.3a4.4 4.4 0 1 0 -8.8 0a4.4 4.4 0 1 0 8.8 0M658.0 300.8a4.4 4.4 0 1 0 -8.8 0a4.4 4.4 0 1 0 8.8 0M658.8 303.0a4.4 4.4 0 1 0 -8.8 0a4.4 4.4 0 1 0 8.8 0M659.6 302.0a4.4 4.4 0 1 0 -8.8 0a4.4 4.4 0 1 0 8.8 0M660.4 304.2a4.4 4.4 0 1 0 -8.8 0a4.4 4.4 0 1 0 8.8 0M661.2 303.2a4.4 4.4 0 1 0 -8.8 0a4.4 4.4 0 1 0 8.8 0M662.0 305.4a4.4 4.4 0 1 0 -8.8 0a4.4 4.4 0 1 0 8.8 0M662.8 304.4a4.4 4.4 0 1 0 -8.8 0a4.4 4.4 0 1 0 8.8 0M663.6 305.6a4.4 4.4 0 1 0 -8.8 0a4.4 4.4 0 1 0 8.8 0M664.5 303.7a4.4 4.4 0 1 0 -8.8 0a4.4 4.4 0 1 0 8.8 0M665.3 304.9a4.4 4.4 0 1 0 -8.8 0a4.4 4.4 0 1 0 8.8 0M666.2 303.0a4.4 4.4 0 1 0 -8.8 0a4.4 4.4 0 1 0 8.8 0M667.0 303.4a4.4 4.4 0 1 0 -8.8 0a4.4 4.4 0 1 0 8.8 0"/>
<path d="M156.0 485.4a4.4 4.4 0 1 0 -8.8 0a4.4 4.4 0 1 0 8.8 0M159.0 483.6a4.4 4.4 0 1 0 -8.8 0a4.4 4.4 0 1 0 8.8 0M160.8 482.4a4.4 4.4 0 1 0 -8.8 0a4.4 4.4 0 1 0 8.8 0M161.4 451.8a4.4 4.4 0 1 0 -8.8 0a4.4 4.4 0 1 0 8.8 0M164.4 459.0a4.4 4.4 0 1 0 -8.8 0a4.4 4.4 0 1 0 8.8 0M166.2 460.8a4.4 4.4 0 1 0 -8.8 0a4.4 4.4 0 1 0 8.8 0M167.4 462.6a4.4 4.4 0 1 0 -8.8 0a4.4 4.4 0 1 0 8.8 0M169.2 450.6a4.4 4.4 0 1 0 -8.8 0a4.4 4.4 0 1 0 8.8 0M171.0 485.4a4.4 4.4 0 1 0 -8.8 0a4.4 4.4 0 1 0 8.8 0M172.8 477.0a4.4 4.4 0 1 0 -8.8 0a4.4 4.4 0 1 0 8.8 0M174.6 427.8a4.4 4.4 0 1 0 -8.8 0a4.4 4.4 0 1 0 8.8 0M176.4 428.4a4.4 4.4 0 1 0 -8.8 0a4.4 4.4 0 1 0 8.8 0M175.6 427.0a4.4 4.4 0 1 0 -8.8 0a4.4 4.4 0 1 0 8.8 0M175.2 428.8a4.4 4.4 0 1 0 -8.8 0a4.4 4.4 0 1 0 8.8 0M179.4 445.8a4.4 4.4 0 1 0 -8.8 0a4.4 4.4 0 1 0 8.8 0M182.4 485.6a4.4 4.4 0 1 0 -8.8 0a4.4 4.4 0 1 0 8.8 0M183.3 486.0a4.4 4.4 0 1 0 -8.8 0a4.4 4.4 0 1 0 8.8 0M184.1 485.6a4.4 4.4 0 1 0 -8.8 0a4.4 4.4 0 1 0 8.8 0M185.0 486.0a4.4 4.4 0 1 0 -8.8 0a4.4 4.4 0 1 0 8.8 0M185.9 485.6a4.4 4.4 0 1 0 -8.8 0a4.4 4.4 0 1 0 8.8 0M186.8 486.0a4.4 4.4 0 1 0 -8.8 0a4.4 4.4 0 1 0 8.8 0M187.6 485.6a4.4 4.4 0 1 0 -8.8 0a4.4 4.4 0 1 0 8.8 0M188.5 486.0a4.4 4.4 0 1 0 -8.8 0a4.4 4.4 0 1 0 8.8 0M189.4 485.6a4.4 4.4 0 1 0 -8.8 0a4.4 4.4 0 1 0 8.8 0M190.2 486.0a4.4 4.4 0 1 0 -8.8 0a4.4 4.4 0 1 0 8.8 0M191.1 485.6a4.4 4.4 0 1 0 -8.8 0a4.4 4.4 0 1 0 8.8 0M192.0 486.0a4.4 4.4 0 1 0 -8.8 0a4.4 4.4 0 1 0 8.8 0M192.9 485.6a4.4 4.4 0 1 0 -8.8 0a4.4 4.4 0 1 0 8.8 0M193.7 486.0a4.4 4.4 0 1 0 -8.8 0a4.4 4.4 0 1 0 8.8 0M194.6 485.6a4.4 4.4 0 1 0 -8.8 0a4.4 4.4 0 1 0 8.8 0M195.5 486.0a4.4 4.4 0 1 0 -8.8 0a4.4 4.4 0 1 0 8.8 0M196.3 485.6a4.4 4.4 0 1 0 -8.8 0a4.4 4.4 0 1 0 8.8 0M197.2 486.0a4.4 4.4 0 1 0 -8.8 0a4.4 4.4 0 1 0 8.8 0M198.1 485.6a4.4 4.4 0 1 0 -8.8 0a4.4 4.4 0 1 0 8.8 0M199.0 486.0a4.4 4.4 0 1 0 -8.8 0a4.4 4.4 0 1 0 8.8 0M199.8 485.6a4.4 4.4 0 1 0 -8.8 0a4.4 4.4 0 1 0 8.8 0M200.7 486.0a4.4 4.4 0 1 0 -8.8 0a4.4 4.4 0 1 0 8.8 0M201.6 485.6a4.4 4.4 0 1 0 -8.8 0a4.4 4.4 0 1 0 8.8 0M202.5 486.0a4.4 4.4 0 1 0 -8.8 0a4.4 4.4 0 1 0 8.8 0M203.3 485.6a4.4 4.4 0 1 0 -8.8 0a4.4 4.4 0 1 0 8.8 0M204.2 486.0a4.4 4.4 0 1 0 -8.8 0a4.4 4.4 0 1 0 8.8 0M205.1 485.6a4.4 4.4 0 1 0 -8.8 0a4.4 4.4 0 1 0 8.8 0M205.9 486.0a4.4 4.4 0 1 0 -8.8 0a4.4 4.4 0 1 0 8.8 0M206.8 485.6a4.4 4.4 0 1 0 -8.8 0a4.4 4.4 0 1 0 8.8 0M207.7 486.0a4.4 4.4 0 1 0 -8.8 0a4.4 4.4 0 1 0 8.8 0M208.6 485.6a4.4 4.4 0 1 0 -8.8 0a4.4 4.4 0 1 0 8.8 0M209.4 486.0a4.4 4.4 0 1 0 -8.8 0a4.4 4.4 0 1 0 8.8 0M210.3 485.6a4.4 4.4 0 1 0 -8.8 0a4.4 4.4 0 1 0 8.8 0M211.2 486.0a4.4 4.4 0 1 0 -8.8 0a4.4 4.4 0 1 0 8.8 0M212.0 485.6a4.4 4.4 0 1 0 -8.8 0a4.4 4.4 0 1 0 8.8 0M212.9 486.0a4.4 4.4 0 1 0 -8.8 0a4.4 4.4 0 1 0 8.8 0M213.8 485.6a4.4 4.4 0 1 0 -8.8 0a4.4 4.4 0 1 0 8.8 0M214.7 486.0a4.4 4.4 0 1 0 -8.8 0a4.4 4.4 0 1 0 8.8 0M215.5 485.6a4.4 4.4 0 1 0 -8.8 0a4.4 4.4 0 1 0 8.8 0M216.4 485.8a4.4 4.4 0 1 0 -8.8 0a4.4 4.4 0 1 0 8.8 0M214.2 477.6a4.4 4.4 0 1 0 -8.8 0a4.4 4.4 0 1 0 8.8 0M216.0 468.0a4.4 4.4 0 1 0 -8.8 0a4.4 4.4 0 1 0 8.8 0M216.6 467.4a4.4 4.4 0 1 0 -8.8 0a4.4 4.4 0 1 0 8.8 0M212.4 478.8a4.4 4.4 0 1 0 -8.8 0a4.4 4.4 0 1 0 8.8 0M219.6 475.8a4.4 4.4 0 1 0 -8.8 0a4.4 4.4 0 1 0 8.8 0M216.4 485.0a4.4 4.4 0 1 0 -8.8 0a4.4 4.4 0 1 0 8.8 0M218.0 485.7a4.4 4.4 0 1 0 -8.8 0a4.4 4.4 0 1 0 8.8 0M219.5 484.9a4.4 4.4 0 1 0 -8.8 0a4.4 4.4 0 1 0 8.8 0M221.0 485.7a4.4 4.4 0 1 0 -8.8 0a4.4 4.4 0 1 0 8.8 0M222.6 484.5a4.4 4.4 0 1 0 -8.8 0a4.4 4.4 0 1 0 8.8 0M224.2 482.0a4.4 4.4 0 1 0 -8.8 0a4.4 4.4 0 1 0 8.8 0M225.8 483.9a4.4 4.4 0 1 0 -8.8 0a4.4 4.4 0 1 0 8.8 0M227.4 479.7a4.4 4.4 0 1 0 -8.8 0a4.4 4.4 0 1 0 8.8 0M229.0 480.1a4.4 4.4 0 1 0 -8.8 0a4.4 4.4 0 1 0 8.8 0M230.6 480.6a4.4 4.4 0 1 0 -8.8 0a4.4 4.4 0 1 0 8.8 0M232.2 477.4a4.4 4.4 0 1 0 -8.8 0a4.4 4.4 0 1 0 8.8 0M234.6 471.6a4.4 4.4 0 1 0 -8.8 0a4.4 4.4 0 1 0 8.8 0M237.6 470.4a4.4 4.4 0 1 0 -8.8 0a4.4 4.4 0 1 0 8.8 0M235.8 460.2a4.4 4.4 0 1 0 -8.8 0a4.4 4.4 0 1 0 8.8 0M239.4 460.8a4.4 4.4 0 1 0 -8.8 0a4.4 4.4 0 1 0 8.8 0M243.6 456.6a4.4 4.4 0 1 0 -8.8 0a4.4 4.4 0 1 0 8.8 0M245.4 465.0a4.4 4.4 0 1 0 -8.8 0a4.4 4.4 0 1 0 8.8 0M247.2 475.2a4.4 4.4 0 1 0 -8.8 0a4.4 4.4 0 1 0 8.8 0M247.8 478.8a4.4 4.4 0 1 0 -8.8 0a4.4 4.4 0 1 0 8.8 0M249.0 485.6a4.4 4.4 0 1 0 -8.8 0a4.4 4.4 0 1 0 8.8 0M249.9 486.0a4.4 4.4 0 1 0 -8.8 0a4.4 4.4 0 1 0 8.8 0M250.8 485.6a4.4 4.4 0 1 0 -8.8 0a4.4 4.4 0 1 0 8.8 0M251.6 486.0a4.4 4.4 0 1 0 -8.8 0a4.4 4.4 0 1 0 8.8 0M252.5 485.6a4.4 4.4 0 1 0 -8.8 0a4.4 4.4 0 1 0 8.8 0M253.4 486.0a4.4 4.4 0 1 0 -8.8 0a4.4 4.4 0 1 0 8.8 0M254.3 485.6a4.4 4.4 0 1 0 -8.8 0a4.4 4.4 0 1 0 8.8 0M255.2 486.0a4.4 4.4 0 1 0 -8.8 0a4.4 4.4 0 1 0 8.8 0M256.0 485.6a4.4 4.4 0 1 0 -8.8 0a4.4 4.4 0 1 0 8.8 0M256.9 486.0a4.4 4.4 0 1 0 -8.8 0a4.4 4.4 0 1 0 8.8 0M257.8 485.6a4.4 4.4 0 1 0 -8.8 0a4.4 4.4 0 1 0 8.8 0M258.7 486.0a4.4 4.4 0 1 0 -8.8 0a4.4 4.4 0 1 0 8.8 0M259.5 485.6a4.4 4.4 0 1 0 -8.8 0a4.4 4.4 0 1 0 8.8 0M260.4 486.0a4.4 4.4 0 1 0 -8.8 0a4.4 4.4 0 1 0 8.8 0M261.3 485.6a4.4 4.4 0 1 0 -8.8 0a4.4 4.4 0 1 0 8.8 0M262.2 486.0a4.4 4.4 0 1 0 -8.8 0a4.4 4.4 0 1 0 8.8 0M263.1 485.6a4.4 4.4 0 1 0 -8.8 0a4.4 4.4 0 1 0 8.8 0M263.9 486.0a4.4 4.4 0 1 0 -8.8 0a4.4 4.4 0 1 0 8.8 0M264.8 485.6a4.4 4.4 0 1 0 -8.8 0a4.4 4.4 0 1 0 8.8 0M265.7 486.0a4.4 4.4 0 1 0 -8.8 0a4.4 4.4 0 1 0 8.8 0M266.6 485.6a4.4 4.4 0 1 0 -8.8 0a4.4 4.4 0 1 0 8.8 0M267.4 486.0a4.4 4.4 0 1 0 -8.8 0a4.4 4.4 0 1 0 8.8 0M268.3 485.6a4.4 4.4 0 1 0 -8.8 0a4.4 4.4 0 1 0 8.8 0M269.2 486.0a4.4 4.4 0 1 0 -8.8 0a4.4 4.4 0 1 0 8.8 0M270.1 485.6a4.4 4.4 0 1 0 -8.8 0a4.4 4.4 0 1 0 8.8 0M271.0 486.0a4.4 4.4 0 1 0 -8.8 0a4.4 4.4 0 1 0 8.8 0M271.8 485.6a4.4 4.4 0 1 0 -8.8 0a4.4 4.4 0 1 0 8.8 0M272.7 486.0a4.4 4.4 0 1 0 -8.8 0a4.4 4.4 0 1 0 8.8 0M273.6 485.8a4.4 4.4 0 1 0 -8.8 0a4.4 4.4 0 1 0 8.8 0M274.9 481.0a4.4 4.4 0 1 0 -8.8 0a4.4 4.4 0 1 0 8.8 0M275.9 479.0a4.4 4.4 0 1 0 -8.8 0a4.4 4.4 0 1 0 8.8 0M276.9 477.5a4.4 4.4 0 1 0 -8.8 0a4.4 4.4 0 1 0 8.8 0M277.9 475.5a4.4 4.4 0 1 0 -8.8 0a4.4 4.4 0 1 0 8.8 0M279.4 474.0a4.4 4.4 0 1 0 -8.8 0a4.4 4.4 0 1 0 8.8 0M280.4 472.8a4.4 4.4 0 1 0 -8.8 0a4.4 4.4 0 1 0 8.8 0M281.1 472.3a4.4 4.4 0 1 0 -8.8 0a4.4 4.4 0 1 0 8.8 0M281.9 472.5a4.4 4.4 0 1 0 -8.8 0a4.4 4.4 0 1 0 8.8 0M282.7 473.0a4.4 4.4 0 1 0 -8.8 0a4.4 4.4 0 1 0 8.8 0M283.6 473.6a4.4 4.4 0 1 0 -8.8 0a4.4 4.4 0 1 0 8.8 0M284.4 474.5a4.4 4.4 0 1 0 -8.8 0a4.4 4.4 0 1 0 8.8 0M285.4 476.5a4.4 4.4 0 1 0 -8.8 0a4.4 4.4 0 1 0 8.8 0M285.9 477.5a4.4 4.4 0 1 0 -8.8 0a4.4 4.4 0 1 0 8.8 0M286.9 481.0a4.4 4.4 0 1 0 -8.8 0a4.4 4.4 0 1 0 8.8 0M286.9 485.6a4.4 4.4 0 1 0 -8.8 0a4.4 4.4 0 1 0 8.8 0M287.8 486.0a4.4 4.4 0 1 0 -8.8 0a4.4 4.4 0 1 0 8.8 0M288.6 485.6a4.4 4.4 0 1 0 -8.8 0a4.4 4.4 0 1 0 8.8 0M289.5 486.0a4.4 4.4 0 1 0 -8.8 0a4.4 4.4 0 1 0 8.8 0M290.3 485.6a4.4 4.4 0 1 0 -8.8 0a4.4 4.4 0 1 0 8.8 0M291.2 486.0a4.4 4.4 0 1 0 -8.8 0a4.4 4.4 0 1 0 8.8 0M292.1 485.6a4.4 4.4 0 1 0 -8.8 0a4.4 4.4 0 1 0 8.8 0M292.9 486.0a4.4 4.4 0 1 0 -8.8 0a4.4 4.4 0 1 0 8.8 0M293.8 485.6a4.4 4.4 0 1 0 -8.8 0a4.4 4.4 0 1 0 8.8 0M294.7 486.0a4.4 4.4 0 1 0 -8.8 0a4.4 4.4 0 1 0 8.8 0M295.5 485.6a4.4 4.4 0 1 0 -8.8 0a4.4 4.4 0 1 0 8.8 0M296.4 486.0a4.4 4.4 0 1 0 -8.8 0a4.4 4.4 0 1 0 8.8 0M297.2 485.6a4.4 4.4 0 1 0 -8.8 0a4.4 4.4 0 1 0 8.8 0M298.1 486.0a4.4 4.4 0 1 0 -8.8 0a4.4 4.4 0 1 0 8.8 0M299.0 485.6a4.4 4.4 0 1 0 -8.8 0a4.4 4.4 0 1 0 8.8 0M299.8 486.0a4.4 4.4 0 1 0 -8.8 0a4.4 4.4 0 1 0 8.8 0M300.7 485.6a4.4 4.4 0 1 0 -8.8 0a4.4 4.4 0 1 0 8.8 0M301.6 486.0a4.4 4.4 0 1 0 -8.8 0a4.4 4.4 0 1 0 8.8 0M302.4 485.6a4.4 4.4 0 1 0 -8.8 0a4.4 4.4 0 1 0 8.8 0M303.3 486.0a4.4 4.4 0 1 0 -8.8 0a4.4 4.4 0 1 0 8.8 0M304.1 485.6a4.4 4.4 0 1 0 -8.8 0a4.4 4.4 0 1 0 8.8 0M305.0 486.0a4.4 4.4 0 1 0 -8.8 0a4.4 4.4 0 1 0 8.8 0M305.9 485.6a4.4 4.4 0 1 0 -8.8 0a4.4 4.4 0 1 0 8.8 0M306.7 486.0a4.4 4.4 0 1 0 -8.8 0a4.4 4.4 0 1 0 8.8 0M307.6 485.6a4.4 4.4 0 1 0 -8.8 0a4.4 4.4 0 1 0 8.8 0M308.5 486.0a4.4 4.4 0 1 0 -8.8 0a4.4 4.4 0 1 0 8.8 0M309.3 485.6a4.4 4.4 0 1 0 -8.8 0a4.4 4.4 0 1 0 8.8 0M310.2 486.0a4.4 4.4 0 1 0 -8.8 0a4.4 4.4 0 1 0 8.8 0M311.0 485.6a4.4 4.4 0 1 0 -8.8 0a4.4 4.4 0 1 0 8.8 0M311.9 486.0a4.4 4.4 0 1 0 -8.8 0a4.4 4.4 0 1 0 8.8 0M312.8 485.6a4.4 4.4 0 1 0 -8.8 0a4.4 4.4 0 1 0 8.8 0M313.6 486.0a4.4 4.4 0 1 0 -8.8 0a4.4 4.4 0 1 0 8.8 0M314.5 485.6a4.4 4.4 0 1 0 -8.8 0a4.4 4.4 0 1 0 8.8 0M315.4 486.0a4.4 4.4 0 1 0 -8.8 0a4.4 4.4 0 1 0 8.8 0M316.2 485.6a4.4 4.4 0 1 0 -8.8 0a4.4 4.4 0 1 0 8.8 0M317.1 486.0a4.4 4.4 0 1 0 -8.8 0a4.4 4.4 0 1 0 8.8 0M317.9 485.6a4.4 4.4 0 1 0 -8.8 0a4.4 4.4 0 1 0 8.8 0M318.8 486.0a4.4 4.4 0 1 0 -8.8 0a4.4 4.4 0 1 0 8.8 0M319.7 485.6a4.4 4.4 0 1 0 -8.8 0a4.4 4.4 0 1 0 8.8 0M320.5 486.0a4.4 4.4 0 1 0 -8.8 0a4.4 4.4 0 1 0 8.8 0M321.4 485.8a4.4 4.4 0 1 0 -8.8 0a4.4 4.4 0 1 0 8.8 0M300.4 482.5a4.4 4.4 0 1 0 -8.8 0a4.4 4.4 0 1 0 8.8 0M302.9 481.2a4.4 4.4 0 1 0 -8.8 0a4.4 4.4 0 1 0 8.8 0M305.4 482.5a4.4 4.4 0 1 0 -8.8 0a4.4 4.4 0 1 0 8.8 0M311.9 481.5a4.4 4.4 0 1 0 -8.8 0a4.4 4.4 0 1 0 8.8 0M313.4 480.0a4.4 4.4 0 1 0 -8.8 0a4.4 4.4 0 1 0 8.8 0M315.0 479.3a4.4 4.4 0 1 0 -8.8 0a4.4 4.4 0 1 0 8.8 0M316.4 480.5a4.4 4.4 0 1 0 -8.8 0a4.4 4.4 0 1 0 8.8 0M323.6 478.8a4.4 4.4 0 1 0 -8.8 0a4.4 4.4 0 1 0 8.8 0"/>
<path d="M500.2 486.6a4.4 4.4 0 1 0 -8.8 0a4.4 4.4 0 1 0 8.8 0M501.1 487.0a4.4 4.4 0 1 0 -8.8 0a4.4 4.4 0 1 0 8.8 0M501.9 486.6a4.4 4.4 0 1 0 -8.8 0a4.4 4.4 0 1 0 8.8 0M502.8 487.0a4.4 4.4 0 1 0 -8.8 0a4.4 4.4 0 1 0 8.8 0M503.6 486.6a4.4 4.4 0 1 0 -8.8 0a4.4 4.4 0 1 0 8.8 0M504.5 487.0a4.4 4.4 0 1 0 -8.8 0a4.4 4.4 0 1 0 8.8 0M505.3 486.6a4.4 4.4 0 1 0 -8.8 0a4.4 4.4 0 1 0 8.8 0M506.2 487.0a4.4 4.4 0 1 0 -8.8 0a4.4 4.4 0 1 0 8.8 0M507.0 486.6a4.4 4.4 0 1 0 -8.8 0a4.4 4.4 0 1 0 8.8 0M507.9 487.0a4.4 4.4 0 1 0 -8.8 0a4.4 4.4 0 1 0 8.8 0M508.8 486.6a4.4 4.4 0 1 0 -8.8 0a4.4 4.4 0 1 0 8.8 0M509.6 487.0a4.4 4.4 0 1 0 -8.8 0a4.4 4.4 0 1 0 8.8 0M510.5 486.6a4.4 4.4 0 1 0 -8.8 0a4.4 4.4 0 1 0 8.8 0M511.3 487.0a4.4 4.4 0 1 0 -8.8 0a4.4 4.4 0 1 0 8.8 0M512.2 486.6a4.4 4.4 0 1 0 -8.8 0a4.4 4.4 0 1 0 8.8 0M513.0 487.0a4.4 4.4 0 1 0 -8.8 0a4.4 4.4 0 1 0 8.8 0M513.9 486.8a4.4 4.4 0 1 0 -8.8 0a4.4 4.4 0 1 0 8.8 0M509.9 484.0a4.4 4.4 0 1 0 -8.8 0a4.4 4.4 0 1 0 8.8 0M512.0 481.0a4.4 4.4 0 1 0 -8.8 0a4.4 4.4 0 1 0 8.8 0M514.2 478.5a4.4 4.4 0 1 0 -8.8 0a4.4 4.4 0 1 0 8.8 0M516.2 476.0a4.4 4.4 0 1 0 -8.8 0a4.4 4.4 0 1 0 8.8 0M517.9 474.3a4.4 4.4 0 1 0 -8.8 0a4.4 4.4 0 1 0 8.8 0M519.7 473.2a4.4 4.4 0 1 0 -8.8 0a4.4 4.4 0 1 0 8.8 0M521.4 472.8a4.4 4.4 0 1 0 -8.8 0a4.4 4.4 0 1 0 8.8 0M523.1 473.3a4.4 4.4 0 1 0 -8.8 0a4.4 4.4 0 1 0 8.8 0M524.9 474.5a4.4 4.4 0 1 0 -8.8 0a4.4 4.4 0 1 0 8.8 0M526.6 476.5a4.4 4.4 0 1 0 -8.8 0a4.4 4.4 0 1 0 8.8 0M528.2 479.0a4.4 4.4 0 1 0 -8.8 0a4.4 4.4 0 1 0 8.8 0M529.6 482.0a4.4 4.4 0 1 0 -8.8 0a4.4 4.4 0 1 0 8.8 0M529.4 486.6a4.4 4.4 0 1 0 -8.8 0a4.4 4.4 0 1 0 8.8 0M530.3 487.0a4.4 4.4 0 1 0 -8.8 0a4.4 4.4 0 1 0 8.8 0M531.1 486.6a4.4 4.4 0 1 0 -8.8 0a4.4 4.4 0 1 0 8.8 0M532.0 487.0a4.4 4.4 0 1 0 -8.8 0a4.4 4.4 0 1 0 8.8 0M532.8 486.6a4.4 4.4 0 1 0 -8.8 0a4.4 4.4 0 1 0 8.8 0M533.7 487.0a4.4 4.4 0 1 0 -8.8 0a4.4 4.4 0 1 0 8.8 0M534.5 486.6a4.4 4.4 0 1 0 -8.8 0a4.4 4.4 0 1 0 8.8 0M535.4 487.0a4.4 4.4 0 1 0 -8.8 0a4.4 4.4 0 1 0 8.8 0M536.3 486.6a4.4 4.4 0 1 0 -8.8 0a4.4 4.4 0 1 0 8.8 0M537.1 487.0a4.4 4.4 0 1 0 -8.8 0a4.4 4.4 0 1 0 8.8 0M538.0 486.6a4.4 4.4 0 1 0 -8.8 0a4.4 4.4 0 1 0 8.8 0M538.8 487.0a4.4 4.4 0 1 0 -8.8 0a4.4 4.4 0 1 0 8.8 0M539.7 486.6a4.4 4.4 0 1 0 -8.8 0a4.4 4.4 0 1 0 8.8 0M540.6 487.0a4.4 4.4 0 1 0 -8.8 0a4.4 4.4 0 1 0 8.8 0M541.4 486.6a4.4 4.4 0 1 0 -8.8 0a4.4 4.4 0 1 0 8.8 0M542.3 487.0a4.4 4.4 0 1 0 -8.8 0a4.4 4.4 0 1 0 8.8 0M543.1 486.6a4.4 4.4 0 1 0 -8.8 0a4.4 4.4 0 1 0 8.8 0M544.0 487.0a4.4 4.4 0 1 0 -8.8 0a4.4 4.4 0 1 0 8.8 0M544.9 486.6a4.4 4.4 0 1 0 -8.8 0a4.4 4.4 0 1 0 8.8 0M545.7 487.0a4.4 4.4 0 1 0 -8.8 0a4.4 4.4 0 1 0 8.8 0M546.6 486.6a4.4 4.4 0 1 0 -8.8 0a4.4 4.4 0 1 0 8.8 0M547.4 487.0a4.4 4.4 0 1 0 -8.8 0a4.4 4.4 0 1 0 8.8 0M548.3 486.6a4.4 4.4 0 1 0 -8.8 0a4.4 4.4 0 1 0 8.8 0M549.1 487.0a4.4 4.4 0 1 0 -8.8 0a4.4 4.4 0 1 0 8.8 0M550.0 486.8a4.4 4.4 0 1 0 -8.8 0a4.4 4.4 0 1 0 8.8 0M548.2 472.8a4.4 4.4 0 1 0 -8.8 0a4.4 4.4 0 1 0 8.8 0M548.8 462.0a4.4 4.4 0 1 0 -8.8 0a4.4 4.4 0 1 0 8.8 0M548.8 463.0a4.4 4.4 0 1 0 -8.8 0a4.4 4.4 0 1 0 8.8 0M550.0 460.1a4.4 4.4 0 1 0 -8.8 0a4.4 4.4 0 1 0 8.8 0M551.2 461.1a4.4 4.4 0 1 0 -8.8 0a4.4 4.4 0 1 0 8.8 0M552.0 461.0a4.4 4.4 0 1 0 -8.8 0a4.4 4.4 0 1 0 8.8 0M552.9 459.8a4.4 4.4 0 1 0 -8.8 0a4.4 4.4 0 1 0 8.8 0M553.9 458.9a4.4 4.4 0 1 0 -8.8 0a4.4 4.4 0 1 0 8.8 0M554.8 454.8a4.4 4.4 0 1 0 -8.8 0a4.4 4.4 0 1 0 8.8 0M555.8 455.2a4.4 4.4 0 1 0 -8.8 0a4.4 4.4 0 1 0 8.8 0M556.8 453.8a4.4 4.4 0 1 0 -8.8 0a4.4 4.4 0 1 0 8.8 0M557.8 452.7a4.4 4.4 0 1 0 -8.8 0a4.4 4.4 0 1 0 8.8 0M558.8 451.0a4.4 4.4 0 1 0 -8.8 0a4.4 4.4 0 1 0 8.8 0M559.8 451.1a4.4 4.4 0 1 0 -8.8 0a4.4 4.4 0 1 0 8.8 0M560.8 450.2a4.4 4.4 0 1 0 -8.8 0a4.4 4.4 0 1 0 8.8 0M562.4 447.5a4.4 4.4 0 1 0 -8.8 0a4.4 4.4 0 1 0 8.8 0M565.4 455.6a4.4 4.4 0 1 0 -8.8 0a4.4 4.4 0 1 0 8.8 0M566.6 463.4a4.4 4.4 0 1 0 -8.8 0a4.4 4.4 0 1 0 8.8 0M567.8 467.6a4.4 4.4 0 1 0 -8.8 0a4.4 4.4 0 1 0 8.8 0M569.6 474.8a4.4 4.4 0 1 0 -8.8 0a4.4 4.4 0 1 0 8.8 0M571.4 480.8a4.4 4.4 0 1 0 -8.8 0a4.4 4.4 0 1 0 8.8 0M572.0 486.6a4.4 4.4 0 1 0 -8.8 0a4.4 4.4 0 1 0 8.8 0M572.9 487.0a4.4 4.4 0 1 0 -8.8 0a4.4 4.4 0 1 0 8.8 0M573.7 486.6a4.4 4.4 0 1 0 -8.8 0a4.4 4.4 0 1 0 8.8 0M574.6 487.0a4.4 4.4 0 1 0 -8.8 0a4.4 4.4 0 1 0 8.8 0M575.4 486.6a4.4 4.4 0 1 0 -8.8 0a4.4 4.4 0 1 0 8.8 0M576.3 487.0a4.4 4.4 0 1 0 -8.8 0a4.4 4.4 0 1 0 8.8 0M577.1 486.6a4.4 4.4 0 1 0 -8.8 0a4.4 4.4 0 1 0 8.8 0M578.0 487.0a4.4 4.4 0 1 0 -8.8 0a4.4 4.4 0 1 0 8.8 0M578.9 486.6a4.4 4.4 0 1 0 -8.8 0a4.4 4.4 0 1 0 8.8 0M579.7 487.0a4.4 4.4 0 1 0 -8.8 0a4.4 4.4 0 1 0 8.8 0M580.6 486.6a4.4 4.4 0 1 0 -8.8 0a4.4 4.4 0 1 0 8.8 0M581.4 487.0a4.4 4.4 0 1 0 -8.8 0a4.4 4.4 0 1 0 8.8 0M582.3 486.6a4.4 4.4 0 1 0 -8.8 0a4.4 4.4 0 1 0 8.8 0M583.1 487.0a4.4 4.4 0 1 0 -8.8 0a4.4 4.4 0 1 0 8.8 0M584.0 486.6a4.4 4.4 0 1 0 -8.8 0a4.4 4.4 0 1 0 8.8 0M584.9 487.0a4.4 4.4 0 1 0 -8.8 0a4.4 4.4 0 1 0 8.8 0M585.7 486.6a4.4 4.4 0 1 0 -8.8 0a4.4 4.4 0 1 0 8.8 0M586.6 487.0a4.4 4.4 0 1 0 -8.8 0a4.4 4.4 0 1 0 8.8 0M587.4 486.6a4.4 4.4 0 1 0 -8.8 0a4.4 4.4 0 1 0 8.8 0M588.3 487.0a4.4 4.4 0 1 0 -8.8 0a4.4 4.4 0 1 0 8.8 0M589.1 486.6a4.4 4.4 0 1 0 -8.8 0a4.4 4.4 0 1 0 8.8 0M590.0 486.8a4.4 4.4 0 1 0 -8.8 0a4.4 4.4 0 1 0 8.8 0M589.4 474.8a4.4 4.4 0 1 0 -8.8 0a4.4 4.4 0 1 0 8.8 0M591.8 468.8a4.4 4.4 0 1 0 -8.8 0a4.4 4.4 0 1 0 8.8 0M593.0 461.6a4.4 4.4 0 1 0 -8.8 0a4.4 4.4 0 1 0 8.8 0M594.8 455.6a4.4 4.4 0 1 0 -8.8 0a4.4 4.4 0 1 0 8.8 0M596.6 449.0a4.4 4.4 0 1 0 -8.8 0a4.4 4.4 0 1 0 8.8 0M597.8 442.4a4.4 4.4 0 1 0 -8.8 0a4.4 4.4 0 1 0 8.8 0M599.6 436.4a4.4 4.4 0 1 0 -8.8 0a4.4 4.4 0 1 0 8.8 0M601.8 435.6a4.4 4.4 0 1 0 -8.8 0a4.4 4.4 0 1 0 8.8 0M602.0 433.4a4.4 4.4 0 1 0 -8.8 0a4.4 4.4 0 1 0 8.8 0M603.8 431.6a4.4 4.4 0 1 0 -8.8 0a4.4 4.4 0 1 0 8.8 0M603.6 431.4a4.4 4.4 0 1 0 -8.8 0a4.4 4.4 0 1 0 8.8 0M605.4 440.4a4.4 4.4 0 1 0 -8.8 0a4.4 4.4 0 1 0 8.8 0M606.6 445.2a4.4 4.4 0 1 0 -8.8 0a4.4 4.4 0 1 0 8.8 0M608.4 448.2a4.4 4.4 0 1 0 -8.8 0a4.4 4.4 0 1 0 8.8 0M609.6 453.0a4.4 4.4 0 1 0 -8.8 0a4.4 4.4 0 1 0 8.8 0M610.8 464.4a4.4 4.4 0 1 0 -8.8 0a4.4 4.4 0 1 0 8.8 0M612.6 475.8a4.4 4.4 0 1 0 -8.8 0a4.4 4.4 0 1 0 8.8 0M614.9 486.6a4.4 4.4 0 1 0 -8.8 0a4.4 4.4 0 1 0 8.8 0M615.8 487.0a4.4 4.4 0 1 0 -8.8 0a4.4 4.4 0 1 0 8.8 0M616.6 486.6a4.4 4.4 0 1 0 -8.8 0a4.4 4.4 0 1 0 8.8 0M617.5 487.0a4.4 4.4 0 1 0 -8.8 0a4.4 4.4 0 1 0 8.8 0M618.4 486.6a4.4 4.4 0 1 0 -8.8 0a4.4 4.4 0 1 0 8.8 0M619.2 487.0a4.4 4.4 0 1 0 -8.8 0a4.4 4.4 0 1 0 8.8 0M620.1 486.6a4.4 4.4 0 1 0 -8.8 0a4.4 4.4 0 1 0 8.8 0M620.9 487.0a4.4 4.4 0 1 0 -8.8 0a4.4 4.4 0 1 0 8.8 0M621.8 486.6a4.4 4.4 0 1 0 -8.8 0a4.4 4.4 0 1 0 8.8 0M622.7 487.0a4.4 4.4 0 1 0 -8.8 0a4.4 4.4 0 1 0 8.8 0M623.5 486.6a4.4 4.4 0 1 0 -8.8 0a4.4 4.4 0 1 0 8.8 0M624.4 487.0a4.4 4.4 0 1 0 -8.8 0a4.4 4.4 0 1 0 8.8 0M625.4 485.9a4.4 4.4 0 1 0 -8.8 0a4.4 4.4 0 1 0 8.8 0M626.4 485.7a4.4 4.4 0 1 0 -8.8 0a4.4 4.4 0 1 0 8.8 0M627.4 484.1a4.4 4.4 0 1 0 -8.8 0a4.4 4.4 0 1 0 8.8 0M628.4 483.2a4.4 4.4 0 1 0 -8.8 0a4.4 4.4 0 1 0 8.8 0M629.4 481.6a4.4 4.4 0 1 0 -8.8 0a4.4 4.4 0 1 0 8.8 0M630.4 480.7a4.4 4.4 0 1 0 -8.8 0a4.4 4.4 0 1 0 8.8 0M631.1 479.3a4.4 4.4 0 1 0 -8.8 0a4.4 4.4 0 1 0 8.8 0M631.9 478.5a4.4 4.4 0 1 0 -8.8 0a4.4 4.4 0 1 0 8.8 0M631.8 465.0a4.4 4.4 0 1 0 -8.8 0a4.4 4.4 0 1 0 8.8 0M633.6 450.0a4.4 4.4 0 1 0 -8.8 0a4.4 4.4 0 1 0 8.8 0M634.8 435.6a4.4 4.4 0 1 0 -8.8 0a4.4 4.4 0 1 0 8.8 0M635.4 433.2a4.4 4.4 0 1 0 -8.8 0a4.4 4.4 0 1 0 8.8 0M637.8 429.6a4.4 4.4 0 1 0 -8.8 0a4.4 4.4 0 1 0 8.8 0M640.2 427.2a4.4 4.4 0 1 0 -8.8 0a4.4 4.4 0 1 0 8.8 0M642.6 429.6a4.4 4.4 0 1 0 -8.8 0a4.4 4.4 0 1 0 8.8 0M644.4 433.2a4.4 4.4 0 1 0 -8.8 0a4.4 4.4 0 1 0 8.8 0M645.6 435.6a4.4 4.4 0 1 0 -8.8 0a4.4 4.4 0 1 0 8.8 0M646.8 442.2a4.4 4.4 0 1 0 -8.8 0a4.4 4.4 0 1 0 8.8 0M648.2 441.9a4.4 4.4 0 1 0 -8.8 0a4.4 4.4 0 1 0 8.8 0M648.6 448.2a4.4 4.4 0 1 0 -8.8 0a4.4 4.4 0 1 0 8.8 0M649.6 448.0a4.4 4.4 0 1 0 -8.8 0a4.4 4.4 0 1 0 8.8 0M650.4 454.8a4.4 4.4 0 1 0 -8.8 0a4.4 4.4 0 1 0 8.8 0M651.0 455.1a4.4 4.4 0 1 0 -8.8 0a4.4 4.4 0 1 0 8.8 0M652.8 465.6a4.4 4.4 0 1 0 -8.8 0a4.4 4.4 0 1 0 8.8 0M654.6 475.8a4.4 4.4 0 1 0 -8.8 0a4.4 4.4 0 1 0 8.8 0M656.8 486.6a4.4 4.4 0 1 0 -8.8 0a4.4 4.4 0 1 0 8.8 0M657.7 487.0a4.4 4.4 0 1 0 -8.8 0a4.4 4.4 0 1 0 8.8 0M658.5 486.6a4.4 4.4 0 1 0 -8.8 0a4.4 4.4 0 1 0 8.8 0M659.4 487.0a4.4 4.4 0 1 0 -8.8 0a4.4 4.4 0 1 0 8.8 0M660.2 486.6a4.4 4.4 0 1 0 -8.8 0a4.4 4.4 0 1 0 8.8 0M661.1 487.0a4.4 4.4 0 1 0 -8.8 0a4.4 4.4 0 1 0 8.8 0M661.9 486.6a4.4 4.4 0 1 0 -8.8 0a4.4 4.4 0 1 0 8.8 0M662.8 487.0a4.4 4.4 0 1 0 -8.8 0a4.4 4.4 0 1 0 8.8 0M663.6 486.6a4.4 4.4 0 1 0 -8.8 0a4.4 4.4 0 1 0 8.8 0M664.5 487.0a4.4 4.4 0 1 0 -8.8 0a4.4 4.4 0 1 0 8.8 0M665.3 486.6a4.4 4.4 0 1 0 -8.8 0a4.4 4.4 0 1 0 8.8 0M666.2 486.8a4.4 4.4 0 1 0 -8.8 0a4.4 4.4 0 1 0 8.8 0"/>
</g>
<text x="138.00" y="52.50" text-anchor="end" font-size="18.3" fill="#262626" textLength="43.00" lengthAdjust="spacingAndGlyphs">1000</text>
<text x="138.00" y="81.55" text-anchor="end" font-size="18.3" fill="#262626" textLength="32.25" lengthAdjust="spacingAndGlyphs">900</text>
<text x="138.00" y="110.50" text-anchor="end" font-size="18.3" fill="#262626" textLength="32.25" lengthAdjust="spacingAndGlyphs">800</text>
<text x="481.10" y="55.65" text-anchor="end" font-size="18.3" fill="#262626" textLength="32.25" lengthAdjust="spacingAndGlyphs">295</text>
<text x="481.10" y="88.45" text-anchor="end" font-size="18.3" fill="#262626" textLength="32.25" lengthAdjust="spacingAndGlyphs">290</text>
<text x="138.00" y="186.85" text-anchor="end" font-size="18.3" fill="#262626" textLength="32.25" lengthAdjust="spacingAndGlyphs">290</text>
<text x="138.00" y="209.75" text-anchor="end" font-size="18.3" fill="#262626" textLength="32.25" lengthAdjust="spacingAndGlyphs">285</text>
<text x="138.00" y="232.35" text-anchor="end" font-size="18.3" fill="#262626" textLength="32.25" lengthAdjust="spacingAndGlyphs">280</text>
<text x="481.10" y="178.75" text-anchor="end" font-size="18.3" fill="#262626" textLength="10.75" lengthAdjust="spacingAndGlyphs">5</text>
<text x="481.10" y="238.15" text-anchor="end" font-size="18.3" fill="#262626" textLength="10.75" lengthAdjust="spacingAndGlyphs">0</text>
<text x="138.00" y="315.35" text-anchor="end" font-size="18.3" fill="#262626" textLength="43.00" lengthAdjust="spacingAndGlyphs">1000</text>
<text x="138.00" y="340.55" text-anchor="end" font-size="18.3" fill="#262626" textLength="32.25" lengthAdjust="spacingAndGlyphs">500</text>
<text x="138.00" y="365.75" text-anchor="end" font-size="18.3" fill="#262626" textLength="10.75" lengthAdjust="spacingAndGlyphs">0</text>
<text x="481.10" y="321.65" text-anchor="end" font-size="18.3" fill="#262626" textLength="10.75" lengthAdjust="spacingAndGlyphs">8</text>
<text x="481.10" y="341.25" text-anchor="end" font-size="18.3" fill="#262626" textLength="10.75" lengthAdjust="spacingAndGlyphs">7</text>
<text x="481.10" y="360.85" text-anchor="end" font-size="18.3" fill="#262626" textLength="10.75" lengthAdjust="spacingAndGlyphs">6</text>
<text x="138.00" y="446.65" text-anchor="end" font-size="18.3" fill="#262626" textLength="32.25" lengthAdjust="spacingAndGlyphs">200</text>
<text x="138.00" y="469.55" text-anchor="end" font-size="18.3" fill="#262626" textLength="32.25" lengthAdjust="spacingAndGlyphs">100</text>
<text x="138.00" y="492.35" text-anchor="end" font-size="18.3" fill="#262626" textLength="10.75" lengthAdjust="spacingAndGlyphs">0</text>
<text x="481.10" y="443.95" text-anchor="end" font-size="18.3" fill="#262626" textLength="32.25" lengthAdjust="spacingAndGlyphs">500</text>
<text x="481.10" y="493.75" text-anchor="end" font-size="18.3" fill="#262626" textLength="10.75" lengthAdjust="spacingAndGlyphs">0</text>
<text x="251.2" y="32.0" text-anchor="middle" font-size="21.2" font-weight="bold" fill="#000" textLength="180.5" lengthAdjust="spacingAndGlyphs">Figure 3 medium</text>
<text transform="translate(84.20,73.90) rotate(-90)" text-anchor="middle" font-size="20.4" fill="#262626" textLength="100.5" lengthAdjust="spacingAndGlyphs"><tspan>PRESSURE</tspan></text>
<text transform="translate(437.70,74.35) rotate(-90)" text-anchor="middle" font-size="20.4" fill="#262626" textLength="65" lengthAdjust="spacingAndGlyphs"><tspan>THETA</tspan></text>
<text transform="translate(86.00,201.10) rotate(-90)" text-anchor="middle" font-size="20.4" fill="#262626" textLength="89" lengthAdjust="spacingAndGlyphs"><tspan>AIR</tspan><tspan font-size="16" dy="9.5">T</tspan><tspan font-size="20.4" dy="-9.5">EMP</tspan></text>
<text transform="translate(460.00,201.45) rotate(-90)" text-anchor="middle" font-size="20.4" fill="#262626" textLength="96" lengthAdjust="spacingAndGlyphs"><tspan>RAINFALL</tspan></text>
<text transform="translate(84.10,330.35) rotate(-90)" text-anchor="middle" font-size="20.4" fill="#262626" textLength="107.5" lengthAdjust="spacingAndGlyphs"><tspan>MIXDEPTH</tspan></text>
<text transform="translate(460.60,328.75) rotate(-90)" text-anchor="middle" font-size="20.4" fill="#262626" textLength="110" lengthAdjust="spacingAndGlyphs"><tspan>H2OMIXRA</tspan></text>
<text transform="translate(86.30,457.10) rotate(-90)" text-anchor="middle" font-size="20.4" fill="#262626" textLength="90" lengthAdjust="spacingAndGlyphs"><tspan>TERR</tspan><tspan font-size="16" dy="9.5">M</tspan><tspan font-size="20.4" dy="-9.5">SL</tspan></text>
<text transform="translate(398.80,457.05) rotate(-90)" text-anchor="middle" font-size="20.4" fill="#262626" textLength="94" lengthAdjust="spacingAndGlyphs"><tspan>SUN</tspan><tspan font-size="16" dy="9.5">F</tspan><tspan font-size="20.4" dy="-9.5">LUX</tspan></text>
<text x="160.40" y="510.40" text-anchor="end" font-size="19.9" fill="#262626" transform="rotate(-45 160.40 510.40)">08/15</text>
<text x="202.02" y="510.40" text-anchor="end" font-size="19.9" fill="#262626" transform="rotate(-45 202.02 510.40)">08/16</text>
<text x="243.64" y="510.40" text-anchor="end" font-size="19.9" fill="#262626" transform="rotate(-45 243.64 510.40)">08/17</text>
<text x="285.26" y="510.40" text-anchor="end" font-size="19.9" fill="#262626" transform="rotate(-45 285.26 510.40)">08/18</text>
<text x="326.88" y="510.40" text-anchor="end" font-size="19.9" fill="#262626" transform="rotate(-45 326.88 510.40)">08/19</text>
<text x="368.50" y="510.40" text-anchor="end" font-size="19.9" fill="#262626" transform="rotate(-45 368.50 510.40)">08/20</text>
<text x="250.85" y="575.9" text-anchor="middle" font-size="20.8" fill="#262626" textLength="50.5" lengthAdjust="spacingAndGlyphs">Time</text>
<text x="503.50" y="510.40" text-anchor="end" font-size="19.9" fill="#262626" transform="rotate(-45 503.50 510.40)">08/15</text>
<text x="545.12" y="510.40" text-anchor="end" font-size="19.9" fill="#262626" transform="rotate(-45 545.12 510.40)">08/16</text>
<text x="586.74" y="510.40" text-anchor="end" font-size="19.9" fill="#262626" transform="rotate(-45 586.74 510.40)">08/17</text>
<text x="628.36" y="510.40" text-anchor="end" font-size="19.9" fill="#262626" transform="rotate(-45 628.36 510.40)">08/18</text>
<text x="669.98" y="510.40" text-anchor="end" font-size="19.9" fill="#262626" transform="rotate(-45 669.98 510.40)">08/19</text>
<text x="711.60" y="510.40" text-anchor="end" font-size="19.9" fill="#262626" transform="rotate(-45 711.60 510.40)">08/20</text>
<text x="593.95" y="575.9" text-anchor="middle" font-size="20.8" fill="#262626" textLength="50.5" lengthAdjust="spacingAndGlyphs">Time</text>
</svg>
</body></html>
